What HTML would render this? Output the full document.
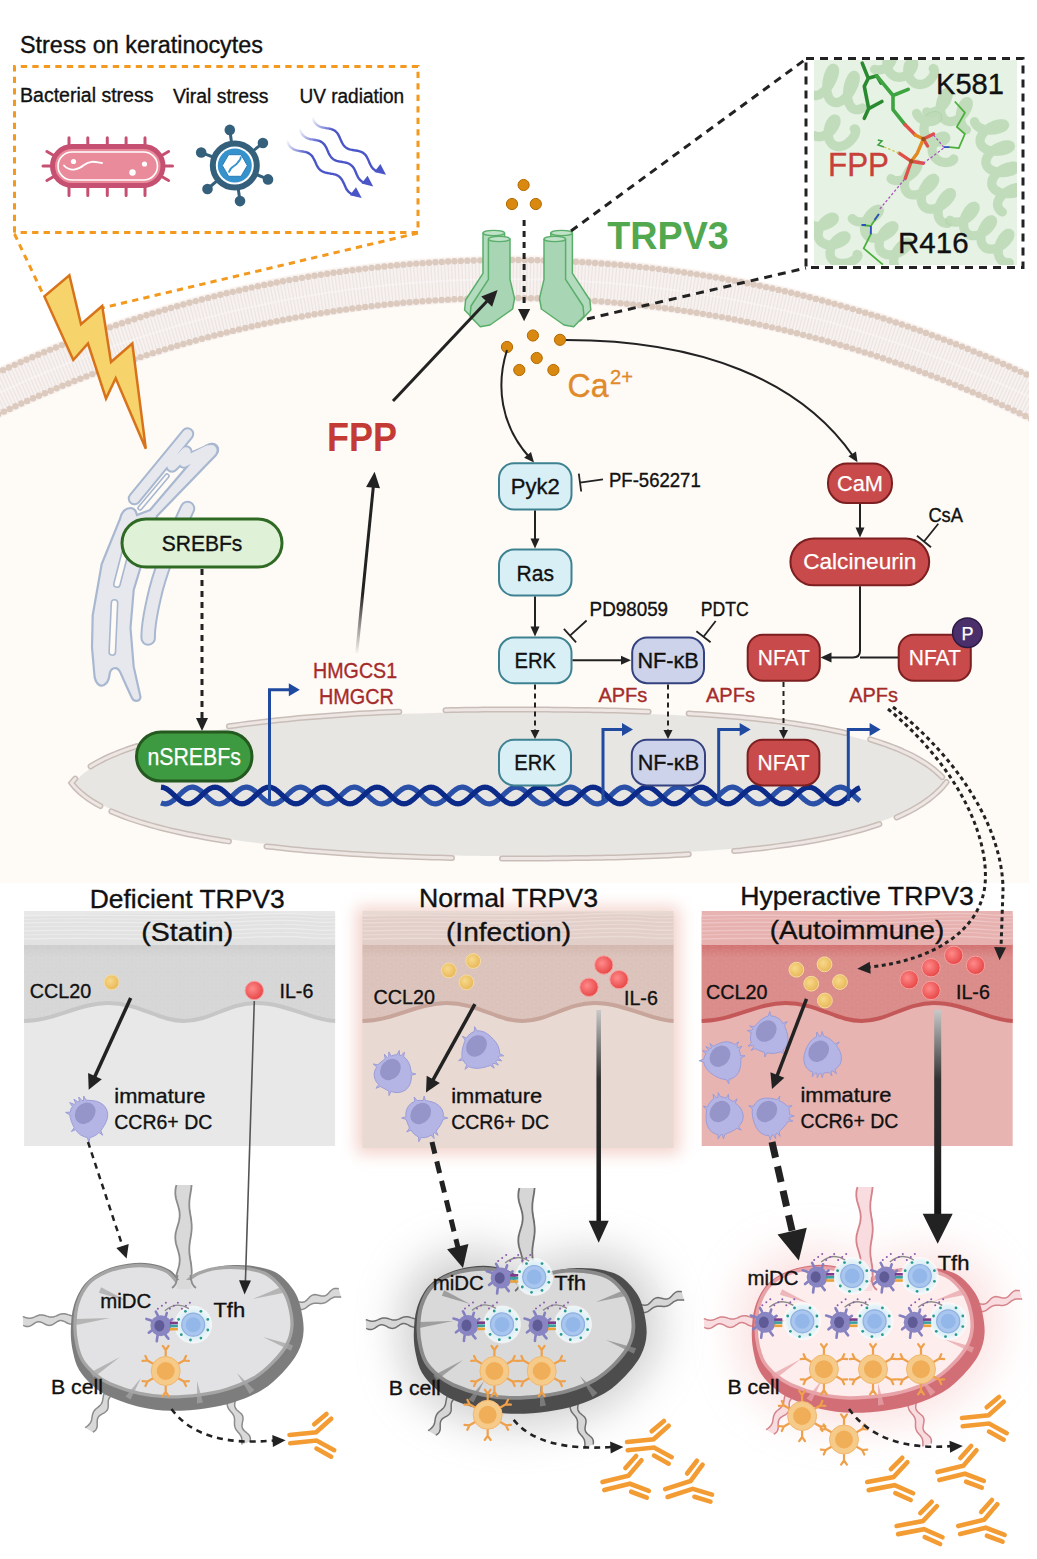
<!DOCTYPE html>
<html><head><meta charset="utf-8">
<style>
html,body{margin:0;padding:0;background:#fff;width:1037px;height:1559px;overflow:hidden}
svg{display:block}
text{font-family:"Liberation Sans",sans-serif}
</style></head><body>
<svg width="1037" height="1559" viewBox="0 0 1037 1559">
<defs>
<clipPath id="cellclip"><rect x="0" y="0" width="1029" height="883"/></clipPath>
<marker id="ah" viewBox="0 0 10 10" refX="9" refY="5" markerWidth="9" markerHeight="9" markerUnits="userSpaceOnUse" orient="auto"><path d="M0,0 L10,5 L0,10 z" fill="#222"/></marker>
<marker id="ahb" viewBox="0 0 10 10" refX="9" refY="5" markerWidth="12" markerHeight="12" markerUnits="userSpaceOnUse" orient="auto"><path d="M0,0 L10,5 L0,10 z" fill="#222"/></marker>
<filter id="blur8" x="-50%" y="-50%" width="200%" height="200%"><feGaussianBlur stdDeviation="8"/></filter>
<filter id="blur20" x="-50%" y="-50%" width="200%" height="200%"><feGaussianBlur stdDeviation="22"/></filter>
<filter id="blur3" x="-50%" y="-50%" width="200%" height="200%"><feGaussianBlur stdDeviation="3"/></filter>
<linearGradient id="il6g" x1="0" y1="0" x2="0" y2="1"><stop offset="0" stop-color="#bbb"/><stop offset="0.45" stop-color="#222"/><stop offset="1" stop-color="#111"/></linearGradient>
<radialGradient id="ydot" cx="0.4" cy="0.4" r="0.6"><stop offset="0" stop-color="#f7d98a"/><stop offset="1" stop-color="#e9b85a"/></radialGradient>
<radialGradient id="rdot" cx="0.4" cy="0.4" r="0.6"><stop offset="0" stop-color="#ff8a8a"/><stop offset="1" stop-color="#e84848"/></radialGradient>
<linearGradient id="fadeup" gradientUnits="userSpaceOnUse" x1="356" y1="655" x2="374" y2="480"><stop offset="0" stop-color="#222" stop-opacity="0"/><stop offset="0.35" stop-color="#222"/><stop offset="1" stop-color="#222"/></linearGradient>
<radialGradient id="thalo"><stop offset="0.55" stop-color="#d6ecf4"/><stop offset="0.85" stop-color="#e8f4f8"/><stop offset="1" stop-color="#ffffff" stop-opacity="0.6"/></radialGradient>
</defs>
<rect width="1037" height="1559" fill="#fff"/>
<g clip-path="url(#cellclip)">
<circle cx="510" cy="1482" r="1227" fill="#fefaf6"/>
<circle cx="510" cy="1482" r="1203" fill="none" stroke="#f7f2f0" stroke-width="46"/>
<circle cx="510" cy="1482" r="1203" fill="none" stroke="#e2d8d4" stroke-width="34" stroke-dasharray="1.2 2.2" opacity="0.5"/>
<circle cx="510" cy="1482" r="1203" fill="none" stroke="#fbf8f7" stroke-width="2" opacity="0.5"/>
<circle cx="510" cy="1482" r="1222" fill="none" stroke="#dccabf" stroke-width="6.4" stroke-dasharray="0 6.4" stroke-linecap="round"/>
<circle cx="510" cy="1482" r="1184" fill="none" stroke="#dccabf" stroke-width="6.4" stroke-dasharray="0 6.4" stroke-linecap="round"/>
<path d="M74.0,783.0 L75.8,780.8 L77.8,778.7 L79.9,776.7 L82.2,774.6 L84.7,772.6 L87.3,770.7 L90.1,768.8 L93.1,766.9 L96.1,765.1 L99.4,763.3 L102.7,761.5 L106.3,759.8 L109.9,758.2 L113.7,756.5 L117.6,754.9 L121.6,753.3 L125.8,751.8 L130.1,750.3 L134.5,748.9 L139.0,747.4 L143.6,746.0 L148.4,744.7 L153.2,743.4 L158.2,742.1 L163.2,740.8 L168.4,739.6 L173.6,738.4 L178.9,737.3 L184.4,736.1 L189.9,735.0 L195.5,734.0 L201.1,733.0 L206.9,732.0 L212.7,731.0 L218.6,730.0 L224.6,729.1 L230.6,728.2 L236.7,727.4 L242.8,726.6 L249.0,725.8 L255.3,725.0 L261.6,724.2 L267.9,723.5 L274.3,722.8 L280.7,722.1 L287.2,721.5 L293.7,720.9 L300.2,720.3 L306.8,719.7 L313.4,719.2 L320.0,718.6 L326.6,718.1 L333.3,717.7 L339.9,717.2 L346.6,716.8 L353.3,716.4 L360.0,716.0 L366.6,715.6 L373.3,715.3 L380.0,714.9 L386.7,714.6 L393.3,714.3 L400.0,714.1 L406.6,713.8 L413.2,713.6 L419.8,713.4 L426.4,713.2 L432.9,713.0 L439.4,712.8 L445.9,712.7 L452.3,712.5 L458.7,712.4 L465.0,712.3 L471.3,712.2 L477.6,712.2 L483.8,712.1 L489.9,712.1 L496.0,712.0 L502.0,712.0 L508.0,712.0 L514.5,712.0 L521.0,712.0 L527.5,712.0 L534.1,712.0 L540.6,712.1 L547.3,712.1 L553.9,712.2 L560.5,712.2 L567.2,712.3 L573.9,712.3 L580.6,712.4 L587.3,712.5 L594.0,712.6 L600.8,712.8 L607.5,712.9 L614.2,713.0 L620.9,713.2 L627.7,713.4 L634.4,713.6 L641.1,713.8 L647.8,714.0 L654.5,714.3 L661.2,714.5 L667.8,714.8 L674.5,715.1 L681.1,715.5 L687.7,715.8 L694.2,716.2 L700.8,716.6 L707.3,717.0 L713.8,717.5 L720.2,717.9 L726.6,718.4 L733.0,718.9 L739.3,719.5 L745.6,720.0 L751.8,720.6 L758.0,721.3 L764.2,721.9 L770.2,722.6 L776.3,723.3 L782.2,724.1 L788.2,724.9 L794.0,725.7 L799.8,726.5 L805.5,727.4 L811.2,728.3 L816.7,729.3 L822.2,730.3 L827.7,731.3 L833.0,732.3 L838.3,733.4 L843.5,734.6 L848.6,735.7 L853.6,737.0 L858.5,738.2 L863.4,739.5 L868.1,740.8 L872.7,742.2 L877.3,743.6 L881.7,745.1 L886.1,746.6 L890.3,748.2 L894.4,749.8 L898.5,751.4 L902.4,753.1 L906.1,754.8 L909.8,756.6 L913.4,758.4 L916.8,760.3 L920.1,762.3 L923.3,764.2 L926.4,766.3 L929.3,768.4 L932.1,770.5 L934.8,772.7 L937.3,774.9 L939.7,777.2 L941.9,779.6 L944.0,782.0 L941.9,784.6 L939.7,787.1 L937.3,789.5 L934.8,791.9 L932.1,794.2 L929.3,796.5 L926.4,798.7 L923.3,800.8 L920.1,802.9 L916.8,805.0 L913.4,807.0 L909.8,808.9 L906.1,810.8 L902.4,812.7 L898.5,814.5 L894.4,816.2 L890.3,817.9 L886.1,819.5 L881.7,821.1 L877.3,822.7 L872.7,824.2 L868.1,825.6 L863.4,827.0 L858.5,828.4 L853.6,829.7 L848.6,831.0 L843.5,832.3 L838.3,833.5 L833.0,834.6 L827.7,835.7 L822.2,836.8 L816.7,837.9 L811.2,838.9 L805.5,839.8 L799.8,840.8 L794.0,841.6 L788.2,842.5 L782.2,843.3 L776.3,844.1 L770.2,844.9 L764.2,845.6 L758.0,846.3 L751.8,847.0 L745.6,847.6 L739.3,848.2 L733.0,848.8 L726.6,849.3 L720.2,849.8 L713.8,850.3 L707.3,850.8 L700.8,851.2 L694.2,851.6 L687.7,852.0 L681.1,852.4 L674.5,852.7 L667.8,853.1 L661.2,853.4 L654.5,853.6 L647.8,853.9 L641.1,854.1 L634.4,854.4 L627.7,854.6 L620.9,854.8 L614.2,854.9 L607.5,855.1 L600.8,855.2 L594.0,855.4 L587.3,855.5 L580.6,855.6 L573.9,855.7 L567.2,855.7 L560.5,855.8 L553.9,855.8 L547.3,855.9 L540.6,855.9 L534.1,856.0 L527.5,856.0 L521.0,856.0 L514.5,856.0 L508.0,856.0 L502.0,856.0 L496.0,856.0 L489.9,855.9 L483.8,855.9 L477.6,855.8 L471.3,855.8 L465.0,855.7 L458.7,855.6 L452.3,855.5 L445.9,855.3 L439.4,855.2 L432.9,855.0 L426.4,854.8 L419.8,854.6 L413.2,854.4 L406.6,854.2 L400.0,853.9 L393.3,853.6 L386.7,853.3 L380.0,853.0 L373.3,852.7 L366.6,852.3 L360.0,852.0 L353.3,851.6 L346.6,851.2 L339.9,850.7 L333.3,850.3 L326.6,849.8 L320.0,849.3 L313.4,848.7 L306.8,848.2 L300.2,847.6 L293.7,847.0 L287.2,846.3 L280.7,845.7 L274.3,845.0 L267.9,844.3 L261.6,843.6 L255.3,842.8 L249.0,842.0 L242.8,841.2 L236.7,840.3 L230.6,839.5 L224.6,838.5 L218.6,837.6 L212.7,836.6 L206.9,835.6 L201.1,834.6 L195.5,833.6 L189.9,832.5 L184.4,831.3 L178.9,830.2 L173.6,829.0 L168.4,827.8 L163.2,826.5 L158.2,825.2 L153.2,823.9 L148.4,822.5 L143.6,821.1 L139.0,819.7 L134.5,818.3 L130.1,816.7 L125.8,815.2 L121.6,813.6 L117.6,812.0 L113.7,810.4 L109.9,808.7 L106.3,806.9 L102.7,805.2 L99.4,803.4 L96.1,801.5 L93.1,799.6 L90.1,797.7 L87.3,795.7 L84.7,793.7 L82.2,791.7 L79.9,789.6 L77.8,787.4 L75.8,785.2Z" fill="#e8e6e3"/>
<path d="M90.6,766.4 L93.7,764.5 L97.0,762.6 L100.4,760.8 L103.9,759.0 L107.5,757.3 L111.4,755.6 L115.3,754.0 L119.3,752.3 L123.5,750.7 L127.8,749.2 L132.3,747.7 L136.8,746.2" fill="none" stroke="#c9bdb7" stroke-width="6" stroke-linecap="round"/>
<path d="M90.6,766.4 L93.7,764.5 L97.0,762.6 L100.4,760.8 L103.9,759.0 L107.5,757.3 L111.4,755.6 L115.3,754.0 L119.3,752.3 L123.5,750.7 L127.8,749.2 L132.3,747.7 L136.8,746.2" fill="none" stroke="#ede6e2" stroke-width="3" stroke-linecap="round"/>
<path d="M228.9,726.3 L235.1,725.5 L241.2,724.6 L247.5,723.8 L253.8,723.0 L260.1,722.2 L266.5,721.4 L272.9,720.7 L279.4,720.0 L285.9,719.4 L292.4,718.7 L299.0,718.1 L305.6,717.5 L312.2,717.0 L318.9,716.4 L325.5,715.9 L332.2,715.4 L338.9,714.9 L345.6,714.5 L352.4,714.0 L359.1,713.6 L365.8,713.3 L372.5,712.9 L379.2,712.6 L385.9,712.2 L392.6,711.9 L399.3,711.7" fill="none" stroke="#c9bdb7" stroke-width="6" stroke-linecap="round"/>
<path d="M228.9,726.3 L235.1,725.5 L241.2,724.6 L247.5,723.8 L253.8,723.0 L260.1,722.2 L266.5,721.4 L272.9,720.7 L279.4,720.0 L285.9,719.4 L292.4,718.7 L299.0,718.1 L305.6,717.5 L312.2,717.0 L318.9,716.4 L325.5,715.9 L332.2,715.4 L338.9,714.9 L345.6,714.5 L352.4,714.0 L359.1,713.6 L365.8,713.3 L372.5,712.9 L379.2,712.6 L385.9,712.2 L392.6,711.9 L399.3,711.7" fill="none" stroke="#ede6e2" stroke-width="3" stroke-linecap="round"/>
<path d="M445.5,710.2 L452.0,710.1 L458.4,709.9 L464.8,709.8 L471.1,709.7 L477.4,709.7 L483.6,709.6 L489.8,709.6 L495.9,709.5 L502.0,709.5 L508.0,709.5 L514.5,709.5 L521.0,709.5 L527.6,709.5 L534.2,709.5 L540.8,709.6 L547.5,709.6 L554.2,709.7 L560.9,709.7 L567.6,709.8 L574.3,709.9 L581.0,710.0 L587.8,710.1 L594.5,710.2 L601.3,710.3 L608.1,710.5 L614.8,710.6 L621.6,710.8 L628.4,711.0 L635.1,711.2 L641.9,711.4 L648.6,711.7" fill="none" stroke="#c9bdb7" stroke-width="6" stroke-linecap="round"/>
<path d="M445.5,710.2 L452.0,710.1 L458.4,709.9 L464.8,709.8 L471.1,709.7 L477.4,709.7 L483.6,709.6 L489.8,709.6 L495.9,709.5 L502.0,709.5 L508.0,709.5 L514.5,709.5 L521.0,709.5 L527.6,709.5 L534.2,709.5 L540.8,709.6 L547.5,709.6 L554.2,709.7 L560.9,709.7 L567.6,709.8 L574.3,709.9 L581.0,710.0 L587.8,710.1 L594.5,710.2 L601.3,710.3 L608.1,710.5 L614.8,710.6 L621.6,710.8 L628.4,711.0 L635.1,711.2 L641.9,711.4 L648.6,711.7" fill="none" stroke="#ede6e2" stroke-width="3" stroke-linecap="round"/>
<path d="M688.7,713.5 L695.3,713.9 L701.9,714.3 L708.4,714.8 L714.9,715.2 L721.4,715.7 L727.9,716.2 L734.3,716.8 L740.6,717.3 L746.9,717.9 L753.2,718.6 L759.4,719.2 L765.6,719.9 L771.7,720.6 L777.8,721.4 L783.8,722.1 L789.7,722.9 L795.6,723.8 L801.4,724.7 L807.2,725.6 L812.9,726.5 L818.5,727.5 L824.0,728.5 L829.5,729.6 L834.9,730.7 L840.2,731.8 L845.4,733.0" fill="none" stroke="#c9bdb7" stroke-width="6" stroke-linecap="round"/>
<path d="M688.7,713.5 L695.3,713.9 L701.9,714.3 L708.4,714.8 L714.9,715.2 L721.4,715.7 L727.9,716.2 L734.3,716.8 L740.6,717.3 L746.9,717.9 L753.2,718.6 L759.4,719.2 L765.6,719.9 L771.7,720.6 L777.8,721.4 L783.8,722.1 L789.7,722.9 L795.6,723.8 L801.4,724.7 L807.2,725.6 L812.9,726.5 L818.5,727.5 L824.0,728.5 L829.5,729.6 L834.9,730.7 L840.2,731.8 L845.4,733.0" fill="none" stroke="#ede6e2" stroke-width="3" stroke-linecap="round"/>
<path d="M870.2,739.4 L874.8,740.8 L879.4,742.3 L883.9,743.8 L888.2,745.4 L892.5,747.0 L896.7,748.6 L900.7,750.3 L904.6,752.1 L908.5,753.9 L912.2,755.7 L915.7,757.6 L919.2,759.6 L922.5,761.6 L925.7,763.6 L928.8,765.7 L931.8,767.9 L934.6,770.1 L937.2,772.4 L939.8,774.7 L942.2,777.1" fill="none" stroke="#c9bdb7" stroke-width="6" stroke-linecap="round"/>
<path d="M870.2,739.4 L874.8,740.8 L879.4,742.3 L883.9,743.8 L888.2,745.4 L892.5,747.0 L896.7,748.6 L900.7,750.3 L904.6,752.1 L908.5,753.9 L912.2,755.7 L915.7,757.6 L919.2,759.6 L922.5,761.6 L925.7,763.6 L928.8,765.7 L931.8,767.9 L934.6,770.1 L937.2,772.4 L939.8,774.7 L942.2,777.1" fill="none" stroke="#ede6e2" stroke-width="3" stroke-linecap="round"/>
<path d="M946.5,782.0 L944.4,784.6 L942.2,787.2 L939.8,789.8 L937.2,792.2 L934.6,794.6 L931.7,797.0 L928.8,799.3 L925.7,801.5 L922.5,803.7 L919.2,805.8 L915.7,807.9 L912.1,809.9 L908.4,811.8 L904.6,813.7 L900.7,815.6 L896.6,817.4" fill="none" stroke="#c9bdb7" stroke-width="6" stroke-linecap="round"/>
<path d="M946.5,782.0 L944.4,784.6 L942.2,787.2 L939.8,789.8 L937.2,792.2 L934.6,794.6 L931.7,797.0 L928.8,799.3 L925.7,801.5 L922.5,803.7 L919.2,805.8 L915.7,807.9 L912.1,809.9 L908.4,811.8 L904.6,813.7 L900.7,815.6 L896.6,817.4" fill="none" stroke="#ede6e2" stroke-width="3" stroke-linecap="round"/>
<path d="M879.4,824.1 L874.8,825.6 L870.1,827.1 L865.3,828.6 L860.5,830.0 L855.5,831.3 L850.5,832.7 L845.3,833.9 L840.1,835.2 L834.8,836.4 L829.4,837.5 L824.0,838.6 L818.4,839.7 L812.8,840.7 L807.1,841.7 L801.4,842.7 L795.6,843.6 L789.7,844.5 L783.7,845.3 L777.7,846.1 L771.7,846.9 L765.6,847.7 L759.4,848.4 L753.2,849.1 L746.9,849.7 L740.6,850.4 L734.2,850.9" fill="none" stroke="#c9bdb7" stroke-width="6" stroke-linecap="round"/>
<path d="M879.4,824.1 L874.8,825.6 L870.1,827.1 L865.3,828.6 L860.5,830.0 L855.5,831.3 L850.5,832.7 L845.3,833.9 L840.1,835.2 L834.8,836.4 L829.4,837.5 L824.0,838.6 L818.4,839.7 L812.8,840.7 L807.1,841.7 L801.4,842.7 L795.6,843.6 L789.7,844.5 L783.7,845.3 L777.7,846.1 L771.7,846.9 L765.6,847.7 L759.4,848.4 L753.2,849.1 L746.9,849.7 L740.6,850.4 L734.2,850.9" fill="none" stroke="#ede6e2" stroke-width="3" stroke-linecap="round"/>
<path d="M688.7,854.3 L682.0,854.7 L675.4,855.1 L668.7,855.4 L662.0,855.7 L655.3,856.0 L648.6,856.3 L641.8,856.5 L635.1,856.8 L628.3,857.0 L621.6,857.2 L614.8,857.4 L608.0,857.5 L601.3,857.7 L594.5,857.8 L587.7,857.9 L581.0,858.0 L574.3,858.1 L567.5,858.2 L560.8,858.3 L554.1,858.3 L547.5,858.4 L540.8,858.4 L534.2,858.5 L527.6,858.5 L521.0,858.5 L514.5,858.5 L508.0,858.5 L502.0,858.5" fill="none" stroke="#c9bdb7" stroke-width="6" stroke-linecap="round"/>
<path d="M688.7,854.3 L682.0,854.7 L675.4,855.1 L668.7,855.4 L662.0,855.7 L655.3,856.0 L648.6,856.3 L641.8,856.5 L635.1,856.8 L628.3,857.0 L621.6,857.2 L614.8,857.4 L608.0,857.5 L601.3,857.7 L594.5,857.8 L587.7,857.9 L581.0,858.0 L574.3,858.1 L567.5,858.2 L560.8,858.3 L554.1,858.3 L547.5,858.4 L540.8,858.4 L534.2,858.5 L527.6,858.5 L521.0,858.5 L514.5,858.5 L508.0,858.5 L502.0,858.5" fill="none" stroke="#ede6e2" stroke-width="3" stroke-linecap="round"/>
<path d="M452.0,857.9 L445.5,857.8 L439.0,857.6 L432.5,857.5 L425.9,857.3 L419.3,857.1 L412.7,856.8 L406.0,856.6 L399.4,856.3 L392.7,856.1 L386.0,855.7 L379.3,855.4 L372.6,855.1 L365.8,854.7 L359.1,854.3 L352.4,853.9 L345.7,853.5 L339.0,853.0 L332.3,852.5 L325.6,852.0 L318.9,851.5 L312.3,851.0 L305.7,850.4 L299.1,849.8 L292.5,849.2 L285.9,848.5 L279.4,847.8 L273.0,847.1 L266.5,846.4" fill="none" stroke="#c9bdb7" stroke-width="6" stroke-linecap="round"/>
<path d="M452.0,857.9 L445.5,857.8 L439.0,857.6 L432.5,857.5 L425.9,857.3 L419.3,857.1 L412.7,856.8 L406.0,856.6 L399.4,856.3 L392.7,856.1 L386.0,855.7 L379.3,855.4 L372.6,855.1 L365.8,854.7 L359.1,854.3 L352.4,853.9 L345.7,853.5 L339.0,853.0 L332.3,852.5 L325.6,852.0 L318.9,851.5 L312.3,851.0 L305.7,850.4 L299.1,849.8 L292.5,849.2 L285.9,848.5 L279.4,847.8 L273.0,847.1 L266.5,846.4" fill="none" stroke="#ede6e2" stroke-width="3" stroke-linecap="round"/>
<path d="M229.0,841.4 L222.9,840.5 L217.0,839.5 L211.0,838.5 L205.2,837.5 L199.4,836.4 L193.7,835.3 L188.1,834.2 L182.5,833.0 L177.1,831.8 L171.7,830.6 L166.4,829.3 L161.2,828.0 L156.2,826.7 L151.2,825.3 L146.3,823.9 L141.5,822.5 L136.9,821.0 L132.3,819.5 L127.9,818.0 L123.6,816.4 L119.4,814.7 L115.3,813.1 L111.4,811.4" fill="none" stroke="#c9bdb7" stroke-width="6" stroke-linecap="round"/>
<path d="M229.0,841.4 L222.9,840.5 L217.0,839.5 L211.0,838.5 L205.2,837.5 L199.4,836.4 L193.7,835.3 L188.1,834.2 L182.5,833.0 L177.1,831.8 L171.7,830.6 L166.4,829.3 L161.2,828.0 L156.2,826.7 L151.2,825.3 L146.3,823.9 L141.5,822.5 L136.9,821.0 L132.3,819.5 L127.9,818.0 L123.6,816.4 L119.4,814.7 L115.3,813.1 L111.4,811.4" fill="none" stroke="#ede6e2" stroke-width="3" stroke-linecap="round"/>
<path d="M100.4,806.0 L97.0,804.1 L93.7,802.2 L90.6,800.2 L87.7,798.2 L84.9,796.2 L82.3,794.1 L79.8,792.0 L77.5,789.8 L75.3,787.6 L73.3,785.3 L71.5,783.0 L73.3,780.8 L75.3,778.6" fill="none" stroke="#c9bdb7" stroke-width="6" stroke-linecap="round"/>
<path d="M100.4,806.0 L97.0,804.1 L93.7,802.2 L90.6,800.2 L87.7,798.2 L84.9,796.2 L82.3,794.1 L79.8,792.0 L77.5,789.8 L75.3,787.6 L73.3,785.3 L71.5,783.0 L73.3,780.8 L75.3,778.6" fill="none" stroke="#ede6e2" stroke-width="3" stroke-linecap="round"/>
<path d="M161.0,802.8 L162.0,803.2 L163.0,803.5 L164.0,803.7 L165.0,803.8 L166.0,803.8 L167.0,803.6 L168.0,803.4 L169.0,803.0 L170.0,802.6 L171.0,802.0 L172.0,801.4 L173.0,800.7 L174.0,799.9 L175.0,799.0 L176.0,798.2 L177.0,797.2 L178.0,796.3 L179.0,795.3 L180.0,794.3 L181.0,793.4 L182.0,792.5 L183.0,791.6 L184.0,790.8 L185.0,790.0 L186.0,789.3 L187.0,788.7 L188.0,788.2 L189.0,787.8 L190.0,787.5 L191.0,787.3 L192.0,787.2 L193.0,787.2 L194.0,787.4 L195.0,787.6 L196.0,788.0 L197.0,788.4 L198.0,789.0 L199.0,789.6 L200.0,790.3 L201.0,791.1 L202.0,792.0 L203.0,792.8 L204.0,793.8 L205.0,794.7 L206.0,795.7 L207.0,796.7 L208.0,797.6 L209.0,798.5 L210.0,799.4 L211.0,800.2 L212.0,801.0 L213.0,801.7 L214.0,802.3 L215.0,802.8 L216.0,803.2 L217.0,803.5 L218.0,803.7 L219.0,803.8 L220.0,803.8 L221.0,803.6 L222.0,803.4 L223.0,803.0 L224.0,802.6 L225.0,802.0 L226.0,801.4 L227.0,800.7 L228.0,799.9 L229.0,799.0 L230.0,798.2 L231.0,797.2 L232.0,796.3 L233.0,795.3 L234.0,794.3 L235.0,793.4 L236.0,792.5 L237.0,791.6 L238.0,790.8 L239.0,790.0 L240.0,789.3 L241.0,788.7 L242.0,788.2 L243.0,787.8 L244.0,787.5 L245.0,787.3 L246.0,787.2 L247.0,787.2 L248.0,787.4 L249.0,787.6 L250.0,788.0 L251.0,788.4 L252.0,789.0 L253.0,789.6 L254.0,790.3 L255.0,791.1 L256.0,792.0 L257.0,792.8 L258.0,793.8 L259.0,794.7 L260.0,795.7 L261.0,796.7 L262.0,797.6 L263.0,798.5 L264.0,799.4 L265.0,800.2 L266.0,801.0 L267.0,801.7 L268.0,802.3 L269.0,802.8 L270.0,803.2 L271.0,803.5 L272.0,803.7 L273.0,803.8 L274.0,803.8 L275.0,803.6 L276.0,803.4 L277.0,803.0 L278.0,802.6 L279.0,802.0 L280.0,801.4 L281.0,800.7 L282.0,799.9 L283.0,799.0 L284.0,798.2 L285.0,797.2 L286.0,796.3 L287.0,795.3 L288.0,794.3 L289.0,793.4 L290.0,792.5 L291.0,791.6 L292.0,790.8 L293.0,790.0 L294.0,789.3 L295.0,788.7 L296.0,788.2 L297.0,787.8 L298.0,787.5 L299.0,787.3 L300.0,787.2 L301.0,787.2 L302.0,787.4 L303.0,787.6 L304.0,788.0 L305.0,788.4 L306.0,789.0 L307.0,789.6 L308.0,790.3 L309.0,791.1 L310.0,792.0 L311.0,792.8 L312.0,793.8 L313.0,794.7 L314.0,795.7 L315.0,796.7 L316.0,797.6 L317.0,798.5 L318.0,799.4 L319.0,800.2 L320.0,801.0 L321.0,801.7 L322.0,802.3 L323.0,802.8 L324.0,803.2 L325.0,803.5 L326.0,803.7 L327.0,803.8 L328.0,803.8 L329.0,803.6 L330.0,803.4 L331.0,803.0 L332.0,802.6 L333.0,802.0 L334.0,801.4 L335.0,800.7 L336.0,799.9 L337.0,799.0 L338.0,798.2 L339.0,797.2 L340.0,796.3 L341.0,795.3 L342.0,794.3 L343.0,793.4 L344.0,792.5 L345.0,791.6 L346.0,790.8 L347.0,790.0 L348.0,789.3 L349.0,788.7 L350.0,788.2 L351.0,787.8 L352.0,787.5 L353.0,787.3 L354.0,787.2 L355.0,787.2 L356.0,787.4 L357.0,787.6 L358.0,788.0 L359.0,788.4 L360.0,789.0 L361.0,789.6 L362.0,790.3 L363.0,791.1 L364.0,792.0 L365.0,792.8 L366.0,793.8 L367.0,794.7 L368.0,795.7 L369.0,796.7 L370.0,797.6 L371.0,798.5 L372.0,799.4 L373.0,800.2 L374.0,801.0 L375.0,801.7 L376.0,802.3 L377.0,802.8 L378.0,803.2 L379.0,803.5 L380.0,803.7 L381.0,803.8 L382.0,803.8 L383.0,803.6 L384.0,803.4 L385.0,803.0 L386.0,802.6 L387.0,802.0 L388.0,801.4 L389.0,800.7 L390.0,799.9 L391.0,799.0 L392.0,798.2 L393.0,797.2 L394.0,796.3 L395.0,795.3 L396.0,794.3 L397.0,793.4 L398.0,792.5 L399.0,791.6 L400.0,790.8 L401.0,790.0 L402.0,789.3 L403.0,788.7 L404.0,788.2 L405.0,787.8 L406.0,787.5 L407.0,787.3 L408.0,787.2 L409.0,787.2 L410.0,787.4 L411.0,787.6 L412.0,788.0 L413.0,788.4 L414.0,789.0 L415.0,789.6 L416.0,790.3 L417.0,791.1 L418.0,792.0 L419.0,792.8 L420.0,793.8 L421.0,794.7 L422.0,795.7 L423.0,796.7 L424.0,797.6 L425.0,798.5 L426.0,799.4 L427.0,800.2 L428.0,801.0 L429.0,801.7 L430.0,802.3 L431.0,802.8 L432.0,803.2 L433.0,803.5 L434.0,803.7 L435.0,803.8 L436.0,803.8 L437.0,803.6 L438.0,803.4 L439.0,803.0 L440.0,802.6 L441.0,802.0 L442.0,801.4 L443.0,800.7 L444.0,799.9 L445.0,799.0 L446.0,798.2 L447.0,797.2 L448.0,796.3 L449.0,795.3 L450.0,794.3 L451.0,793.4 L452.0,792.5 L453.0,791.6 L454.0,790.8 L455.0,790.0 L456.0,789.3 L457.0,788.7 L458.0,788.2 L459.0,787.8 L460.0,787.5 L461.0,787.3 L462.0,787.2 L463.0,787.2 L464.0,787.4 L465.0,787.6 L466.0,788.0 L467.0,788.4 L468.0,789.0 L469.0,789.6 L470.0,790.3 L471.0,791.1 L472.0,792.0 L473.0,792.8 L474.0,793.8 L475.0,794.7 L476.0,795.7 L477.0,796.7 L478.0,797.6 L479.0,798.5 L480.0,799.4 L481.0,800.2 L482.0,801.0 L483.0,801.7 L484.0,802.3 L485.0,802.8 L486.0,803.2 L487.0,803.5 L488.0,803.7 L489.0,803.8 L490.0,803.8 L491.0,803.6 L492.0,803.4 L493.0,803.0 L494.0,802.6 L495.0,802.0 L496.0,801.4 L497.0,800.7 L498.0,799.9 L499.0,799.0 L500.0,798.2 L501.0,797.2 L502.0,796.3 L503.0,795.3 L504.0,794.3 L505.0,793.4 L506.0,792.5 L507.0,791.6 L508.0,790.8 L509.0,790.0 L510.0,789.3 L511.0,788.7 L512.0,788.2 L513.0,787.8 L514.0,787.5 L515.0,787.3 L516.0,787.2 L517.0,787.2 L518.0,787.4 L519.0,787.6 L520.0,788.0 L521.0,788.4 L522.0,789.0 L523.0,789.6 L524.0,790.3 L525.0,791.1 L526.0,792.0 L527.0,792.8 L528.0,793.8 L529.0,794.7 L530.0,795.7 L531.0,796.7 L532.0,797.6 L533.0,798.5 L534.0,799.4 L535.0,800.2 L536.0,801.0 L537.0,801.7 L538.0,802.3 L539.0,802.8 L540.0,803.2 L541.0,803.5 L542.0,803.7 L543.0,803.8 L544.0,803.8 L545.0,803.6 L546.0,803.4 L547.0,803.0 L548.0,802.6 L549.0,802.0 L550.0,801.4 L551.0,800.7 L552.0,799.9 L553.0,799.0 L554.0,798.2 L555.0,797.2 L556.0,796.3 L557.0,795.3 L558.0,794.3 L559.0,793.4 L560.0,792.5 L561.0,791.6 L562.0,790.8 L563.0,790.0 L564.0,789.3 L565.0,788.7 L566.0,788.2 L567.0,787.8 L568.0,787.5 L569.0,787.3 L570.0,787.2 L571.0,787.2 L572.0,787.4 L573.0,787.6 L574.0,788.0 L575.0,788.4 L576.0,789.0 L577.0,789.6 L578.0,790.3 L579.0,791.1 L580.0,792.0 L581.0,792.8 L582.0,793.8 L583.0,794.7 L584.0,795.7 L585.0,796.7 L586.0,797.6 L587.0,798.5 L588.0,799.4 L589.0,800.2 L590.0,801.0 L591.0,801.7 L592.0,802.3 L593.0,802.8 L594.0,803.2 L595.0,803.5 L596.0,803.7 L597.0,803.8 L598.0,803.8 L599.0,803.6 L600.0,803.4 L601.0,803.0 L602.0,802.6 L603.0,802.0 L604.0,801.4 L605.0,800.7 L606.0,799.9 L607.0,799.0 L608.0,798.2 L609.0,797.2 L610.0,796.3 L611.0,795.3 L612.0,794.3 L613.0,793.4 L614.0,792.5 L615.0,791.6 L616.0,790.8 L617.0,790.0 L618.0,789.3 L619.0,788.7 L620.0,788.2 L621.0,787.8 L622.0,787.5 L623.0,787.3 L624.0,787.2 L625.0,787.2 L626.0,787.4 L627.0,787.6 L628.0,788.0 L629.0,788.4 L630.0,789.0 L631.0,789.6 L632.0,790.3 L633.0,791.1 L634.0,792.0 L635.0,792.8 L636.0,793.8 L637.0,794.7 L638.0,795.7 L639.0,796.7 L640.0,797.6 L641.0,798.5 L642.0,799.4 L643.0,800.2 L644.0,801.0 L645.0,801.7 L646.0,802.3 L647.0,802.8 L648.0,803.2 L649.0,803.5 L650.0,803.7 L651.0,803.8 L652.0,803.8 L653.0,803.6 L654.0,803.4 L655.0,803.0 L656.0,802.6 L657.0,802.0 L658.0,801.4 L659.0,800.7 L660.0,799.9 L661.0,799.0 L662.0,798.2 L663.0,797.2 L664.0,796.3 L665.0,795.3 L666.0,794.3 L667.0,793.4 L668.0,792.5 L669.0,791.6 L670.0,790.8 L671.0,790.0 L672.0,789.3 L673.0,788.7 L674.0,788.2 L675.0,787.8 L676.0,787.5 L677.0,787.3 L678.0,787.2 L679.0,787.2 L680.0,787.4 L681.0,787.6 L682.0,788.0 L683.0,788.4 L684.0,789.0 L685.0,789.6 L686.0,790.3 L687.0,791.1 L688.0,792.0 L689.0,792.8 L690.0,793.8 L691.0,794.7 L692.0,795.7 L693.0,796.7 L694.0,797.6 L695.0,798.5 L696.0,799.4 L697.0,800.2 L698.0,801.0 L699.0,801.7 L700.0,802.3 L701.0,802.8 L702.0,803.2 L703.0,803.5 L704.0,803.7 L705.0,803.8 L706.0,803.8 L707.0,803.6 L708.0,803.4 L709.0,803.0 L710.0,802.6 L711.0,802.0 L712.0,801.4 L713.0,800.7 L714.0,799.9 L715.0,799.0 L716.0,798.2 L717.0,797.2 L718.0,796.3 L719.0,795.3 L720.0,794.3 L721.0,793.4 L722.0,792.5 L723.0,791.6 L724.0,790.8 L725.0,790.0 L726.0,789.3 L727.0,788.7 L728.0,788.2 L729.0,787.8 L730.0,787.5 L731.0,787.3 L732.0,787.2 L733.0,787.2 L734.0,787.4 L735.0,787.6 L736.0,788.0 L737.0,788.4 L738.0,789.0 L739.0,789.6 L740.0,790.3 L741.0,791.1 L742.0,792.0 L743.0,792.8 L744.0,793.8 L745.0,794.7 L746.0,795.7 L747.0,796.7 L748.0,797.6 L749.0,798.5 L750.0,799.4 L751.0,800.2 L752.0,801.0 L753.0,801.7 L754.0,802.3 L755.0,802.8 L756.0,803.2 L757.0,803.5 L758.0,803.7 L759.0,803.8 L760.0,803.8 L761.0,803.6 L762.0,803.4 L763.0,803.0 L764.0,802.6 L765.0,802.0 L766.0,801.4 L767.0,800.7 L768.0,799.9 L769.0,799.0 L770.0,798.2 L771.0,797.2 L772.0,796.3 L773.0,795.3 L774.0,794.3 L775.0,793.4 L776.0,792.5 L777.0,791.6 L778.0,790.8 L779.0,790.0 L780.0,789.3 L781.0,788.7 L782.0,788.2 L783.0,787.8 L784.0,787.5 L785.0,787.3 L786.0,787.2 L787.0,787.2 L788.0,787.4 L789.0,787.6 L790.0,788.0 L791.0,788.4 L792.0,789.0 L793.0,789.6 L794.0,790.3 L795.0,791.1 L796.0,792.0 L797.0,792.8 L798.0,793.8 L799.0,794.7 L800.0,795.7 L801.0,796.7 L802.0,797.6 L803.0,798.5 L804.0,799.4 L805.0,800.2 L806.0,801.0 L807.0,801.7 L808.0,802.3 L809.0,802.8 L810.0,803.2 L811.0,803.5 L812.0,803.7 L813.0,803.8 L814.0,803.8 L815.0,803.6 L816.0,803.4 L817.0,803.0 L818.0,802.6 L819.0,802.0 L820.0,801.4 L821.0,800.7 L822.0,799.9 L823.0,799.0 L824.0,798.2 L825.0,797.2 L826.0,796.3 L827.0,795.3 L828.0,794.3 L829.0,793.4 L830.0,792.5 L831.0,791.6 L832.0,790.8 L833.0,790.0 L834.0,789.3 L835.0,788.7 L836.0,788.2 L837.0,787.8 L838.0,787.5 L839.0,787.3 L840.0,787.2 L841.0,787.2 L842.0,787.4 L843.0,787.6 L844.0,788.0 L845.0,788.4 L846.0,789.0 L847.0,789.6 L848.0,790.3 L849.0,791.1 L850.0,792.0 L851.0,792.8 L852.0,793.8 L853.0,794.7 L854.0,795.7 L855.0,796.7 L856.0,797.6 L857.0,798.5 L858.0,799.4 L859.0,800.2 L860.0,801.0" fill="none" stroke="#2a50a8" stroke-width="5.2"/>
<path d="M161.0,787.2 L162.0,787.3 L163.0,787.4 L164.0,787.7 L165.0,788.1 L166.0,788.6 L167.0,789.1 L168.0,789.8 L169.0,790.5 L170.0,791.4 L171.0,792.2 L172.0,793.1 L173.0,794.1 L174.0,795.0 L175.0,796.0 L176.0,796.9 L177.0,797.9 L178.0,798.8 L179.0,799.6 L180.0,800.5 L181.0,801.2 L182.0,801.9 L183.0,802.4 L184.0,802.9 L185.0,803.3 L186.0,803.6 L187.0,803.7 L188.0,803.8 L189.0,803.7 L190.0,803.6 L191.0,803.3 L192.0,802.9 L193.0,802.4 L194.0,801.9 L195.0,801.2 L196.0,800.5 L197.0,799.6 L198.0,798.8 L199.0,797.9 L200.0,796.9 L201.0,796.0 L202.0,795.0 L203.0,794.1 L204.0,793.1 L205.0,792.2 L206.0,791.4 L207.0,790.5 L208.0,789.8 L209.0,789.1 L210.0,788.6 L211.0,788.1 L212.0,787.7 L213.0,787.4 L214.0,787.3 L215.0,787.2 L216.0,787.3 L217.0,787.4 L218.0,787.7 L219.0,788.1 L220.0,788.6 L221.0,789.1 L222.0,789.8 L223.0,790.5 L224.0,791.4 L225.0,792.2 L226.0,793.1 L227.0,794.1 L228.0,795.0 L229.0,796.0 L230.0,796.9 L231.0,797.9 L232.0,798.8 L233.0,799.6 L234.0,800.5 L235.0,801.2 L236.0,801.9 L237.0,802.4 L238.0,802.9 L239.0,803.3 L240.0,803.6 L241.0,803.7 L242.0,803.8 L243.0,803.7 L244.0,803.6 L245.0,803.3 L246.0,802.9 L247.0,802.4 L248.0,801.9 L249.0,801.2 L250.0,800.5 L251.0,799.6 L252.0,798.8 L253.0,797.9 L254.0,796.9 L255.0,796.0 L256.0,795.0 L257.0,794.1 L258.0,793.1 L259.0,792.2 L260.0,791.4 L261.0,790.5 L262.0,789.8 L263.0,789.1 L264.0,788.6 L265.0,788.1 L266.0,787.7 L267.0,787.4 L268.0,787.3 L269.0,787.2 L270.0,787.3 L271.0,787.4 L272.0,787.7 L273.0,788.1 L274.0,788.6 L275.0,789.1 L276.0,789.8 L277.0,790.5 L278.0,791.4 L279.0,792.2 L280.0,793.1 L281.0,794.1 L282.0,795.0 L283.0,796.0 L284.0,796.9 L285.0,797.9 L286.0,798.8 L287.0,799.6 L288.0,800.5 L289.0,801.2 L290.0,801.9 L291.0,802.4 L292.0,802.9 L293.0,803.3 L294.0,803.6 L295.0,803.7 L296.0,803.8 L297.0,803.7 L298.0,803.6 L299.0,803.3 L300.0,802.9 L301.0,802.4 L302.0,801.9 L303.0,801.2 L304.0,800.5 L305.0,799.6 L306.0,798.8 L307.0,797.9 L308.0,796.9 L309.0,796.0 L310.0,795.0 L311.0,794.1 L312.0,793.1 L313.0,792.2 L314.0,791.4 L315.0,790.5 L316.0,789.8 L317.0,789.1 L318.0,788.6 L319.0,788.1 L320.0,787.7 L321.0,787.4 L322.0,787.3 L323.0,787.2 L324.0,787.3 L325.0,787.4 L326.0,787.7 L327.0,788.1 L328.0,788.6 L329.0,789.1 L330.0,789.8 L331.0,790.5 L332.0,791.4 L333.0,792.2 L334.0,793.1 L335.0,794.1 L336.0,795.0 L337.0,796.0 L338.0,796.9 L339.0,797.9 L340.0,798.8 L341.0,799.6 L342.0,800.5 L343.0,801.2 L344.0,801.9 L345.0,802.4 L346.0,802.9 L347.0,803.3 L348.0,803.6 L349.0,803.7 L350.0,803.8 L351.0,803.7 L352.0,803.6 L353.0,803.3 L354.0,802.9 L355.0,802.4 L356.0,801.9 L357.0,801.2 L358.0,800.5 L359.0,799.6 L360.0,798.8 L361.0,797.9 L362.0,796.9 L363.0,796.0 L364.0,795.0 L365.0,794.1 L366.0,793.1 L367.0,792.2 L368.0,791.4 L369.0,790.5 L370.0,789.8 L371.0,789.1 L372.0,788.6 L373.0,788.1 L374.0,787.7 L375.0,787.4 L376.0,787.3 L377.0,787.2 L378.0,787.3 L379.0,787.4 L380.0,787.7 L381.0,788.1 L382.0,788.6 L383.0,789.1 L384.0,789.8 L385.0,790.5 L386.0,791.4 L387.0,792.2 L388.0,793.1 L389.0,794.1 L390.0,795.0 L391.0,796.0 L392.0,796.9 L393.0,797.9 L394.0,798.8 L395.0,799.6 L396.0,800.5 L397.0,801.2 L398.0,801.9 L399.0,802.4 L400.0,802.9 L401.0,803.3 L402.0,803.6 L403.0,803.7 L404.0,803.8 L405.0,803.7 L406.0,803.6 L407.0,803.3 L408.0,802.9 L409.0,802.4 L410.0,801.9 L411.0,801.2 L412.0,800.5 L413.0,799.6 L414.0,798.8 L415.0,797.9 L416.0,796.9 L417.0,796.0 L418.0,795.0 L419.0,794.1 L420.0,793.1 L421.0,792.2 L422.0,791.4 L423.0,790.5 L424.0,789.8 L425.0,789.1 L426.0,788.6 L427.0,788.1 L428.0,787.7 L429.0,787.4 L430.0,787.3 L431.0,787.2 L432.0,787.3 L433.0,787.4 L434.0,787.7 L435.0,788.1 L436.0,788.6 L437.0,789.1 L438.0,789.8 L439.0,790.5 L440.0,791.4 L441.0,792.2 L442.0,793.1 L443.0,794.1 L444.0,795.0 L445.0,796.0 L446.0,796.9 L447.0,797.9 L448.0,798.8 L449.0,799.6 L450.0,800.5 L451.0,801.2 L452.0,801.9 L453.0,802.4 L454.0,802.9 L455.0,803.3 L456.0,803.6 L457.0,803.7 L458.0,803.8 L459.0,803.7 L460.0,803.6 L461.0,803.3 L462.0,802.9 L463.0,802.4 L464.0,801.9 L465.0,801.2 L466.0,800.5 L467.0,799.6 L468.0,798.8 L469.0,797.9 L470.0,796.9 L471.0,796.0 L472.0,795.0 L473.0,794.1 L474.0,793.1 L475.0,792.2 L476.0,791.4 L477.0,790.5 L478.0,789.8 L479.0,789.1 L480.0,788.6 L481.0,788.1 L482.0,787.7 L483.0,787.4 L484.0,787.3 L485.0,787.2 L486.0,787.3 L487.0,787.4 L488.0,787.7 L489.0,788.1 L490.0,788.6 L491.0,789.1 L492.0,789.8 L493.0,790.5 L494.0,791.4 L495.0,792.2 L496.0,793.1 L497.0,794.1 L498.0,795.0 L499.0,796.0 L500.0,796.9 L501.0,797.9 L502.0,798.8 L503.0,799.6 L504.0,800.5 L505.0,801.2 L506.0,801.9 L507.0,802.4 L508.0,802.9 L509.0,803.3 L510.0,803.6 L511.0,803.7 L512.0,803.8 L513.0,803.7 L514.0,803.6 L515.0,803.3 L516.0,802.9 L517.0,802.4 L518.0,801.9 L519.0,801.2 L520.0,800.5 L521.0,799.6 L522.0,798.8 L523.0,797.9 L524.0,796.9 L525.0,796.0 L526.0,795.0 L527.0,794.1 L528.0,793.1 L529.0,792.2 L530.0,791.4 L531.0,790.5 L532.0,789.8 L533.0,789.1 L534.0,788.6 L535.0,788.1 L536.0,787.7 L537.0,787.4 L538.0,787.3 L539.0,787.2 L540.0,787.3 L541.0,787.4 L542.0,787.7 L543.0,788.1 L544.0,788.6 L545.0,789.1 L546.0,789.8 L547.0,790.5 L548.0,791.4 L549.0,792.2 L550.0,793.1 L551.0,794.1 L552.0,795.0 L553.0,796.0 L554.0,796.9 L555.0,797.9 L556.0,798.8 L557.0,799.6 L558.0,800.5 L559.0,801.2 L560.0,801.9 L561.0,802.4 L562.0,802.9 L563.0,803.3 L564.0,803.6 L565.0,803.7 L566.0,803.8 L567.0,803.7 L568.0,803.6 L569.0,803.3 L570.0,802.9 L571.0,802.4 L572.0,801.9 L573.0,801.2 L574.0,800.5 L575.0,799.7 L576.0,798.8 L577.0,797.9 L578.0,796.9 L579.0,796.0 L580.0,795.0 L581.0,794.1 L582.0,793.1 L583.0,792.2 L584.0,791.4 L585.0,790.5 L586.0,789.8 L587.0,789.1 L588.0,788.6 L589.0,788.1 L590.0,787.7 L591.0,787.4 L592.0,787.3 L593.0,787.2 L594.0,787.3 L595.0,787.4 L596.0,787.7 L597.0,788.1 L598.0,788.6 L599.0,789.1 L600.0,789.8 L601.0,790.5 L602.0,791.3 L603.0,792.2 L604.0,793.1 L605.0,794.1 L606.0,795.0 L607.0,796.0 L608.0,796.9 L609.0,797.9 L610.0,798.8 L611.0,799.6 L612.0,800.5 L613.0,801.2 L614.0,801.9 L615.0,802.4 L616.0,802.9 L617.0,803.3 L618.0,803.6 L619.0,803.7 L620.0,803.8 L621.0,803.7 L622.0,803.6 L623.0,803.3 L624.0,802.9 L625.0,802.4 L626.0,801.9 L627.0,801.2 L628.0,800.5 L629.0,799.6 L630.0,798.8 L631.0,797.9 L632.0,796.9 L633.0,796.0 L634.0,795.0 L635.0,794.1 L636.0,793.1 L637.0,792.2 L638.0,791.4 L639.0,790.5 L640.0,789.8 L641.0,789.1 L642.0,788.6 L643.0,788.1 L644.0,787.7 L645.0,787.4 L646.0,787.3 L647.0,787.2 L648.0,787.3 L649.0,787.4 L650.0,787.7 L651.0,788.1 L652.0,788.6 L653.0,789.1 L654.0,789.8 L655.0,790.5 L656.0,791.4 L657.0,792.2 L658.0,793.1 L659.0,794.1 L660.0,795.0 L661.0,796.0 L662.0,796.9 L663.0,797.9 L664.0,798.8 L665.0,799.6 L666.0,800.5 L667.0,801.2 L668.0,801.9 L669.0,802.4 L670.0,802.9 L671.0,803.3 L672.0,803.6 L673.0,803.7 L674.0,803.8 L675.0,803.7 L676.0,803.6 L677.0,803.3 L678.0,802.9 L679.0,802.4 L680.0,801.9 L681.0,801.2 L682.0,800.5 L683.0,799.7 L684.0,798.8 L685.0,797.9 L686.0,796.9 L687.0,796.0 L688.0,795.0 L689.0,794.1 L690.0,793.1 L691.0,792.2 L692.0,791.4 L693.0,790.5 L694.0,789.8 L695.0,789.1 L696.0,788.6 L697.0,788.1 L698.0,787.7 L699.0,787.4 L700.0,787.3 L701.0,787.2 L702.0,787.3 L703.0,787.4 L704.0,787.7 L705.0,788.1 L706.0,788.6 L707.0,789.1 L708.0,789.8 L709.0,790.5 L710.0,791.3 L711.0,792.2 L712.0,793.1 L713.0,794.1 L714.0,795.0 L715.0,796.0 L716.0,796.9 L717.0,797.9 L718.0,798.8 L719.0,799.6 L720.0,800.5 L721.0,801.2 L722.0,801.9 L723.0,802.4 L724.0,802.9 L725.0,803.3 L726.0,803.6 L727.0,803.7 L728.0,803.8 L729.0,803.7 L730.0,803.6 L731.0,803.3 L732.0,802.9 L733.0,802.4 L734.0,801.9 L735.0,801.2 L736.0,800.5 L737.0,799.6 L738.0,798.8 L739.0,797.9 L740.0,796.9 L741.0,796.0 L742.0,795.0 L743.0,794.1 L744.0,793.1 L745.0,792.2 L746.0,791.4 L747.0,790.5 L748.0,789.8 L749.0,789.1 L750.0,788.6 L751.0,788.1 L752.0,787.7 L753.0,787.4 L754.0,787.3 L755.0,787.2 L756.0,787.3 L757.0,787.4 L758.0,787.7 L759.0,788.1 L760.0,788.6 L761.0,789.1 L762.0,789.8 L763.0,790.5 L764.0,791.4 L765.0,792.2 L766.0,793.1 L767.0,794.1 L768.0,795.0 L769.0,796.0 L770.0,796.9 L771.0,797.9 L772.0,798.8 L773.0,799.7 L774.0,800.5 L775.0,801.2 L776.0,801.9 L777.0,802.4 L778.0,802.9 L779.0,803.3 L780.0,803.6 L781.0,803.7 L782.0,803.8 L783.0,803.7 L784.0,803.6 L785.0,803.3 L786.0,802.9 L787.0,802.4 L788.0,801.9 L789.0,801.2 L790.0,800.5 L791.0,799.6 L792.0,798.8 L793.0,797.9 L794.0,796.9 L795.0,796.0 L796.0,795.0 L797.0,794.1 L798.0,793.1 L799.0,792.2 L800.0,791.4 L801.0,790.5 L802.0,789.8 L803.0,789.1 L804.0,788.6 L805.0,788.1 L806.0,787.7 L807.0,787.4 L808.0,787.3 L809.0,787.2 L810.0,787.3 L811.0,787.4 L812.0,787.7 L813.0,788.1 L814.0,788.6 L815.0,789.1 L816.0,789.8 L817.0,790.5 L818.0,791.4 L819.0,792.2 L820.0,793.1 L821.0,794.1 L822.0,795.0 L823.0,796.0 L824.0,796.9 L825.0,797.9 L826.0,798.8 L827.0,799.6 L828.0,800.5 L829.0,801.2 L830.0,801.9 L831.0,802.4 L832.0,802.9 L833.0,803.3 L834.0,803.6 L835.0,803.7 L836.0,803.8 L837.0,803.7 L838.0,803.6 L839.0,803.3 L840.0,802.9 L841.0,802.4 L842.0,801.9 L843.0,801.2 L844.0,800.5 L845.0,799.6 L846.0,798.8 L847.0,797.9 L848.0,796.9 L849.0,796.0 L850.0,795.0 L851.0,794.1 L852.0,793.1 L853.0,792.2 L854.0,791.4 L855.0,790.5 L856.0,789.8 L857.0,789.1 L858.0,788.6 L859.0,788.1 L860.0,787.7" fill="none" stroke="#0c2a88" stroke-width="5.2"/>
<path d="M269.5,801 V689.7 H290.8" fill="none" stroke="#1f4aa0" stroke-width="3"/>
<path d="M288.8,683.2 L299.8,689.7 L288.8,696.2 Z" fill="#1f4aa0"/>
<path d="M603,801 V729.5 H624" fill="none" stroke="#1f4aa0" stroke-width="3"/>
<path d="M622,723.0 L633,729.5 L622,736.0 Z" fill="#1f4aa0"/>
<path d="M718.7,801 V729.5 H741.7" fill="none" stroke="#1f4aa0" stroke-width="3"/>
<path d="M739.7,723.0 L750.7,729.5 L739.7,736.0 Z" fill="#1f4aa0"/>
<path d="M848.3,801 V729.5 H871.6" fill="none" stroke="#1f4aa0" stroke-width="3"/>
<path d="M869.6,723.0 L880.6,729.5 L869.6,736.0 Z" fill="#1f4aa0"/>
</g>
<path d="M187.5,508.5 C175,535 160,570 154,598 C149,620 148,632 148.2,638" fill="none" stroke="#a8b8d0" stroke-width="15.5" stroke-linecap="round"/>
<path d="M187.5,508.5 C175,535 160,570 154,598 C149,620 148,632 148.2,638" fill="none" stroke="#e6e8ee" stroke-width="11.5" stroke-linecap="round"/>
<path d="M187.5,434 L134.5,498.5 M186,452 L172,466 M184,462 L212.5,449.5" fill="none" stroke="#a8b8d0" stroke-width="13.5" stroke-linecap="round"/>
<path d="M130.5,508 C125,508 121,513 120,519 L101.7,564 L92.7,615.4 L92,647.4 L94.6,677 C96,684 100,687 104,685 C108,683 109,679 109.5,675 C110,668 117,665 120.3,672.4 L127.3,688 L132,698 C134,702 140,702 140.5,697 L133.7,666.7 L130.5,628 L133.7,590 L141,566 L157,516 L216,455 C220,449 216,443 210,444 C206,445 204,447 202,449 L150,510 L137,515 C136,511 134,508 130.5,508 Z" fill="#e6e8ee" stroke="#a8b8d0" stroke-width="2.2"/>
<path d="M187.5,434 L134.5,498.5 M186,452 L172,466 M184,462 L208,450" fill="none" stroke="#e6e8ee" stroke-width="9.5" stroke-linecap="round"/>
<path d="M126.3,548 L117,584" fill="none" stroke="#a8b8d0" stroke-width="8" stroke-linecap="round"/>
<path d="M126.3,548 L117,584" fill="none" stroke="#fefaf6" stroke-width="4.8" stroke-linecap="round"/>
<path d="M114.5,603 L112.3,652" fill="none" stroke="#a8b8d0" stroke-width="8" stroke-linecap="round"/>
<path d="M114.5,603 L112.3,652" fill="none" stroke="#fefaf6" stroke-width="4.8" stroke-linecap="round"/>
<path d="M167,476 L140,508" fill="none" stroke="#a8b8d0" stroke-width="5.5" stroke-linecap="round"/>
<path d="M167,476 L140,508" fill="none" stroke="#fefaf6" stroke-width="2.3" stroke-linecap="round"/>
<rect x="122" y="519" width="160" height="48" rx="24" fill="#dff2d7" stroke="#2f6a24" stroke-width="3"/>
<text x="202" y="550.5" font-size="21.7" fill="#111" text-anchor="middle" font-weight="normal" textLength="80.6" lengthAdjust="spacingAndGlyphs" stroke="#111" stroke-width="0.35" >SREBFs</text>
<path d="M202.0,569.0 L202.0,720.6" fill="none" stroke="#222" stroke-width="3" stroke-dasharray="6 5"/>
<path d="M202.0,731.0 L196.0,718.0 L208.0,718.0 Z" fill="#222"/>
<rect x="136.5" y="732" width="115.5" height="49" rx="24.5" fill="#3e9a40" stroke="#24591f" stroke-width="3"/>
<text x="194.2" y="764.5" font-size="23.9" fill="#fff" text-anchor="middle" font-weight="normal" textLength="93.6" lengthAdjust="spacingAndGlyphs" stroke="#fff" stroke-width="0.25" >nSREBFs</text>
<text x="355.1" y="677.7" font-size="21.7" fill="#a52b2b" text-anchor="middle" font-weight="normal" textLength="84" lengthAdjust="spacingAndGlyphs" stroke="#a52b2b" stroke-width="0.35" >HMGCS1</text>
<text x="356.4" y="703.6" font-size="21.7" fill="#a52b2b" text-anchor="middle" font-weight="normal" textLength="75" lengthAdjust="spacingAndGlyphs" stroke="#a52b2b" stroke-width="0.35" >HMGCR</text>
<path d="M356.7,653.4 L373.6,484" fill="none" stroke="url(#fadeup)" stroke-width="3"/>
<path d="M374.6,471.7 L380.0,488.3 L366.1,486.9 Z" fill="#222"/>
<text x="362" y="450.5" font-size="39.8" fill="#c43a34" text-anchor="middle" font-weight="bold" textLength="70" lengthAdjust="spacingAndGlyphs" >FPP</text>
<rect x="499" y="463.3" width="72.5" height="46.19999999999999" rx="15" fill="#d8eff6" stroke="#3e8292" stroke-width="2"/>
<text x="535.25" y="494" font-size="22.3" fill="#111" text-anchor="middle" font-weight="normal" textLength="49" lengthAdjust="spacingAndGlyphs" stroke="#111" stroke-width="0.35" >Pyk2</text>
<rect x="499" y="549.6" width="72.5" height="45.89999999999998" rx="15" fill="#d8eff6" stroke="#3e8292" stroke-width="2"/>
<text x="535.25" y="580.5" font-size="22.3" fill="#111" text-anchor="middle" font-weight="normal" textLength="37.4" lengthAdjust="spacingAndGlyphs" stroke="#111" stroke-width="0.35" >Ras</text>
<rect x="499" y="637.6" width="72.5" height="45.60000000000002" rx="15" fill="#d8eff6" stroke="#3e8292" stroke-width="2"/>
<text x="535.25" y="668.3" font-size="22.3" fill="#111" text-anchor="middle" font-weight="normal" textLength="41.4" lengthAdjust="spacingAndGlyphs" stroke="#111" stroke-width="0.35" >ERK</text>
<rect x="632.2" y="637.6" width="71.79999999999995" height="45.60000000000002" rx="15" fill="#cdd3ea" stroke="#34427f" stroke-width="2"/>
<text x="668.1" y="668.3" font-size="22.3" fill="#111" text-anchor="middle" font-weight="normal" textLength="61.4" lengthAdjust="spacingAndGlyphs" stroke="#111" stroke-width="0.35" >NF-κB</text>
<rect x="499" y="739.7" width="72" height="45.69999999999993" rx="15" fill="#d8eff6" stroke="#3e8292" stroke-width="2"/>
<text x="535.0" y="770.4" font-size="22.3" fill="#111" text-anchor="middle" font-weight="normal" textLength="41.4" lengthAdjust="spacingAndGlyphs" stroke="#111" stroke-width="0.35" >ERK</text>
<rect x="631.8" y="739.7" width="73.20000000000005" height="45.69999999999993" rx="15" fill="#cdd3ea" stroke="#34427f" stroke-width="2"/>
<text x="668.4" y="770.4" font-size="22.3" fill="#111" text-anchor="middle" font-weight="normal" textLength="61.4" lengthAdjust="spacingAndGlyphs" stroke="#111" stroke-width="0.35" >NF-κB</text>
<rect x="747.6" y="739.7" width="71.79999999999995" height="45.69999999999993" rx="15" fill="#c84a4a" stroke="#7c1f20" stroke-width="2"/>
<text x="783.5" y="770.4" font-size="22.3" fill="#fff" text-anchor="middle" font-weight="normal" textLength="52" lengthAdjust="spacingAndGlyphs" stroke="#fff" stroke-width="0.25" >NFAT</text>
<path d="M535.0,510.5 L535.0,540.5" fill="none" stroke="#222" stroke-width="2"/>
<path d="M535.0,548.5 L530.5,538.5 L539.5,538.5 Z" fill="#222"/>
<path d="M535.0,596.5 L535.0,628.5" fill="none" stroke="#222" stroke-width="2"/>
<path d="M535.0,636.5 L530.5,626.5 L539.5,626.5 Z" fill="#222"/>
<path d="M572.5,660.3 L623.0,660.3" fill="none" stroke="#222" stroke-width="2"/>
<path d="M631.0,660.3 L621.0,664.8 L621.0,655.8 Z" fill="#222"/>
<path d="M535.0,684.5 L535.0,731.8" fill="none" stroke="#222" stroke-width="2" stroke-dasharray="5 4"/>
<path d="M535.0,739.0 L530.5,730.0 L539.5,730.0 Z" fill="#222"/>
<path d="M668.0,684.5 L668.0,731.8" fill="none" stroke="#222" stroke-width="2" stroke-dasharray="5 4"/>
<path d="M668.0,739.0 L663.5,730.0 L672.5,730.0 Z" fill="#222"/>
<path d="M783.5,682.0 L783.5,731.8" fill="none" stroke="#222" stroke-width="2" stroke-dasharray="5 4"/>
<path d="M783.5,739.0 L779.0,730.0 L788.0,730.0 Z" fill="#222"/>
<path d="M603.0,479.4 L580.0,482.6 M578.8,473.7 L581.2,491.5" fill="none" stroke="#222" stroke-width="1.8"/>
<text x="609" y="487" font-size="19.6" fill="#111" text-anchor="start" font-weight="normal" textLength="91.7" lengthAdjust="spacingAndGlyphs" stroke="#111" stroke-width="0.35" >PF-562271</text>
<path d="M586.6,620.5 L570.0,635.6 M563.9,628.9 L576.1,642.3" fill="none" stroke="#222" stroke-width="1.8"/>
<text x="589.6" y="616.3" font-size="19.6" fill="#111" text-anchor="start" font-weight="normal" textLength="78.5" lengthAdjust="spacingAndGlyphs" stroke="#111" stroke-width="0.35" >PD98059</text>
<path d="M715.7,621.0 L703.5,636.8 M696.4,631.3 L710.6,642.3" fill="none" stroke="#222" stroke-width="1.8"/>
<text x="700.8" y="616.3" font-size="19.6" fill="#111" text-anchor="start" font-weight="normal" textLength="48" lengthAdjust="spacingAndGlyphs" stroke="#111" stroke-width="0.35" >PDTC</text>
<text x="598.4" y="701.5" font-size="20.1" fill="#a52b2b" text-anchor="start" font-weight="normal" textLength="49" lengthAdjust="spacingAndGlyphs" stroke="#a52b2b" stroke-width="0.35" >APFs</text>
<text x="706" y="701.5" font-size="20.1" fill="#a52b2b" text-anchor="start" font-weight="normal" textLength="49" lengthAdjust="spacingAndGlyphs" stroke="#a52b2b" stroke-width="0.35" >APFs</text>
<text x="849.2" y="701.5" font-size="20.1" fill="#a52b2b" text-anchor="start" font-weight="normal" textLength="48.7" lengthAdjust="spacingAndGlyphs" stroke="#a52b2b" stroke-width="0.35" >APFs</text>
<rect x="828" y="463.4" width="64" height="39.60000000000002" rx="19" fill="#c84a4a" stroke="#7c1f20" stroke-width="2"/>
<text x="860.0" y="490.8" font-size="22.8" fill="#fff" text-anchor="middle" font-weight="normal" textLength="46" lengthAdjust="spacingAndGlyphs" stroke="#fff" stroke-width="0.25" >CaM</text>
<rect x="790.4" y="538.4" width="138.80000000000007" height="46.89999999999998" rx="23.5" fill="#c84a4a" stroke="#7c1f20" stroke-width="2"/>
<text x="859.8" y="569.4" font-size="22.8" fill="#fff" text-anchor="middle" font-weight="normal" textLength="113.3" lengthAdjust="spacingAndGlyphs" stroke="#fff" stroke-width="0.25" >Calcineurin</text>
<rect x="747.7" y="634.7" width="72.09999999999991" height="46.09999999999991" rx="15" fill="#c84a4a" stroke="#7c1f20" stroke-width="2"/>
<text x="783.75" y="665.2" font-size="22.8" fill="#fff" text-anchor="middle" font-weight="normal" textLength="52" lengthAdjust="spacingAndGlyphs" stroke="#fff" stroke-width="0.25" >NFAT</text>
<rect x="898.7" y="634.7" width="72.09999999999991" height="46.09999999999991" rx="15" fill="#c84a4a" stroke="#7c1f20" stroke-width="2"/>
<text x="934.75" y="665.2" font-size="22.8" fill="#fff" text-anchor="middle" font-weight="normal" textLength="52" lengthAdjust="spacingAndGlyphs" stroke="#fff" stroke-width="0.25" >NFAT</text>
<circle cx="967.4" cy="632.7" r="14.8" fill="#4b2f6a" stroke="#2c1a44" stroke-width="1.5"/>
<text x="967.4" y="639.5" font-size="18.0" fill="#fff" text-anchor="middle" font-weight="normal" stroke="#fff" stroke-width="0.25" >P</text>
<path d="M860.0,504.0 L860.0,529.5" fill="none" stroke="#222" stroke-width="2"/>
<path d="M860.0,537.5 L855.5,527.5 L864.5,527.5 Z" fill="#222"/>
<path d="M860,586.3 V651 Q860,657.4 853,657.4 H828 M898,657.4 H860" fill="none" stroke="#222" stroke-width="2"/>
<path d="M820.5,657.4 L831.5,652.4 L831.5,662.4 Z" fill="#222"/>
<path d="M938.3,523.8 L924.0,541.5 M917.0,535.8 L931.0,547.2" fill="none" stroke="#222" stroke-width="1.8"/>
<text x="928.4" y="521.5" font-size="19.6" fill="#111" text-anchor="start" font-weight="normal" textLength="34.6" lengthAdjust="spacingAndGlyphs" stroke="#111" stroke-width="0.35" >CsA</text>
<text x="20" y="53" font-size="23.0" fill="#111" text-anchor="start" font-weight="normal" textLength="243" lengthAdjust="spacingAndGlyphs" stroke="#111" stroke-width="0.35" >Stress on keratinocytes</text>
<path d="M14.5,232.6 V66.4 H418 V232.6 H14.5" fill="none" stroke="#f39a1e" stroke-width="3" stroke-dasharray="6.3 5.2"/>
<path d="M14.5,234 L42,292" fill="none" stroke="#f39a1e" stroke-width="3" stroke-dasharray="6.3 5.2"/>
<path d="M418,233 L102,308" fill="none" stroke="#f39a1e" stroke-width="3" stroke-dasharray="6.3 5.2"/>
<text x="20" y="101.5" font-size="19.6" fill="#111" text-anchor="start" font-weight="normal" textLength="133.5" lengthAdjust="spacingAndGlyphs" stroke="#111" stroke-width="0.35" >Bacterial stress</text>
<text x="173" y="102.8" font-size="19.6" fill="#111" text-anchor="start" font-weight="normal" textLength="95.3" lengthAdjust="spacingAndGlyphs" stroke="#111" stroke-width="0.35" >Viral stress</text>
<text x="299.4" y="102.8" font-size="19.6" fill="#111" text-anchor="start" font-weight="normal" textLength="104.8" lengthAdjust="spacingAndGlyphs" stroke="#111" stroke-width="0.35" >UV radiation</text>
<path d="M69,146 V137.8 M69,186 V195.5 M87.8,146 V137.8 M87.8,186 V195.5 M107.3,146 V137.8 M107.3,186 V195.5 M126.1,146 V137.8 M126.1,186 V195.5 M145,146 V137.8 M145,186 V195.5 M54.7,176.0 L46.9,180.5 M52.0,166.0 L43.0,166.0 M54.7,156.0 L46.9,151.5 M160.8,156.0 L168.6,151.5 M163.5,166.0 L172.5,166.0 M160.8,176.0 L168.6,180.5" stroke="#c65072" stroke-width="3" stroke-linecap="round" fill="none"/>
<rect x="52.5" y="146.5" width="110.5" height="39" rx="19.5" fill="#e98b9b" stroke="#c65072" stroke-width="5"/>
<rect x="58" y="152" width="99.5" height="28" rx="14" fill="none" stroke="#fff" stroke-width="1.6"/>
<path d="M64,165.5 C70,172 78,170 84,165 C90,160 96,162 102,163" fill="none" stroke="#fff" stroke-width="1.8" stroke-linecap="round"/>
<circle cx="73.5" cy="161.5" r="2.6" fill="#fff"/><circle cx="144.5" cy="164" r="2.6" fill="#fff"/><circle cx="132.5" cy="172.5" r="3.2" fill="#fff"/>
<path d="M231.7,143.7 L230.2,132.8" stroke="#35607c" stroke-width="3"/><circle cx="229.8" cy="129.9" r="5.3" fill="#35607c"/><path d="M252.0,151.8 L260.6,144.9" stroke="#35607c" stroke-width="3"/><circle cx="262.9" cy="143.0" r="5.3" fill="#35607c"/><path d="M255.1,174.0 L265.2,178.2" stroke="#35607c" stroke-width="3"/><circle cx="268.0" cy="179.4" r="5.3" fill="#35607c"/><path d="M238.0,187.3 L239.6,198.2" stroke="#35607c" stroke-width="3"/><circle cx="240.0" cy="201.1" r="5.3" fill="#35607c"/><path d="M218.1,179.8 L209.8,187.0" stroke="#35607c" stroke-width="3"/><circle cx="207.5" cy="189.0" r="5.3" fill="#35607c"/><path d="M214.3,157.5 L204.0,153.6" stroke="#35607c" stroke-width="3"/><circle cx="201.2" cy="152.5" r="5.3" fill="#35607c"/>
<circle cx="234.8" cy="165.5" r="22" fill="#fff" stroke="#35607c" stroke-width="6"/>
<circle cx="234.8" cy="165.5" r="17" fill="#3592cc"/>
<polygon points="247.3,165.5 241.1,176.3 228.6,176.3 222.3,165.5 228.6,154.7 241.1,154.7" fill="#fff" stroke="#2a7bb8" stroke-width="1"/>
<path d="M228.8,172.5 C230.8,165.5 234.8,167.5 237.8,162.5 C239.8,159.5 240.8,160.5 240.8,156.5" fill="none" stroke="#3592cc" stroke-width="1.8"/>
<linearGradient id="uvg312" gradientUnits="userSpaceOnUse" x1="312" y1="117" x2="331.7022238269982" y2="132.3890342864932"><stop offset="0" stop-color="#4a55c8" stop-opacity="0"/><stop offset="1" stop-color="#4a55c8"/></linearGradient>
<polyline points="312.0,117.0 312.6,118.5 313.3,119.9 314.0,121.3 314.8,122.6 315.7,123.7 316.7,124.7 317.9,125.6 319.1,126.3 320.5,126.9 321.9,127.3 323.4,127.6 325.0,127.9 326.6,128.2 328.2,128.4 329.8,128.7 331.3,129.1 332.7,129.6 334.0,130.3 335.2,131.0 336.2,132.0 337.2,133.0 338.0,134.2 338.8,135.6 339.5,137.0 340.1,138.5 340.8,139.9 341.4,141.4 342.1,142.8 342.9,144.2 343.7,145.4 344.6,146.5 345.7,147.4 346.9,148.2 348.2,148.8 349.6,149.3 351.1,149.7 352.6,150.0 354.2,150.3 355.8,150.5 357.4,150.8 358.9,151.1 360.4,151.6 361.8,152.1 363.0,152.8 364.1,153.7 365.2,154.7 366.1,155.8 366.9,157.1 367.6,158.5 368.3,159.9 368.9,161.4 369.5,162.9 370.2,164.3 370.9,165.7 371.7,167.0 372.6,168.1 373.6,169.2 374.7,170.0 376.0,170.7 377.3,171.3" fill="none" stroke="url(#uvg312)" stroke-width="2.4"/>
<path d="M386.0,174.8 L374.3,172.0 L380.4,164.1 Z" fill="#4a55c8"/>
<linearGradient id="uvg299" gradientUnits="userSpaceOnUse" x1="299.2" y1="128.5" x2="318.88930930078646" y2="143.90555416912886"><stop offset="0" stop-color="#4a55c8" stop-opacity="0"/><stop offset="1" stop-color="#4a55c8"/></linearGradient>
<polyline points="299.2,128.5 299.8,130.0 300.5,131.4 301.2,132.8 302.0,134.1 302.9,135.2 303.9,136.2 305.1,137.1 306.3,137.8 307.7,138.4 309.1,138.8 310.6,139.2 312.2,139.4 313.8,139.7 315.4,140.0 317.0,140.3 318.5,140.7 319.9,141.2 321.2,141.8 322.4,142.6 323.4,143.5 324.4,144.6 325.2,145.8 326.0,147.1 326.7,148.5 327.3,150.0 328.0,151.5 328.6,153.0 329.3,154.4 330.1,155.7 330.9,156.9 331.8,158.0 332.9,158.9 334.1,159.7 335.4,160.4 336.8,160.9 338.3,161.3 339.9,161.6 341.4,161.8 343.0,162.1 344.6,162.4 346.1,162.7 347.6,163.1 349.0,163.7 350.2,164.4 351.3,165.3 352.4,166.3 353.3,167.4 354.1,168.7 354.8,170.0 355.5,171.5 356.1,173.0 356.7,174.5 357.4,175.9 358.1,177.3 358.9,178.6 359.8,179.7 360.8,180.7 361.9,181.6 363.2,182.3 364.5,182.9" fill="none" stroke="url(#uvg299)" stroke-width="2.4"/>
<path d="M373.2,186.4 L361.5,183.6 L367.6,175.7 Z" fill="#4a55c8"/>
<linearGradient id="uvg286" gradientUnits="userSpaceOnUse" x1="286.5" y1="140" x2="306.296011286013" y2="155.26820019399943"><stop offset="0" stop-color="#4a55c8" stop-opacity="0"/><stop offset="1" stop-color="#4a55c8"/></linearGradient>
<polyline points="286.5,140.0 287.2,141.5 287.8,142.9 288.6,144.3 289.4,145.6 290.3,146.8 291.4,147.8 292.5,148.6 293.8,149.3 295.2,149.9 296.6,150.3 298.2,150.7 299.8,151.0 301.4,151.2 303.0,151.5 304.5,151.8 306.1,152.2 307.5,152.7 308.8,153.3 310.0,154.1 311.1,155.0 312.1,156.1 312.9,157.3 313.7,158.7 314.4,160.1 315.1,161.6 315.8,163.1 316.4,164.5 317.1,166.0 317.9,167.3 318.8,168.5 319.8,169.6 320.9,170.5 322.1,171.3 323.4,171.9 324.8,172.4 326.3,172.8 327.9,173.1 329.5,173.4 331.1,173.7 332.7,173.9 334.2,174.3 335.7,174.7 337.1,175.3 338.4,176.0 339.5,176.9 340.5,177.9 341.4,179.0 342.3,180.3 343.0,181.7 343.7,183.1 344.4,184.6 345.0,186.1 345.7,187.6 346.4,189.0 347.3,190.2 348.2,191.4 349.2,192.4 350.4,193.3 351.6,194.0 353.0,194.5" fill="none" stroke="url(#uvg286)" stroke-width="2.4"/>
<path d="M361.7,198.0 L349.9,195.2 L356.0,187.3 Z" fill="#4a55c8"/>
<polygon points="69.4,275.2 81,324.2 102.2,306 111,362 132.3,343.5 145.8,448.7 115.7,378.2 106,398.6 88,343.5 73.3,360 44.4,296.4" fill="#f6d36b" stroke="#d8731b" stroke-width="2.5" stroke-linejoin="miter"/>
<path d="M483.0,233.0 L483.0,273.4 L465.6,300.0 L464.6,310.0 L474.9,320.7 L484.6,319.0 L507.2,303.0 L509.1,292.3 L504.6,273.4 L504.6,233.0 Z" fill="#b3dbbd" stroke="#5aae6a" stroke-width="1.5" stroke-linejoin="round"/>
<ellipse cx="493.8" cy="233" rx="10.8" ry="2.6" fill="#bfe2c8" stroke="#5aae6a" stroke-width="1.2"/>
<path d="M488.4,239.0 L488.4,279.4 L471.0,306.0 L470.0,316.0 L480.3,326.7 L490.0,325.0 L512.6,309.0 L514.5,298.3 L510.0,279.4 L510.0,239.0 Z" fill="#a8d5b3" stroke="#5aae6a" stroke-width="1.5" stroke-linejoin="round"/>
<ellipse cx="499.2" cy="239" rx="10.8" ry="2.6" fill="#bfe2c8" stroke="#5aae6a" stroke-width="1.2"/>
<path d="M572.4,233.0 L572.4,273.4 L589.8,300.0 L590.8,310.0 L580.5,320.7 L570.8,319.0 L548.2,303.0 L546.3,292.3 L550.8,273.4 L550.8,233.0 Z" fill="#b3dbbd" stroke="#5aae6a" stroke-width="1.5" stroke-linejoin="round"/>
<ellipse cx="561.6" cy="233" rx="10.8" ry="2.6" fill="#bfe2c8" stroke="#5aae6a" stroke-width="1.2"/>
<path d="M565.6,239.0 L565.6,279.4 L583.0,306.0 L584.0,316.0 L573.7,326.7 L564.0,325.0 L541.4,309.0 L539.5,298.3 L544.0,279.4 L544.0,239.0 Z" fill="#a8d5b3" stroke="#5aae6a" stroke-width="1.5" stroke-linejoin="round"/>
<ellipse cx="554.8" cy="239" rx="10.8" ry="2.6" fill="#bfe2c8" stroke="#5aae6a" stroke-width="1.2"/>
<text x="668" y="248.7" font-size="38.8" fill="#52a84f" text-anchor="middle" font-weight="bold" textLength="121.5" lengthAdjust="spacingAndGlyphs" >TRPV3</text>
<path d="M571,231 L806,59 M587,319 L806,268" fill="none" stroke="#222" stroke-width="3" stroke-dasharray="8 6"/>
<path d="M524.1,220 V308" fill="none" stroke="#222" stroke-width="3" stroke-dasharray="6 5"/>
<path d="M518,309 L530.2,309 L524.1,321.3 Z" fill="#222"/>
<path d="M393.0,401.0 L488.8,299.3" fill="none" stroke="#222" stroke-width="3"/>
<path d="M497.6,290.0 L492.1,306.8 L481.2,296.5 Z" fill="#222"/>
<circle cx="523.6" cy="185" r="5.6" fill="#d9890f" stroke="#b26a00" stroke-width="1"/>
<circle cx="512" cy="204" r="5.6" fill="#d9890f" stroke="#b26a00" stroke-width="1"/>
<circle cx="535.8" cy="204" r="5.6" fill="#d9890f" stroke="#b26a00" stroke-width="1"/>
<circle cx="532.9" cy="335.5" r="5.6" fill="#d9890f" stroke="#b26a00" stroke-width="1"/>
<circle cx="560" cy="339.8" r="5.6" fill="#d9890f" stroke="#b26a00" stroke-width="1"/>
<circle cx="507" cy="347" r="5.6" fill="#d9890f" stroke="#b26a00" stroke-width="1"/>
<circle cx="536.7" cy="358" r="5.6" fill="#d9890f" stroke="#b26a00" stroke-width="1"/>
<circle cx="519.3" cy="370" r="5.6" fill="#d9890f" stroke="#b26a00" stroke-width="1"/>
<circle cx="553.4" cy="370" r="5.6" fill="#d9890f" stroke="#b26a00" stroke-width="1"/>
<text x="567.6" y="397" font-size="32.9" fill="#e08a2a" text-anchor="start" font-weight="normal" textLength="41" lengthAdjust="spacingAndGlyphs" stroke="#e08a2a" stroke-width="0.35" >Ca</text>
<text x="610" y="384" font-size="20.1" fill="#e08a2a" text-anchor="start" font-weight="normal" textLength="23" lengthAdjust="spacingAndGlyphs" stroke="#e08a2a" stroke-width="0.35" >2+</text>
<path d="M507,350 C496,385 500,425 530,458" fill="none" stroke="#222" stroke-width="2"/>
<path d="M534.0,462.6 L524.1,457.8 L531.0,452.0 Z" fill="#222"/>
<path d="M566,340 C700,340 800,380 853,456" fill="none" stroke="#222" stroke-width="2"/>
<path d="M857.5,462.3 L848.4,456.2 L856.0,451.4 Z" fill="#222"/>
<clipPath id="insclip"><rect x="814" y="60" width="203" height="205"/></clipPath>
<g clip-path="url(#insclip)">
<rect x="814" y="60" width="203" height="205" fill="#e6f2e3"/>
<path d="M812.8,95.1 L813.8,95.4 L814.8,95.5 L815.9,95.5 L816.9,95.3 L818.0,95.0 L819.2,94.6 L820.3,94.0 L821.4,93.4 L822.5,92.6 L823.6,91.7 L824.7,90.7 L825.7,89.6 L826.7,88.4 L827.7,87.2 L828.6,85.9 L829.5,84.6 L830.3,83.3 L831.0,81.9 L831.7,80.6 L832.3,79.2 L832.8,77.9 L833.3,76.7 L833.7,75.4 L834.0,74.3 L834.2,73.2 L834.4,72.2 L834.4,71.3 L834.5,70.5 L834.4,69.8 L834.3,69.3 L834.1,68.9 L833.8,68.6 L833.5,68.4 L833.2,68.4 L832.8,68.5 L832.4,68.7 L831.9,69.1 L831.5,69.7 L831.0,70.3 L830.5,71.1 L830.0,72.0 L829.6,73.0 L829.1,74.2 L828.7,75.4 L828.3,76.7 L827.9,78.1 L827.6,79.5 L827.3,81.0 L827.1,82.5 L826.9,84.1 L826.8,85.7 L826.7,87.2 L826.8,88.8 L826.9,90.3 L827.1,91.8 L827.3,93.2 L827.7,94.6 L828.1,95.9 L828.6,97.1 L829.1,98.2 L829.8,99.2 L830.5,100.1 L831.2,100.8 L832.0,101.4 L832.9,101.9 L833.9,102.3 L834.8,102.5 L835.9,102.6 L836.9,102.6 L838.0,102.4 L839.1,102.0 L840.2,101.6 L841.3,101.0 L842.5,100.3 L843.6,99.5 L844.7,98.6 L845.7,97.5 L846.8,96.4 L847.8,95.3 L848.7,94.0 L849.6,92.8 L850.5,91.4 L851.3,90.1 L852.0,88.7 L852.7,87.4 L853.2,86.1 L853.8,84.8 L854.2,83.5 L854.6,82.3 L854.9,81.1 L855.1,80.1 L855.2,79.1 L855.3,78.2 L855.3,77.5 L855.2,76.8 L855.1,76.3 L854.9,75.9 L854.6,75.6 L854.3,75.5 L853.9,75.5 L853.5,75.6 L853.1,75.9 L852.7,76.3 L852.2,76.9 L851.7,77.6 L851.2,78.4 L850.8,79.3 L850.3,80.4 L849.8,81.5 L849.4,82.8 L849.0,84.1 L848.6,85.5 L848.3,86.9 L848.0,88.4 L847.8,90.0 L847.7,91.5 L847.6,93.1 L847.6,94.7 L847.6,96.2 L847.7,97.7 L847.9,99.2 L848.2,100.6 L848.6,102.0 L849.0,103.2 L849.5,104.4 L850.1,105.5 L850.7,106.5 L851.4,107.3 L852.2,108.1 L853.1,108.7 L854.0,109.1 L854.9,109.5 L855.9,109.7 L856.9,109.7 L858.0,109.6 L859.1,109.4 L860.2,109.1 L861.3,108.6 L862.4,108.0" fill="none" stroke="#a6cda0" stroke-width="9.3" opacity="0.5599999999999999" stroke-linecap="round"/>
<path d="M812.8,95.1 L813.8,95.4 L814.8,95.5 L815.9,95.5 L816.9,95.3 L818.0,95.0 L819.2,94.6 L820.3,94.0 L821.4,93.4 L822.5,92.6 L823.6,91.7 L824.7,90.7 L825.7,89.6 L826.7,88.4 L827.7,87.2 L828.6,85.9 L829.5,84.6 L830.3,83.3 L831.0,81.9 L831.7,80.6 L832.3,79.2 L832.8,77.9 L833.3,76.7 L833.7,75.4 L834.0,74.3 L834.2,73.2 L834.4,72.2 L834.4,71.3 L834.5,70.5 L834.4,69.8 L834.3,69.3 L834.1,68.9 L833.8,68.6 L833.5,68.4 L833.2,68.4 L832.8,68.5 L832.4,68.7 L831.9,69.1 L831.5,69.7 L831.0,70.3 L830.5,71.1 L830.0,72.0 L829.6,73.0 L829.1,74.2 L828.7,75.4 L828.3,76.7 L827.9,78.1 L827.6,79.5 L827.3,81.0 L827.1,82.5 L826.9,84.1 L826.8,85.7 L826.7,87.2 L826.8,88.8 L826.9,90.3 L827.1,91.8 L827.3,93.2 L827.7,94.6 L828.1,95.9 L828.6,97.1 L829.1,98.2 L829.8,99.2 L830.5,100.1 L831.2,100.8 L832.0,101.4 L832.9,101.9 L833.9,102.3 L834.8,102.5 L835.9,102.6 L836.9,102.6 L838.0,102.4 L839.1,102.0 L840.2,101.6 L841.3,101.0 L842.5,100.3 L843.6,99.5 L844.7,98.6 L845.7,97.5 L846.8,96.4 L847.8,95.3 L848.7,94.0 L849.6,92.8 L850.5,91.4 L851.3,90.1 L852.0,88.7 L852.7,87.4 L853.2,86.1 L853.8,84.8 L854.2,83.5 L854.6,82.3 L854.9,81.1 L855.1,80.1 L855.2,79.1 L855.3,78.2 L855.3,77.5 L855.2,76.8 L855.1,76.3 L854.9,75.9 L854.6,75.6 L854.3,75.5 L853.9,75.5 L853.5,75.6 L853.1,75.9 L852.7,76.3 L852.2,76.9 L851.7,77.6 L851.2,78.4 L850.8,79.3 L850.3,80.4 L849.8,81.5 L849.4,82.8 L849.0,84.1 L848.6,85.5 L848.3,86.9 L848.0,88.4 L847.8,90.0 L847.7,91.5 L847.6,93.1 L847.6,94.7 L847.6,96.2 L847.7,97.7 L847.9,99.2 L848.2,100.6 L848.6,102.0 L849.0,103.2 L849.5,104.4 L850.1,105.5 L850.7,106.5 L851.4,107.3 L852.2,108.1 L853.1,108.7 L854.0,109.1 L854.9,109.5 L855.9,109.7 L856.9,109.7 L858.0,109.6 L859.1,109.4 L860.2,109.1 L861.3,108.6 L862.4,108.0" fill="none" stroke="#bfdcb9" stroke-width="7.5" opacity="0.8" stroke-linecap="round"/>
<path d="M814.6,135.7 L815.6,136.1 L816.5,136.4 L817.5,136.6 L818.6,136.7 L819.6,136.7 L820.7,136.6 L821.8,136.4 L822.9,136.1 L824.0,135.7 L825.0,135.2 L826.1,134.7 L827.1,134.0 L828.1,133.3 L829.1,132.6 L830.0,131.8 L830.9,130.9 L831.7,130.1 L832.4,129.2 L833.1,128.2 L833.7,127.3 L834.3,126.4 L834.7,125.5 L835.1,124.6 L835.4,123.8 L835.7,123.0 L835.9,122.3 L836.0,121.6 L836.0,121.0 L835.9,120.4 L835.8,120.0 L835.7,119.6 L835.4,119.3 L835.1,119.2 L834.8,119.1 L834.4,119.1 L834.0,119.2 L833.6,119.4 L833.1,119.8 L832.6,120.2 L832.2,120.7 L831.7,121.3 L831.2,122.1 L830.7,122.9 L830.3,123.7 L829.8,124.7 L829.4,125.7 L829.1,126.7 L828.8,127.9 L828.5,129.0 L828.3,130.2 L828.2,131.4 L828.1,132.6 L828.1,133.9 L828.2,135.1 L828.3,136.3 L828.6,137.4 L828.9,138.6 L829.2,139.6 L829.7,140.7 L830.2,141.6 L830.8,142.5 L831.4,143.3 L832.2,144.1 L832.9,144.7 L833.8,145.3 L834.7,145.7 L835.6,146.1 L836.6,146.4 L837.6,146.5 L838.7,146.6 L839.7,146.5 L840.8,146.4 L841.9,146.1 L843.0,145.8 L844.1,145.4 L845.1,144.9 L846.2,144.3 L847.2,143.6 L848.2,142.9 L849.1,142.1 L850.0,141.3 L850.9,140.4 L851.7,139.5 L852.4,138.6 L853.0,137.7 L853.6,136.8 L854.1,135.9 L854.6,135.0 L854.9,134.1 L855.2,133.3 L855.4,132.5 L855.6,131.8 L855.7,131.2 L855.7,130.6 L855.6,130.1 L855.4,129.7 L855.2,129.3 L855.0,129.1 L854.7,129.0 L854.3,128.9" fill="none" stroke="#a6cda0" stroke-width="9.3" opacity="0.5599999999999999" stroke-linecap="round"/>
<path d="M814.6,135.7 L815.6,136.1 L816.5,136.4 L817.5,136.6 L818.6,136.7 L819.6,136.7 L820.7,136.6 L821.8,136.4 L822.9,136.1 L824.0,135.7 L825.0,135.2 L826.1,134.7 L827.1,134.0 L828.1,133.3 L829.1,132.6 L830.0,131.8 L830.9,130.9 L831.7,130.1 L832.4,129.2 L833.1,128.2 L833.7,127.3 L834.3,126.4 L834.7,125.5 L835.1,124.6 L835.4,123.8 L835.7,123.0 L835.9,122.3 L836.0,121.6 L836.0,121.0 L835.9,120.4 L835.8,120.0 L835.7,119.6 L835.4,119.3 L835.1,119.2 L834.8,119.1 L834.4,119.1 L834.0,119.2 L833.6,119.4 L833.1,119.8 L832.6,120.2 L832.2,120.7 L831.7,121.3 L831.2,122.1 L830.7,122.9 L830.3,123.7 L829.8,124.7 L829.4,125.7 L829.1,126.7 L828.8,127.9 L828.5,129.0 L828.3,130.2 L828.2,131.4 L828.1,132.6 L828.1,133.9 L828.2,135.1 L828.3,136.3 L828.6,137.4 L828.9,138.6 L829.2,139.6 L829.7,140.7 L830.2,141.6 L830.8,142.5 L831.4,143.3 L832.2,144.1 L832.9,144.7 L833.8,145.3 L834.7,145.7 L835.6,146.1 L836.6,146.4 L837.6,146.5 L838.7,146.6 L839.7,146.5 L840.8,146.4 L841.9,146.1 L843.0,145.8 L844.1,145.4 L845.1,144.9 L846.2,144.3 L847.2,143.6 L848.2,142.9 L849.1,142.1 L850.0,141.3 L850.9,140.4 L851.7,139.5 L852.4,138.6 L853.0,137.7 L853.6,136.8 L854.1,135.9 L854.6,135.0 L854.9,134.1 L855.2,133.3 L855.4,132.5 L855.6,131.8 L855.7,131.2 L855.7,130.6 L855.6,130.1 L855.4,129.7 L855.2,129.3 L855.0,129.1 L854.7,129.0 L854.3,128.9" fill="none" stroke="#bfdcb9" stroke-width="7.5" opacity="0.8" stroke-linecap="round"/>
<path d="M874.7,69.4 L875.7,69.7 L876.7,69.9 L877.7,70.0 L878.7,70.1 L879.7,70.0 L880.7,69.8 L881.7,69.6 L882.7,69.3 L883.7,68.9 L884.6,68.4 L885.6,67.9 L886.4,67.3 L887.3,66.7 L888.1,66.0 L888.8,65.2 L889.5,64.5 L890.1,63.7 L890.7,62.9 L891.2,62.1 L891.6,61.2 L892.0,60.4 L892.3,59.6 L892.5,58.9 L892.7,58.2 L892.8,57.5 L892.9,56.8 L892.8,56.2 L892.8,55.7 L892.6,55.2 L892.4,54.8 L892.2,54.5 L892.0,54.3 L891.7,54.1 L891.3,54.1 L891.0,54.1 L890.6,54.2 L890.2,54.4 L889.8,54.7 L889.5,55.1 L889.1,55.5 L888.7,56.1 L888.4,56.7 L888.0,57.4 L887.8,58.1 L887.5,58.9 L887.3,59.8 L887.1,60.7 L887.0,61.6 L887.0,62.6 L887.0,63.6 L887.1,64.7 L887.2,65.7 L887.4,66.7 L887.6,67.8 L888.0,68.8 L888.4,69.7 L888.8,70.7 L889.4,71.6 L889.9,72.5 L890.6,73.3 L891.3,74.0 L892.1,74.7 L892.9,75.3 L893.7,75.8 L894.6,76.3 L895.5,76.7 L896.5,76.9 L897.5,77.1 L898.5,77.2 L899.5,77.3 L900.5,77.2 L901.5,77.0 L902.5,76.8 L903.5,76.5 L904.5,76.1 L905.5,75.6 L906.4,75.1 L907.3,74.5 L908.1,73.8 L908.9,73.1 L909.6,72.4 L910.3,71.6 L910.9,70.9 L911.5,70.0 L912.0,69.2 L912.4,68.4 L912.8,67.6 L913.1,66.8 L913.3,66.1 L913.5,65.3 L913.6,64.6 L913.6,64.0 L913.6,63.4 L913.5,62.9 L913.4,62.4 L913.2,62.0 L913.0,61.7 L912.7,61.5 L912.4,61.3 L912.1,61.3 L911.8,61.3 L911.4,61.4 L911.0,61.6 L910.6,61.9 L910.2,62.3 L909.9,62.7 L909.5,63.3 L909.1,63.9 L908.8,64.6 L908.5,65.3 L908.3,66.1 L908.1,67.0 L907.9,67.9 L907.8,68.9 L907.8,69.9 L907.8,70.9 L907.8,71.9 L908.0,72.9 L908.2,74.0 L908.4,75.0 L908.8,76.0 L909.2,77.0 L909.6,77.9 L910.2,78.8 L910.8,79.7 L911.4,80.5 L912.1,81.2 L912.9,81.9 L913.7,82.5 L914.5,83.1 L915.4,83.5 L916.4,83.9 L917.3,84.1 L918.3,84.3 L919.3,84.4 L920.3,84.5 L921.3,84.4 L922.4,84.2 L923.4,84.0 L924.4,83.7 L925.3,83.3 L926.3,82.8 L927.2,82.3 L928.1,81.7 L928.9,81.0 L929.7,80.3 L930.4,79.6 L931.1,78.8 L931.7,78.0 L932.3,77.2 L932.8,76.4 L933.2,75.6 L933.6,74.8 L933.9,74.0 L934.1,73.2 L934.3,72.5 L934.4,71.8 L934.4,71.2 L934.4,70.6 L934.3,70.1 L934.2,69.6 L934.0,69.2 L933.8,68.9 L933.5,68.7 L933.2,68.5" fill="none" stroke="#a6cda0" stroke-width="9.3" opacity="0.5599999999999999" stroke-linecap="round"/>
<path d="M874.7,69.4 L875.7,69.7 L876.7,69.9 L877.7,70.0 L878.7,70.1 L879.7,70.0 L880.7,69.8 L881.7,69.6 L882.7,69.3 L883.7,68.9 L884.6,68.4 L885.6,67.9 L886.4,67.3 L887.3,66.7 L888.1,66.0 L888.8,65.2 L889.5,64.5 L890.1,63.7 L890.7,62.9 L891.2,62.1 L891.6,61.2 L892.0,60.4 L892.3,59.6 L892.5,58.9 L892.7,58.2 L892.8,57.5 L892.9,56.8 L892.8,56.2 L892.8,55.7 L892.6,55.2 L892.4,54.8 L892.2,54.5 L892.0,54.3 L891.7,54.1 L891.3,54.1 L891.0,54.1 L890.6,54.2 L890.2,54.4 L889.8,54.7 L889.5,55.1 L889.1,55.5 L888.7,56.1 L888.4,56.7 L888.0,57.4 L887.8,58.1 L887.5,58.9 L887.3,59.8 L887.1,60.7 L887.0,61.6 L887.0,62.6 L887.0,63.6 L887.1,64.7 L887.2,65.7 L887.4,66.7 L887.6,67.8 L888.0,68.8 L888.4,69.7 L888.8,70.7 L889.4,71.6 L889.9,72.5 L890.6,73.3 L891.3,74.0 L892.1,74.7 L892.9,75.3 L893.7,75.8 L894.6,76.3 L895.5,76.7 L896.5,76.9 L897.5,77.1 L898.5,77.2 L899.5,77.3 L900.5,77.2 L901.5,77.0 L902.5,76.8 L903.5,76.5 L904.5,76.1 L905.5,75.6 L906.4,75.1 L907.3,74.5 L908.1,73.8 L908.9,73.1 L909.6,72.4 L910.3,71.6 L910.9,70.9 L911.5,70.0 L912.0,69.2 L912.4,68.4 L912.8,67.6 L913.1,66.8 L913.3,66.1 L913.5,65.3 L913.6,64.6 L913.6,64.0 L913.6,63.4 L913.5,62.9 L913.4,62.4 L913.2,62.0 L913.0,61.7 L912.7,61.5 L912.4,61.3 L912.1,61.3 L911.8,61.3 L911.4,61.4 L911.0,61.6 L910.6,61.9 L910.2,62.3 L909.9,62.7 L909.5,63.3 L909.1,63.9 L908.8,64.6 L908.5,65.3 L908.3,66.1 L908.1,67.0 L907.9,67.9 L907.8,68.9 L907.8,69.9 L907.8,70.9 L907.8,71.9 L908.0,72.9 L908.2,74.0 L908.4,75.0 L908.8,76.0 L909.2,77.0 L909.6,77.9 L910.2,78.8 L910.8,79.7 L911.4,80.5 L912.1,81.2 L912.9,81.9 L913.7,82.5 L914.5,83.1 L915.4,83.5 L916.4,83.9 L917.3,84.1 L918.3,84.3 L919.3,84.4 L920.3,84.5 L921.3,84.4 L922.4,84.2 L923.4,84.0 L924.4,83.7 L925.3,83.3 L926.3,82.8 L927.2,82.3 L928.1,81.7 L928.9,81.0 L929.7,80.3 L930.4,79.6 L931.1,78.8 L931.7,78.0 L932.3,77.2 L932.8,76.4 L933.2,75.6 L933.6,74.8 L933.9,74.0 L934.1,73.2 L934.3,72.5 L934.4,71.8 L934.4,71.2 L934.4,70.6 L934.3,70.1 L934.2,69.6 L934.0,69.2 L933.8,68.9 L933.5,68.7 L933.2,68.5" fill="none" stroke="#bfdcb9" stroke-width="7.5" opacity="0.8" stroke-linecap="round"/>
<path d="M926.7,111.9 L927.6,112.2 L928.6,112.5 L929.6,112.6 L930.7,112.6 L931.7,112.5 L932.8,112.3 L933.9,112.0 L935.0,111.6 L936.1,111.1 L937.2,110.6 L938.3,109.9 L939.3,109.1 L940.3,108.3 L941.3,107.4 L942.2,106.5 L943.0,105.6 L943.9,104.6 L944.6,103.5 L945.3,102.5 L945.9,101.5 L946.5,100.5 L946.9,99.5 L947.3,98.5 L947.6,97.6 L947.9,96.7 L948.1,95.9 L948.2,95.2 L948.2,94.5 L948.1,94.0 L948.0,93.5 L947.8,93.1 L947.6,92.8 L947.3,92.6 L947.0,92.6 L946.6,92.6 L946.2,92.8 L945.8,93.0 L945.3,93.4 L944.8,93.9 L944.3,94.5 L943.8,95.2 L943.3,96.0 L942.9,96.8 L942.4,97.8 L942.0,98.8 L941.6,99.9 L941.3,101.1 L941.0,102.3 L940.7,103.5 L940.5,104.8 L940.4,106.1 L940.3,107.4 L940.3,108.7 L940.4,110.0 L940.6,111.3 L940.8,112.5 L941.1,113.7 L941.5,114.8 L941.9,115.9 L942.4,116.9 L943.0,117.8 L943.7,118.6 L944.4,119.4 L945.2,120.0 L946.1,120.6 L947.0,121.0 L948.0,121.3 L948.9,121.5 L950.0,121.6 L951.0,121.6 L952.1,121.5 L953.2,121.3 L954.3,121.0 L955.4,120.5 L956.5,120.0 L957.6,119.4 L958.6,118.7 L959.7,117.9 L960.6,117.1 L961.6,116.2 L962.5,115.3 L963.4,114.3 L964.1,113.3 L964.9,112.3 L965.5,111.2 L966.1,110.2 L966.7,109.2 L967.1,108.2 L967.5,107.3 L967.8,106.4 L968.0,105.5 L968.2,104.7 L968.2,104.0 L968.2,103.4 L968.2,102.8 L968.0,102.4 L967.8,102.0 L967.6,101.8 L967.3,101.6 L966.9,101.6 L966.6,101.7 L966.1,101.9 L965.7,102.2 L965.2,102.6 L964.7,103.1 L964.2,103.7 L963.7,104.4 L963.3,105.2 L962.8,106.1 L962.4,107.1 L961.9,108.2 L961.6,109.3 L961.2,110.5 L961.0,111.7 L960.7,112.9 L960.5,114.2 L960.4,115.5 L960.4,116.8 L960.4,118.1 L960.5,119.4 L960.7,120.7 L960.9,121.9 L961.3,123.1 L961.7,124.2 L962.1,125.2 L962.7,126.2 L963.3,127.1 L964.0,127.9 L964.7,128.6 L965.6,129.2 L966.4,129.7" fill="none" stroke="#a6cda0" stroke-width="9.3" opacity="0.5599999999999999" stroke-linecap="round"/>
<path d="M926.7,111.9 L927.6,112.2 L928.6,112.5 L929.6,112.6 L930.7,112.6 L931.7,112.5 L932.8,112.3 L933.9,112.0 L935.0,111.6 L936.1,111.1 L937.2,110.6 L938.3,109.9 L939.3,109.1 L940.3,108.3 L941.3,107.4 L942.2,106.5 L943.0,105.6 L943.9,104.6 L944.6,103.5 L945.3,102.5 L945.9,101.5 L946.5,100.5 L946.9,99.5 L947.3,98.5 L947.6,97.6 L947.9,96.7 L948.1,95.9 L948.2,95.2 L948.2,94.5 L948.1,94.0 L948.0,93.5 L947.8,93.1 L947.6,92.8 L947.3,92.6 L947.0,92.6 L946.6,92.6 L946.2,92.8 L945.8,93.0 L945.3,93.4 L944.8,93.9 L944.3,94.5 L943.8,95.2 L943.3,96.0 L942.9,96.8 L942.4,97.8 L942.0,98.8 L941.6,99.9 L941.3,101.1 L941.0,102.3 L940.7,103.5 L940.5,104.8 L940.4,106.1 L940.3,107.4 L940.3,108.7 L940.4,110.0 L940.6,111.3 L940.8,112.5 L941.1,113.7 L941.5,114.8 L941.9,115.9 L942.4,116.9 L943.0,117.8 L943.7,118.6 L944.4,119.4 L945.2,120.0 L946.1,120.6 L947.0,121.0 L948.0,121.3 L948.9,121.5 L950.0,121.6 L951.0,121.6 L952.1,121.5 L953.2,121.3 L954.3,121.0 L955.4,120.5 L956.5,120.0 L957.6,119.4 L958.6,118.7 L959.7,117.9 L960.6,117.1 L961.6,116.2 L962.5,115.3 L963.4,114.3 L964.1,113.3 L964.9,112.3 L965.5,111.2 L966.1,110.2 L966.7,109.2 L967.1,108.2 L967.5,107.3 L967.8,106.4 L968.0,105.5 L968.2,104.7 L968.2,104.0 L968.2,103.4 L968.2,102.8 L968.0,102.4 L967.8,102.0 L967.6,101.8 L967.3,101.6 L966.9,101.6 L966.6,101.7 L966.1,101.9 L965.7,102.2 L965.2,102.6 L964.7,103.1 L964.2,103.7 L963.7,104.4 L963.3,105.2 L962.8,106.1 L962.4,107.1 L961.9,108.2 L961.6,109.3 L961.2,110.5 L961.0,111.7 L960.7,112.9 L960.5,114.2 L960.4,115.5 L960.4,116.8 L960.4,118.1 L960.5,119.4 L960.7,120.7 L960.9,121.9 L961.3,123.1 L961.7,124.2 L962.1,125.2 L962.7,126.2 L963.3,127.1 L964.0,127.9 L964.7,128.6 L965.6,129.2 L966.4,129.7" fill="none" stroke="#bfdcb9" stroke-width="7.5" opacity="0.8" stroke-linecap="round"/>
<path d="M974.5,121.7 L974.8,122.7 L975.3,123.6 L975.8,124.4 L976.5,125.3 L977.3,126.0 L978.2,126.7 L979.2,127.4 L980.3,127.9 L981.4,128.4 L982.6,128.9 L983.9,129.3 L985.2,129.5 L986.5,129.8 L987.9,129.9 L989.3,130.0 L990.7,130.1 L992.1,130.0 L993.4,129.9 L994.7,129.8 L996.0,129.6 L997.2,129.3 L998.4,129.0 L999.4,128.7 L1000.4,128.3 L1001.3,128.0 L1002.1,127.6 L1002.8,127.2 L1003.4,126.7 L1003.8,126.3 L1004.2,125.9 L1004.4,125.6 L1004.5,125.2 L1004.4,124.9 L1004.3,124.6 L1004.0,124.3 L1003.6,124.1 L1003.1,123.9 L1002.4,123.8 L1001.7,123.7 L1000.9,123.8 L1000.0,123.8 L999.0,124.0 L998.0,124.2 L996.9,124.5 L995.8,124.8 L994.6,125.2 L993.4,125.7 L992.2,126.3 L991.0,126.9 L989.8,127.6 L988.6,128.3 L987.5,129.1 L986.4,130.0 L985.3,130.9 L984.4,131.8 L983.5,132.8 L982.7,133.8 L982.0,134.8 L981.4,135.9 L980.9,136.9 L980.5,138.0 L980.2,139.1 L980.1,140.1 L980.1,141.1 L980.2,142.1 L980.4,143.1 L980.8,144.0 L981.2,144.9 L981.8,145.8 L982.5,146.6 L983.3,147.4 L984.2,148.0 L985.2,148.7 L986.3,149.2 L987.5,149.7 L988.7,150.2 L990.0,150.5 L991.3,150.8 L992.6,151.0 L994.0,151.2 L995.4,151.2 L996.8,151.3 L998.2,151.2 L999.5,151.1 L1000.8,151.0 L1002.1,150.7 L1003.3,150.5 L1004.4,150.2 L1005.5,149.9 L1006.5,149.5 L1007.3,149.1 L1008.1,148.7 L1008.8,148.3 L1009.3,147.9 L1009.7,147.5 L1010.1,147.1 L1010.2,146.7 L1010.3,146.3 L1010.2,146.0 L1010.1,145.7 L1009.8,145.5 L1009.3,145.2 L1008.8,145.1 L1008.2,145.0 L1007.4,145.0 L1006.6,145.0 L1005.7,145.1 L1004.7,145.2 L1003.7,145.4 L1002.5,145.7 L1001.4,146.1 L1000.2,146.5 L999.0,147.0 L997.8,147.6 L996.6,148.2 L995.4,148.9 L994.2,149.7 L993.1,150.5 L992.0,151.4 L991.0,152.3 L990.1,153.2 L989.2,154.2 L988.4,155.2 L987.7,156.2 L987.1,157.3 L986.7,158.3 L986.3,159.4 L986.1,160.5 L985.9,161.5 L985.9,162.5 L986.1,163.5 L986.3,164.5 L986.7,165.4 L987.2,166.3 L987.8,167.2 L988.5,168.0 L989.3,168.7 L990.2,169.4 L991.3,170.0 L992.4,170.5 L993.5,171.0 L994.8,171.4 L996.1,171.8 L997.4,172.1 L998.7,172.3 L1000.1,172.4 L1001.5,172.5 L1002.9,172.5 L1004.3,172.4 L1005.6,172.3 L1006.9,172.1 L1008.2,171.9 L1009.4,171.6 L1010.5,171.3 L1011.5,171.0 L1012.5,170.6 L1013.3,170.2 L1014.1,169.8 L1014.7,169.4 L1015.3,169.0 L1015.7,168.6 L1015.9,168.2 L1016.1,167.8 L1016.2,167.5 L1016.1,167.2 L1015.9,166.9 L1015.5,166.6 L1015.1,166.4 L1014.5,166.3 L1013.9,166.2 L1013.1,166.2 L1012.3,166.2 L1011.4,166.3 L1010.4,166.5 L1009.3,166.7 L1008.2,167.0 L1007.0,167.4 L1005.8,167.8 L1004.6,168.3 L1003.4,168.9 L1002.2,169.6 L1001.0,170.3 L999.9,171.0 L998.8,171.9 L997.7,172.7 L996.7,173.7 L995.7,174.6 L994.9,175.6 L994.1,176.6 L993.5,177.6 L992.9,178.7 L992.4,179.7 L992.1,180.8 L991.9,181.8 L991.8,182.9 L991.8,183.9 L991.9,184.9 L992.2,185.9 L992.6,186.8 L993.1,187.7 L993.8,188.5 L994.5,189.3 L995.3,190.0 L996.3,190.7 L997.3,191.3 L998.4,191.8 L999.6,192.3 L1000.8,192.7 L1002.1,193.0 L1003.5,193.3 L1004.8,193.5 L1006.2,193.6 L1007.6,193.7 L1009.0,193.7 L1010.4,193.6 L1011.7,193.5 L1013.0,193.3 L1014.2,193.1 L1015.4,192.8 L1016.5,192.5 L1017.6,192.1 L1018.5,191.8 L1019.3,191.4 L1020.1,191.0 L1020.7,190.6 L1021.2,190.1 L1021.6,189.7 L1021.8,189.3 L1022.0,189.0 L1022.0,188.6 L1021.9,188.3 L1021.7,188.0 L1021.3,187.8 L1020.9,187.6 L1020.3,187.5 L1019.6,187.4 L1018.8,187.4 L1018.0,187.4 L1017.0,187.5 L1016.0,187.7 L1015.0,188.0 L1013.8,188.3 L1012.7,188.7 L1011.5,189.1 L1010.3,189.7 L1009.1,190.2 L1007.9,190.9 L1006.7,191.6 L1005.5,192.4 L1004.4,193.2 L1003.3,194.1 L1002.4,195.0 L1001.4,196.0 L1000.6,197.0 L999.8,198.0 L999.2,199.0 L998.6,200.1 L998.2,201.1 L997.9,202.2 L997.7,203.2 L997.6,204.3 L997.7,205.3 L997.8,206.3 L998.1,207.3 L998.5,208.2 L999.1,209.0 L999.7,209.9 L1000.5,210.7 L1001.4,211.4 L1002.3,212.0" fill="none" stroke="#a6cda0" stroke-width="9.3" opacity="0.5599999999999999" stroke-linecap="round"/>
<path d="M974.5,121.7 L974.8,122.7 L975.3,123.6 L975.8,124.4 L976.5,125.3 L977.3,126.0 L978.2,126.7 L979.2,127.4 L980.3,127.9 L981.4,128.4 L982.6,128.9 L983.9,129.3 L985.2,129.5 L986.5,129.8 L987.9,129.9 L989.3,130.0 L990.7,130.1 L992.1,130.0 L993.4,129.9 L994.7,129.8 L996.0,129.6 L997.2,129.3 L998.4,129.0 L999.4,128.7 L1000.4,128.3 L1001.3,128.0 L1002.1,127.6 L1002.8,127.2 L1003.4,126.7 L1003.8,126.3 L1004.2,125.9 L1004.4,125.6 L1004.5,125.2 L1004.4,124.9 L1004.3,124.6 L1004.0,124.3 L1003.6,124.1 L1003.1,123.9 L1002.4,123.8 L1001.7,123.7 L1000.9,123.8 L1000.0,123.8 L999.0,124.0 L998.0,124.2 L996.9,124.5 L995.8,124.8 L994.6,125.2 L993.4,125.7 L992.2,126.3 L991.0,126.9 L989.8,127.6 L988.6,128.3 L987.5,129.1 L986.4,130.0 L985.3,130.9 L984.4,131.8 L983.5,132.8 L982.7,133.8 L982.0,134.8 L981.4,135.9 L980.9,136.9 L980.5,138.0 L980.2,139.1 L980.1,140.1 L980.1,141.1 L980.2,142.1 L980.4,143.1 L980.8,144.0 L981.2,144.9 L981.8,145.8 L982.5,146.6 L983.3,147.4 L984.2,148.0 L985.2,148.7 L986.3,149.2 L987.5,149.7 L988.7,150.2 L990.0,150.5 L991.3,150.8 L992.6,151.0 L994.0,151.2 L995.4,151.2 L996.8,151.3 L998.2,151.2 L999.5,151.1 L1000.8,151.0 L1002.1,150.7 L1003.3,150.5 L1004.4,150.2 L1005.5,149.9 L1006.5,149.5 L1007.3,149.1 L1008.1,148.7 L1008.8,148.3 L1009.3,147.9 L1009.7,147.5 L1010.1,147.1 L1010.2,146.7 L1010.3,146.3 L1010.2,146.0 L1010.1,145.7 L1009.8,145.5 L1009.3,145.2 L1008.8,145.1 L1008.2,145.0 L1007.4,145.0 L1006.6,145.0 L1005.7,145.1 L1004.7,145.2 L1003.7,145.4 L1002.5,145.7 L1001.4,146.1 L1000.2,146.5 L999.0,147.0 L997.8,147.6 L996.6,148.2 L995.4,148.9 L994.2,149.7 L993.1,150.5 L992.0,151.4 L991.0,152.3 L990.1,153.2 L989.2,154.2 L988.4,155.2 L987.7,156.2 L987.1,157.3 L986.7,158.3 L986.3,159.4 L986.1,160.5 L985.9,161.5 L985.9,162.5 L986.1,163.5 L986.3,164.5 L986.7,165.4 L987.2,166.3 L987.8,167.2 L988.5,168.0 L989.3,168.7 L990.2,169.4 L991.3,170.0 L992.4,170.5 L993.5,171.0 L994.8,171.4 L996.1,171.8 L997.4,172.1 L998.7,172.3 L1000.1,172.4 L1001.5,172.5 L1002.9,172.5 L1004.3,172.4 L1005.6,172.3 L1006.9,172.1 L1008.2,171.9 L1009.4,171.6 L1010.5,171.3 L1011.5,171.0 L1012.5,170.6 L1013.3,170.2 L1014.1,169.8 L1014.7,169.4 L1015.3,169.0 L1015.7,168.6 L1015.9,168.2 L1016.1,167.8 L1016.2,167.5 L1016.1,167.2 L1015.9,166.9 L1015.5,166.6 L1015.1,166.4 L1014.5,166.3 L1013.9,166.2 L1013.1,166.2 L1012.3,166.2 L1011.4,166.3 L1010.4,166.5 L1009.3,166.7 L1008.2,167.0 L1007.0,167.4 L1005.8,167.8 L1004.6,168.3 L1003.4,168.9 L1002.2,169.6 L1001.0,170.3 L999.9,171.0 L998.8,171.9 L997.7,172.7 L996.7,173.7 L995.7,174.6 L994.9,175.6 L994.1,176.6 L993.5,177.6 L992.9,178.7 L992.4,179.7 L992.1,180.8 L991.9,181.8 L991.8,182.9 L991.8,183.9 L991.9,184.9 L992.2,185.9 L992.6,186.8 L993.1,187.7 L993.8,188.5 L994.5,189.3 L995.3,190.0 L996.3,190.7 L997.3,191.3 L998.4,191.8 L999.6,192.3 L1000.8,192.7 L1002.1,193.0 L1003.5,193.3 L1004.8,193.5 L1006.2,193.6 L1007.6,193.7 L1009.0,193.7 L1010.4,193.6 L1011.7,193.5 L1013.0,193.3 L1014.2,193.1 L1015.4,192.8 L1016.5,192.5 L1017.6,192.1 L1018.5,191.8 L1019.3,191.4 L1020.1,191.0 L1020.7,190.6 L1021.2,190.1 L1021.6,189.7 L1021.8,189.3 L1022.0,189.0 L1022.0,188.6 L1021.9,188.3 L1021.7,188.0 L1021.3,187.8 L1020.9,187.6 L1020.3,187.5 L1019.6,187.4 L1018.8,187.4 L1018.0,187.4 L1017.0,187.5 L1016.0,187.7 L1015.0,188.0 L1013.8,188.3 L1012.7,188.7 L1011.5,189.1 L1010.3,189.7 L1009.1,190.2 L1007.9,190.9 L1006.7,191.6 L1005.5,192.4 L1004.4,193.2 L1003.3,194.1 L1002.4,195.0 L1001.4,196.0 L1000.6,197.0 L999.8,198.0 L999.2,199.0 L998.6,200.1 L998.2,201.1 L997.9,202.2 L997.7,203.2 L997.6,204.3 L997.7,205.3 L997.8,206.3 L998.1,207.3 L998.5,208.2 L999.1,209.0 L999.7,209.9 L1000.5,210.7 L1001.4,211.4 L1002.3,212.0" fill="none" stroke="#bfdcb9" stroke-width="7.5" opacity="0.8" stroke-linecap="round"/>
<path d="M891.0,178.7 L891.8,179.3 L892.6,179.8 L893.6,180.2 L894.6,180.5 L895.7,180.6 L896.8,180.7 L898.0,180.7 L899.2,180.6 L900.4,180.3 L901.7,180.0 L902.9,179.6 L904.2,179.1 L905.4,178.6 L906.7,177.9 L907.8,177.2 L909.0,176.4 L910.1,175.6 L911.2,174.8 L912.2,173.9 L913.1,173.1 L914.0,172.2 L914.8,171.3 L915.5,170.4 L916.1,169.6 L916.6,168.7 L917.0,168.0 L917.4,167.2 L917.6,166.6 L917.8,166.0 L917.8,165.5 L917.8,165.0 L917.6,164.7 L917.4,164.4 L917.1,164.2 L916.7,164.2 L916.3,164.2 L915.8,164.4 L915.2,164.6 L914.6,165.0 L913.9,165.5 L913.2,166.0 L912.5,166.7 L911.8,167.4 L911.0,168.3 L910.3,169.2 L909.6,170.2 L908.8,171.3 L908.2,172.4 L907.5,173.6 L906.9,174.9 L906.4,176.1 L905.9,177.4 L905.4,178.8 L905.1,180.1 L904.8,181.4 L904.6,182.7 L904.5,184.0 L904.5,185.2 L904.6,186.4 L904.8,187.6 L905.1,188.7 L905.4,189.7 L905.9,190.6 L906.5,191.5 L907.1,192.3 L907.8,193.0 L908.7,193.6 L909.5,194.0 L910.5,194.4 L911.5,194.7 L912.6,194.9 L913.7,194.9 L914.9,194.9 L916.1,194.8 L917.4,194.5 L918.6,194.2 L919.9,193.8 L921.1,193.3 L922.4,192.7 L923.6,192.0 L924.8,191.3 L925.9,190.6 L927.0,189.8 L928.1,188.9 L929.1,188.0 L930.0,187.2 L930.9,186.3 L931.7,185.4 L932.3,184.5 L933.0,183.7 L933.5,182.9 L933.9,182.1 L934.2,181.4 L934.4,180.7 L934.6,180.1 L934.6,179.6 L934.6,179.2 L934.4,178.8 L934.2,178.6 L933.9,178.4 L933.5,178.4 L933.0,178.5 L932.5,178.6 L931.9,178.9 L931.3,179.2 L930.7,179.7 L930.0,180.3 L929.2,181.0 L928.5,181.7 L927.7,182.6 L927.0,183.5 L926.3,184.5 L925.6,185.6 L924.9,186.8 L924.2,188.0 L923.6,189.2 L923.1,190.5 L922.6,191.8 L922.2,193.1 L921.9,194.4 L921.6,195.8 L921.4,197.1 L921.3,198.3 L921.3,199.6 L921.4,200.8 L921.6,201.9 L921.9,203.0 L922.3,204.0 L922.8,205.0 L923.3,205.8 L924.0,206.6 L924.7,207.3 L925.5,207.8 L926.4,208.3 L927.4,208.7 L928.4,208.9 L929.5,209.1 L930.7,209.2 L931.9,209.1 L933.1,209.0 L934.3,208.7 L935.5,208.4 L936.8,207.9 L938.1,207.4 L939.3,206.8 L940.5,206.2 L941.7,205.5 L942.9,204.7 L944.0,203.9 L945.0,203.0 L946.0,202.2 L946.9,201.3 L947.8,200.4 L948.5,199.5 L949.2,198.6 L949.8,197.8 L950.3,197.0 L950.7,196.2 L951.0,195.5 L951.3,194.9 L951.4,194.3 L951.4,193.8 L951.3,193.3 L951.2,193.0 L951.0,192.8 L950.6,192.6 L950.2,192.6 L949.8,192.7 L949.3,192.8 L948.7,193.1 L948.0,193.5 L947.4,194.0 L946.7,194.6 L945.9,195.3 L945.2,196.0 L944.5,196.9 L943.7,197.9 L943.0,198.9 L942.3,200.0 L941.6,201.1 L941.0,202.3 L940.4,203.6 L939.8,204.9 L939.4,206.2 L938.9,207.5 L938.6,208.8 L938.4,210.1 L938.2,211.4 L938.1,212.7 L938.1,213.9 L938.2,215.1 L938.4,216.3 L938.7,217.3 L939.1,218.3 L939.6,219.3 L940.2,220.1 L940.9,220.9 L941.6,221.5 L942.4,222.1 L943.3,222.6 L944.3,222.9 L945.4,223.2 L946.5,223.3 L947.6,223.4" fill="none" stroke="#a6cda0" stroke-width="9.3" opacity="0.5599999999999999" stroke-linecap="round"/>
<path d="M891.0,178.7 L891.8,179.3 L892.6,179.8 L893.6,180.2 L894.6,180.5 L895.7,180.6 L896.8,180.7 L898.0,180.7 L899.2,180.6 L900.4,180.3 L901.7,180.0 L902.9,179.6 L904.2,179.1 L905.4,178.6 L906.7,177.9 L907.8,177.2 L909.0,176.4 L910.1,175.6 L911.2,174.8 L912.2,173.9 L913.1,173.1 L914.0,172.2 L914.8,171.3 L915.5,170.4 L916.1,169.6 L916.6,168.7 L917.0,168.0 L917.4,167.2 L917.6,166.6 L917.8,166.0 L917.8,165.5 L917.8,165.0 L917.6,164.7 L917.4,164.4 L917.1,164.2 L916.7,164.2 L916.3,164.2 L915.8,164.4 L915.2,164.6 L914.6,165.0 L913.9,165.5 L913.2,166.0 L912.5,166.7 L911.8,167.4 L911.0,168.3 L910.3,169.2 L909.6,170.2 L908.8,171.3 L908.2,172.4 L907.5,173.6 L906.9,174.9 L906.4,176.1 L905.9,177.4 L905.4,178.8 L905.1,180.1 L904.8,181.4 L904.6,182.7 L904.5,184.0 L904.5,185.2 L904.6,186.4 L904.8,187.6 L905.1,188.7 L905.4,189.7 L905.9,190.6 L906.5,191.5 L907.1,192.3 L907.8,193.0 L908.7,193.6 L909.5,194.0 L910.5,194.4 L911.5,194.7 L912.6,194.9 L913.7,194.9 L914.9,194.9 L916.1,194.8 L917.4,194.5 L918.6,194.2 L919.9,193.8 L921.1,193.3 L922.4,192.7 L923.6,192.0 L924.8,191.3 L925.9,190.6 L927.0,189.8 L928.1,188.9 L929.1,188.0 L930.0,187.2 L930.9,186.3 L931.7,185.4 L932.3,184.5 L933.0,183.7 L933.5,182.9 L933.9,182.1 L934.2,181.4 L934.4,180.7 L934.6,180.1 L934.6,179.6 L934.6,179.2 L934.4,178.8 L934.2,178.6 L933.9,178.4 L933.5,178.4 L933.0,178.5 L932.5,178.6 L931.9,178.9 L931.3,179.2 L930.7,179.7 L930.0,180.3 L929.2,181.0 L928.5,181.7 L927.7,182.6 L927.0,183.5 L926.3,184.5 L925.6,185.6 L924.9,186.8 L924.2,188.0 L923.6,189.2 L923.1,190.5 L922.6,191.8 L922.2,193.1 L921.9,194.4 L921.6,195.8 L921.4,197.1 L921.3,198.3 L921.3,199.6 L921.4,200.8 L921.6,201.9 L921.9,203.0 L922.3,204.0 L922.8,205.0 L923.3,205.8 L924.0,206.6 L924.7,207.3 L925.5,207.8 L926.4,208.3 L927.4,208.7 L928.4,208.9 L929.5,209.1 L930.7,209.2 L931.9,209.1 L933.1,209.0 L934.3,208.7 L935.5,208.4 L936.8,207.9 L938.1,207.4 L939.3,206.8 L940.5,206.2 L941.7,205.5 L942.9,204.7 L944.0,203.9 L945.0,203.0 L946.0,202.2 L946.9,201.3 L947.8,200.4 L948.5,199.5 L949.2,198.6 L949.8,197.8 L950.3,197.0 L950.7,196.2 L951.0,195.5 L951.3,194.9 L951.4,194.3 L951.4,193.8 L951.3,193.3 L951.2,193.0 L951.0,192.8 L950.6,192.6 L950.2,192.6 L949.8,192.7 L949.3,192.8 L948.7,193.1 L948.0,193.5 L947.4,194.0 L946.7,194.6 L945.9,195.3 L945.2,196.0 L944.5,196.9 L943.7,197.9 L943.0,198.9 L942.3,200.0 L941.6,201.1 L941.0,202.3 L940.4,203.6 L939.8,204.9 L939.4,206.2 L938.9,207.5 L938.6,208.8 L938.4,210.1 L938.2,211.4 L938.1,212.7 L938.1,213.9 L938.2,215.1 L938.4,216.3 L938.7,217.3 L939.1,218.3 L939.6,219.3 L940.2,220.1 L940.9,220.9 L941.6,221.5 L942.4,222.1 L943.3,222.6 L944.3,222.9 L945.4,223.2 L946.5,223.3 L947.6,223.4" fill="none" stroke="#bfdcb9" stroke-width="7.5" opacity="0.8" stroke-linecap="round"/>
<path d="M807.9,221.5 L808.5,222.3 L809.1,223.0 L809.9,223.7 L810.7,224.3 L811.6,224.9 L812.6,225.3 L813.6,225.7 L814.7,226.0 L815.9,226.2 L817.0,226.4 L818.2,226.4 L819.4,226.4 L820.6,226.3 L821.8,226.2 L823.0,226.0 L824.2,225.7 L825.3,225.4 L826.4,225.0 L827.5,224.5 L828.5,224.1 L829.4,223.6 L830.3,223.0 L831.1,222.5 L831.8,222.0 L832.4,221.4 L833.0,220.9 L833.4,220.3 L833.8,219.8 L834.0,219.3 L834.2,218.9 L834.2,218.5 L834.2,218.1 L834.0,217.8 L833.8,217.6 L833.5,217.4 L833.1,217.3 L832.6,217.2 L832.0,217.2 L831.4,217.3 L830.8,217.5 L830.0,217.8 L829.3,218.1 L828.5,218.6 L827.6,219.1 L826.8,219.6 L825.9,220.3 L825.1,221.0 L824.3,221.8 L823.4,222.6 L822.7,223.5 L821.9,224.5 L821.2,225.5 L820.6,226.5 L820.0,227.6 L819.5,228.7 L819.1,229.8 L818.7,230.9 L818.5,232.0 L818.3,233.1 L818.2,234.2 L818.2,235.3 L818.3,236.3 L818.6,237.3 L818.9,238.3 L819.3,239.2 L819.8,240.1 L820.4,240.9 L821.1,241.6 L821.8,242.3 L822.7,242.9 L823.6,243.4 L824.6,243.9 L825.6,244.3 L826.7,244.6 L827.8,244.8 L829.0,244.9 L830.2,245.0 L831.4,245.0 L832.6,244.9 L833.8,244.7 L835.0,244.5 L836.1,244.2 L837.3,243.9 L838.4,243.5 L839.4,243.0 L840.4,242.6 L841.4,242.1 L842.2,241.5 L843.0,241.0 L843.7,240.4 L844.3,239.9 L844.9,239.3 L845.3,238.8 L845.6,238.3 L845.9,237.8 L846.0,237.4 L846.0,237.0 L846.0,236.6 L845.8,236.3 L845.6,236.1 L845.3,235.9 L844.9,235.8 L844.4,235.8 L843.8,235.8 L843.2,235.9 L842.5,236.1 L841.8,236.4 L841.0,236.7 L840.2,237.2 L839.4,237.7 L838.5,238.3 L837.7,238.9 L836.8,239.6 L836.0,240.4 L835.2,241.3 L834.4,242.2 L833.7,243.1 L833.0,244.1 L832.4,245.2 L831.8,246.2 L831.3,247.3 L830.9,248.4 L830.5,249.6 L830.3,250.7 L830.1,251.8 L830.0,252.9 L830.1,253.9 L830.2,255.0 L830.4,256.0 L830.7,257.0 L831.2,257.9 L831.7,258.7 L832.3,259.5 L833.0,260.3 L833.7,260.9 L834.6,261.5 L835.5,262.0 L836.5,262.5 L837.5,262.9 L838.6,263.1 L839.8,263.3 L840.9,263.5 L842.1,263.5 L843.3,263.5 L844.5,263.4 L845.7,263.2 L846.9,263.0 L848.1,262.7 L849.2,262.4 L850.3,262.0 L851.4,261.5 L852.4,261.1 L853.3,260.5 L854.1,260.0 L854.9,259.5 L855.6,258.9 L856.2,258.4 L856.7,257.8 L857.2,257.3 L857.5,256.8 L857.7,256.3 L857.8,255.9 L857.9,255.5 L857.8,255.1 L857.7,254.8 L857.4,254.6 L857.1,254.4" fill="none" stroke="#a6cda0" stroke-width="9.3" opacity="0.5599999999999999" stroke-linecap="round"/>
<path d="M807.9,221.5 L808.5,222.3 L809.1,223.0 L809.9,223.7 L810.7,224.3 L811.6,224.9 L812.6,225.3 L813.6,225.7 L814.7,226.0 L815.9,226.2 L817.0,226.4 L818.2,226.4 L819.4,226.4 L820.6,226.3 L821.8,226.2 L823.0,226.0 L824.2,225.7 L825.3,225.4 L826.4,225.0 L827.5,224.5 L828.5,224.1 L829.4,223.6 L830.3,223.0 L831.1,222.5 L831.8,222.0 L832.4,221.4 L833.0,220.9 L833.4,220.3 L833.8,219.8 L834.0,219.3 L834.2,218.9 L834.2,218.5 L834.2,218.1 L834.0,217.8 L833.8,217.6 L833.5,217.4 L833.1,217.3 L832.6,217.2 L832.0,217.2 L831.4,217.3 L830.8,217.5 L830.0,217.8 L829.3,218.1 L828.5,218.6 L827.6,219.1 L826.8,219.6 L825.9,220.3 L825.1,221.0 L824.3,221.8 L823.4,222.6 L822.7,223.5 L821.9,224.5 L821.2,225.5 L820.6,226.5 L820.0,227.6 L819.5,228.7 L819.1,229.8 L818.7,230.9 L818.5,232.0 L818.3,233.1 L818.2,234.2 L818.2,235.3 L818.3,236.3 L818.6,237.3 L818.9,238.3 L819.3,239.2 L819.8,240.1 L820.4,240.9 L821.1,241.6 L821.8,242.3 L822.7,242.9 L823.6,243.4 L824.6,243.9 L825.6,244.3 L826.7,244.6 L827.8,244.8 L829.0,244.9 L830.2,245.0 L831.4,245.0 L832.6,244.9 L833.8,244.7 L835.0,244.5 L836.1,244.2 L837.3,243.9 L838.4,243.5 L839.4,243.0 L840.4,242.6 L841.4,242.1 L842.2,241.5 L843.0,241.0 L843.7,240.4 L844.3,239.9 L844.9,239.3 L845.3,238.8 L845.6,238.3 L845.9,237.8 L846.0,237.4 L846.0,237.0 L846.0,236.6 L845.8,236.3 L845.6,236.1 L845.3,235.9 L844.9,235.8 L844.4,235.8 L843.8,235.8 L843.2,235.9 L842.5,236.1 L841.8,236.4 L841.0,236.7 L840.2,237.2 L839.4,237.7 L838.5,238.3 L837.7,238.9 L836.8,239.6 L836.0,240.4 L835.2,241.3 L834.4,242.2 L833.7,243.1 L833.0,244.1 L832.4,245.2 L831.8,246.2 L831.3,247.3 L830.9,248.4 L830.5,249.6 L830.3,250.7 L830.1,251.8 L830.0,252.9 L830.1,253.9 L830.2,255.0 L830.4,256.0 L830.7,257.0 L831.2,257.9 L831.7,258.7 L832.3,259.5 L833.0,260.3 L833.7,260.9 L834.6,261.5 L835.5,262.0 L836.5,262.5 L837.5,262.9 L838.6,263.1 L839.8,263.3 L840.9,263.5 L842.1,263.5 L843.3,263.5 L844.5,263.4 L845.7,263.2 L846.9,263.0 L848.1,262.7 L849.2,262.4 L850.3,262.0 L851.4,261.5 L852.4,261.1 L853.3,260.5 L854.1,260.0 L854.9,259.5 L855.6,258.9 L856.2,258.4 L856.7,257.8 L857.2,257.3 L857.5,256.8 L857.7,256.3 L857.8,255.9 L857.9,255.5 L857.8,255.1 L857.7,254.8 L857.4,254.6 L857.1,254.4" fill="none" stroke="#bfdcb9" stroke-width="7.5" opacity="0.8" stroke-linecap="round"/>
<path d="M852.3,218.6 L853.0,219.3 L853.8,220.0 L854.6,220.5 L855.6,220.9 L856.6,221.3 L857.7,221.6 L858.8,221.8 L859.9,221.8 L861.1,221.8 L862.4,221.8 L863.6,221.6 L864.8,221.3 L866.1,221.0 L867.3,220.6 L868.5,220.2 L869.7,219.6 L870.9,219.1 L872.0,218.4 L873.0,217.8 L874.0,217.1 L874.9,216.4 L875.8,215.7 L876.5,215.0 L877.2,214.3 L877.8,213.6 L878.3,212.9 L878.7,212.3 L879.0,211.7 L879.2,211.2 L879.3,210.7 L879.3,210.3 L879.2,209.9 L879.0,209.6 L878.7,209.4 L878.4,209.3 L878.0,209.2 L877.5,209.3 L876.9,209.4 L876.3,209.7 L875.6,210.0 L874.9,210.4 L874.1,210.9 L873.3,211.5 L872.5,212.2 L871.7,212.9 L870.9,213.8 L870.1,214.7 L869.3,215.6 L868.6,216.7 L867.9,217.7 L867.2,218.8 L866.6,220.0 L866.1,221.2 L865.6,222.4 L865.2,223.6 L864.9,224.8 L864.7,226.0 L864.6,227.2 L864.5,228.4 L864.6,229.5 L864.7,230.6 L865.0,231.6 L865.3,232.6 L865.7,233.5 L866.3,234.4 L866.9,235.2 L867.6,235.9 L868.4,236.5 L869.3,237.0 L870.2,237.5 L871.3,237.8 L872.3,238.1 L873.4,238.2 L874.6,238.3 L875.8,238.3 L877.0,238.2 L878.3,238.0 L879.5,237.8 L880.8,237.5 L882.0,237.1 L883.2,236.6 L884.4,236.1 L885.6,235.5 L886.6,234.9 L887.7,234.2 L888.7,233.5 L889.6,232.8 L890.4,232.1 L891.2,231.4 L891.8,230.7 L892.4,230.0 L892.9,229.4 L893.3,228.7 L893.6,228.1 L893.8,227.6 L893.9,227.1 L893.9,226.7 L893.8,226.3 L893.6,226.1 L893.3,225.9 L892.9,225.8 L892.5,225.7 L892.0,225.8 L891.4,225.9 L890.8,226.2 L890.1,226.5 L889.4,226.9 L888.6,227.4 L887.8,228.0 L887.0,228.7 L886.2,229.5 L885.4,230.3 L884.6,231.2 L883.9,232.2 L883.1,233.2 L882.4,234.3 L881.8,235.4 L881.2,236.6 L880.6,237.8 L880.2,239.0 L879.8,240.2 L879.5,241.4 L879.3,242.6 L879.1,243.8 L879.1,244.9 L879.1,246.1 L879.3,247.1 L879.6,248.2 L879.9,249.2 L880.4,250.1 L880.9,250.9 L881.5,251.7 L882.3,252.4 L883.1,253.0 L883.9,253.5 L884.9,254.0 L885.9,254.3 L887.0,254.6 L888.1,254.7 L889.3,254.8 L890.5,254.8 L891.7,254.7 L893.0,254.5 L894.2,254.2 L895.5,253.9 L896.7,253.5 L897.9,253.0 L899.1,252.5 L900.2,251.9 L901.3,251.3 L902.4,250.6 L903.3,249.9 L904.2,249.2 L905.1,248.5 L905.8,247.8 L906.5,247.1 L907.0,246.4 L907.5,245.8 L907.9,245.2 L908.2,244.6 L908.4,244.0 L908.4,243.6 L908.4,243.1 L908.3,242.8 L908.1,242.5 L907.8,242.3 L907.5,242.2 L907.0,242.2 L906.5,242.3 L905.9,242.4 L905.3,242.7 L904.6,243.0 L903.9,243.4 L903.1,244.0 L902.3,244.6 L901.5,245.3 L900.7,246.0 L899.9,246.9 L899.1,247.8 L898.4,248.8 L897.6,249.8 L896.9,250.9 L896.3,252.0 L895.7,253.2 L895.2,254.3 L894.7,255.5 L894.3,256.8 L894.0,258.0 L893.8,259.2 L893.7,260.4 L893.7,261.5 L893.7,262.6 L893.9,263.7 L894.2,264.7 L894.5,265.7 L895.0,266.6 L895.5,267.5 L896.2,268.2 L896.9,268.9 L897.7,269.5 L898.6,270.1 L899.6,270.5 L900.6,270.8 L901.7,271.1 L902.8,271.2 L904.0,271.3 L905.2,271.3 L906.4,271.2" fill="none" stroke="#a6cda0" stroke-width="9.3" opacity="0.5599999999999999" stroke-linecap="round"/>
<path d="M852.3,218.6 L853.0,219.3 L853.8,220.0 L854.6,220.5 L855.6,220.9 L856.6,221.3 L857.7,221.6 L858.8,221.8 L859.9,221.8 L861.1,221.8 L862.4,221.8 L863.6,221.6 L864.8,221.3 L866.1,221.0 L867.3,220.6 L868.5,220.2 L869.7,219.6 L870.9,219.1 L872.0,218.4 L873.0,217.8 L874.0,217.1 L874.9,216.4 L875.8,215.7 L876.5,215.0 L877.2,214.3 L877.8,213.6 L878.3,212.9 L878.7,212.3 L879.0,211.7 L879.2,211.2 L879.3,210.7 L879.3,210.3 L879.2,209.9 L879.0,209.6 L878.7,209.4 L878.4,209.3 L878.0,209.2 L877.5,209.3 L876.9,209.4 L876.3,209.7 L875.6,210.0 L874.9,210.4 L874.1,210.9 L873.3,211.5 L872.5,212.2 L871.7,212.9 L870.9,213.8 L870.1,214.7 L869.3,215.6 L868.6,216.7 L867.9,217.7 L867.2,218.8 L866.6,220.0 L866.1,221.2 L865.6,222.4 L865.2,223.6 L864.9,224.8 L864.7,226.0 L864.6,227.2 L864.5,228.4 L864.6,229.5 L864.7,230.6 L865.0,231.6 L865.3,232.6 L865.7,233.5 L866.3,234.4 L866.9,235.2 L867.6,235.9 L868.4,236.5 L869.3,237.0 L870.2,237.5 L871.3,237.8 L872.3,238.1 L873.4,238.2 L874.6,238.3 L875.8,238.3 L877.0,238.2 L878.3,238.0 L879.5,237.8 L880.8,237.5 L882.0,237.1 L883.2,236.6 L884.4,236.1 L885.6,235.5 L886.6,234.9 L887.7,234.2 L888.7,233.5 L889.6,232.8 L890.4,232.1 L891.2,231.4 L891.8,230.7 L892.4,230.0 L892.9,229.4 L893.3,228.7 L893.6,228.1 L893.8,227.6 L893.9,227.1 L893.9,226.7 L893.8,226.3 L893.6,226.1 L893.3,225.9 L892.9,225.8 L892.5,225.7 L892.0,225.8 L891.4,225.9 L890.8,226.2 L890.1,226.5 L889.4,226.9 L888.6,227.4 L887.8,228.0 L887.0,228.7 L886.2,229.5 L885.4,230.3 L884.6,231.2 L883.9,232.2 L883.1,233.2 L882.4,234.3 L881.8,235.4 L881.2,236.6 L880.6,237.8 L880.2,239.0 L879.8,240.2 L879.5,241.4 L879.3,242.6 L879.1,243.8 L879.1,244.9 L879.1,246.1 L879.3,247.1 L879.6,248.2 L879.9,249.2 L880.4,250.1 L880.9,250.9 L881.5,251.7 L882.3,252.4 L883.1,253.0 L883.9,253.5 L884.9,254.0 L885.9,254.3 L887.0,254.6 L888.1,254.7 L889.3,254.8 L890.5,254.8 L891.7,254.7 L893.0,254.5 L894.2,254.2 L895.5,253.9 L896.7,253.5 L897.9,253.0 L899.1,252.5 L900.2,251.9 L901.3,251.3 L902.4,250.6 L903.3,249.9 L904.2,249.2 L905.1,248.5 L905.8,247.8 L906.5,247.1 L907.0,246.4 L907.5,245.8 L907.9,245.2 L908.2,244.6 L908.4,244.0 L908.4,243.6 L908.4,243.1 L908.3,242.8 L908.1,242.5 L907.8,242.3 L907.5,242.2 L907.0,242.2 L906.5,242.3 L905.9,242.4 L905.3,242.7 L904.6,243.0 L903.9,243.4 L903.1,244.0 L902.3,244.6 L901.5,245.3 L900.7,246.0 L899.9,246.9 L899.1,247.8 L898.4,248.8 L897.6,249.8 L896.9,250.9 L896.3,252.0 L895.7,253.2 L895.2,254.3 L894.7,255.5 L894.3,256.8 L894.0,258.0 L893.8,259.2 L893.7,260.4 L893.7,261.5 L893.7,262.6 L893.9,263.7 L894.2,264.7 L894.5,265.7 L895.0,266.6 L895.5,267.5 L896.2,268.2 L896.9,268.9 L897.7,269.5 L898.6,270.1 L899.6,270.5 L900.6,270.8 L901.7,271.1 L902.8,271.2 L904.0,271.3 L905.2,271.3 L906.4,271.2" fill="none" stroke="#bfdcb9" stroke-width="7.5" opacity="0.8" stroke-linecap="round"/>
<path d="M950.0,220.3 L950.8,220.8 L951.7,221.3 L952.7,221.7 L953.7,221.9 L954.8,222.1 L955.9,222.2 L957.0,222.2 L958.2,222.0 L959.3,221.8 L960.5,221.5 L961.7,221.1 L962.9,220.6 L964.0,220.1 L965.2,219.5 L966.3,218.8 L967.4,218.0 L968.4,217.3 L969.4,216.5 L970.3,215.6 L971.1,214.8 L971.9,213.9 L972.6,213.1 L973.2,212.2 L973.7,211.4 L974.2,210.6 L974.5,209.9 L974.8,209.2 L975.0,208.6 L975.1,208.0 L975.1,207.5 L975.0,207.1 L974.9,206.7 L974.7,206.5 L974.4,206.3 L974.0,206.3 L973.6,206.3 L973.1,206.5 L972.5,206.7 L972.0,207.0 L971.4,207.5 L970.7,208.0 L970.1,208.7 L969.4,209.4 L968.7,210.2 L968.1,211.1 L967.5,212.0 L966.8,213.1 L966.3,214.2 L965.7,215.3 L965.2,216.5 L964.8,217.7 L964.4,219.0 L964.1,220.2 L963.9,221.5 L963.7,222.7 L963.6,224.0 L963.6,225.2 L963.7,226.4 L963.8,227.6 L964.1,228.7 L964.5,229.7 L964.9,230.7 L965.4,231.6 L966.0,232.4 L966.7,233.2 L967.4,233.8 L968.3,234.4 L969.2,234.8 L970.1,235.2 L971.1,235.5 L972.2,235.6 L973.3,235.7 L974.4,235.7 L975.6,235.5 L976.8,235.3 L978.0,235.0 L979.2,234.6 L980.3,234.1 L981.5,233.5 L982.6,232.9 L983.7,232.2 L984.8,231.5 L985.8,230.7 L986.8,229.9 L987.7,229.1 L988.5,228.2 L989.3,227.4 L990.0,226.5 L990.6,225.7 L991.1,224.9 L991.6,224.1 L991.9,223.3 L992.2,222.7 L992.4,222.0 L992.5,221.5 L992.5,221.0 L992.4,220.5 L992.2,220.2 L992.0,220.0 L991.7,219.8 L991.3,219.8 L990.9,219.8 L990.4,220.0 L989.9,220.2 L989.3,220.6 L988.7,221.0 L988.0,221.6 L987.4,222.2 L986.7,222.9 L986.1,223.8 L985.4,224.7 L984.8,225.6 L984.2,226.7 L983.6,227.8 L983.1,228.9 L982.6,230.1 L982.1,231.3 L981.8,232.6 L981.4,233.8 L981.2,235.1 L981.0,236.3 L981.0,237.6 L981.0,238.8 L981.1,240.0 L981.2,241.1 L981.5,242.2 L981.8,243.3 L982.3,244.3 L982.8,245.2 L983.4,246.0 L984.1,246.7 L984.9,247.4 L985.7,247.9 L986.6,248.4 L987.6,248.7 L988.6,249.0 L989.7,249.1 L990.8,249.2 L991.9,249.2 L993.1,249.0 L994.2,248.8 L995.4,248.5 L996.6,248.0 L997.8,247.6 L999.0,247.0 L1000.1,246.4 L1001.2,245.7 L1002.3,244.9 L1003.3,244.2 L1004.2,243.4 L1005.1,242.5 L1006.0,241.7 L1006.7,240.8 L1007.4,240.0 L1008.0,239.1 L1008.5,238.3 L1009.0,237.5 L1009.3,236.8 L1009.6,236.1 L1009.7,235.5 L1009.8,234.9 L1009.8,234.4 L1009.7,234.0 L1009.6,233.7 L1009.3,233.5 L1009.0,233.3 L1008.7,233.3 L1008.2,233.3 L1007.7,233.5 L1007.2,233.8 L1006.6,234.1 L1006.0,234.6 L1005.4,235.1 L1004.7,235.8 L1004.0,236.5 L1003.4,237.3 L1002.7,238.2 L1002.1,239.2 L1001.5,240.3 L1000.9,241.3 L1000.4,242.5 L999.9,243.7 L999.5,244.9 L999.1,246.2 L998.8,247.4 L998.6,248.7 L998.4,249.9 L998.3,251.2 L998.3,252.4 L998.4,253.6 L998.6,254.7 L998.9,255.8 L999.2,256.9 L999.7,257.8 L1000.2,258.7 L1000.8,259.5 L1001.5,260.3 L1002.3,260.9 L1003.1,261.5 L1004.0,261.9 L1005.0,262.3 L1006.0,262.5 L1007.1,262.7 L1008.2,262.7 L1009.3,262.7" fill="none" stroke="#a6cda0" stroke-width="9.3" opacity="0.5599999999999999" stroke-linecap="round"/>
<path d="M950.0,220.3 L950.8,220.8 L951.7,221.3 L952.7,221.7 L953.7,221.9 L954.8,222.1 L955.9,222.2 L957.0,222.2 L958.2,222.0 L959.3,221.8 L960.5,221.5 L961.7,221.1 L962.9,220.6 L964.0,220.1 L965.2,219.5 L966.3,218.8 L967.4,218.0 L968.4,217.3 L969.4,216.5 L970.3,215.6 L971.1,214.8 L971.9,213.9 L972.6,213.1 L973.2,212.2 L973.7,211.4 L974.2,210.6 L974.5,209.9 L974.8,209.2 L975.0,208.6 L975.1,208.0 L975.1,207.5 L975.0,207.1 L974.9,206.7 L974.7,206.5 L974.4,206.3 L974.0,206.3 L973.6,206.3 L973.1,206.5 L972.5,206.7 L972.0,207.0 L971.4,207.5 L970.7,208.0 L970.1,208.7 L969.4,209.4 L968.7,210.2 L968.1,211.1 L967.5,212.0 L966.8,213.1 L966.3,214.2 L965.7,215.3 L965.2,216.5 L964.8,217.7 L964.4,219.0 L964.1,220.2 L963.9,221.5 L963.7,222.7 L963.6,224.0 L963.6,225.2 L963.7,226.4 L963.8,227.6 L964.1,228.7 L964.5,229.7 L964.9,230.7 L965.4,231.6 L966.0,232.4 L966.7,233.2 L967.4,233.8 L968.3,234.4 L969.2,234.8 L970.1,235.2 L971.1,235.5 L972.2,235.6 L973.3,235.7 L974.4,235.7 L975.6,235.5 L976.8,235.3 L978.0,235.0 L979.2,234.6 L980.3,234.1 L981.5,233.5 L982.6,232.9 L983.7,232.2 L984.8,231.5 L985.8,230.7 L986.8,229.9 L987.7,229.1 L988.5,228.2 L989.3,227.4 L990.0,226.5 L990.6,225.7 L991.1,224.9 L991.6,224.1 L991.9,223.3 L992.2,222.7 L992.4,222.0 L992.5,221.5 L992.5,221.0 L992.4,220.5 L992.2,220.2 L992.0,220.0 L991.7,219.8 L991.3,219.8 L990.9,219.8 L990.4,220.0 L989.9,220.2 L989.3,220.6 L988.7,221.0 L988.0,221.6 L987.4,222.2 L986.7,222.9 L986.1,223.8 L985.4,224.7 L984.8,225.6 L984.2,226.7 L983.6,227.8 L983.1,228.9 L982.6,230.1 L982.1,231.3 L981.8,232.6 L981.4,233.8 L981.2,235.1 L981.0,236.3 L981.0,237.6 L981.0,238.8 L981.1,240.0 L981.2,241.1 L981.5,242.2 L981.8,243.3 L982.3,244.3 L982.8,245.2 L983.4,246.0 L984.1,246.7 L984.9,247.4 L985.7,247.9 L986.6,248.4 L987.6,248.7 L988.6,249.0 L989.7,249.1 L990.8,249.2 L991.9,249.2 L993.1,249.0 L994.2,248.8 L995.4,248.5 L996.6,248.0 L997.8,247.6 L999.0,247.0 L1000.1,246.4 L1001.2,245.7 L1002.3,244.9 L1003.3,244.2 L1004.2,243.4 L1005.1,242.5 L1006.0,241.7 L1006.7,240.8 L1007.4,240.0 L1008.0,239.1 L1008.5,238.3 L1009.0,237.5 L1009.3,236.8 L1009.6,236.1 L1009.7,235.5 L1009.8,234.9 L1009.8,234.4 L1009.7,234.0 L1009.6,233.7 L1009.3,233.5 L1009.0,233.3 L1008.7,233.3 L1008.2,233.3 L1007.7,233.5 L1007.2,233.8 L1006.6,234.1 L1006.0,234.6 L1005.4,235.1 L1004.7,235.8 L1004.0,236.5 L1003.4,237.3 L1002.7,238.2 L1002.1,239.2 L1001.5,240.3 L1000.9,241.3 L1000.4,242.5 L999.9,243.7 L999.5,244.9 L999.1,246.2 L998.8,247.4 L998.6,248.7 L998.4,249.9 L998.3,251.2 L998.3,252.4 L998.4,253.6 L998.6,254.7 L998.9,255.8 L999.2,256.9 L999.7,257.8 L1000.2,258.7 L1000.8,259.5 L1001.5,260.3 L1002.3,260.9 L1003.1,261.5 L1004.0,261.9 L1005.0,262.3 L1006.0,262.5 L1007.1,262.7 L1008.2,262.7 L1009.3,262.7" fill="none" stroke="#bfdcb9" stroke-width="7.5" opacity="0.8" stroke-linecap="round"/>
<path d="M916.6,113.3 L917.1,114.3 L917.5,115.1 L918.1,116.0 L918.7,116.8 L919.4,117.5 L920.1,118.2 L920.9,118.8 L921.8,119.4 L922.6,119.9 L923.5,120.3 L924.5,120.7 L925.4,121.0 L926.4,121.3 L927.3,121.4 L928.3,121.6 L929.2,121.6 L930.2,121.6 L931.0,121.5 L931.9,121.4 L932.7,121.2 L933.5,121.0 L934.2,120.7 L934.9,120.4 L935.5,120.1 L936.0,119.8 L936.4,119.4 L936.8,119.0 L937.1,118.6 L937.3,118.2 L937.5,117.9 L937.5,117.5 L937.5,117.2 L937.4,116.8 L937.3,116.5 L937.0,116.3 L936.7,116.1 L936.3,115.9 L935.9,115.8 L935.4,115.7 L934.8,115.7 L934.2,115.8 L933.6,115.9 L933.0,116.1 L932.3,116.4 L931.6,116.7 L930.9,117.1 L930.1,117.5 L929.4,118.0 L928.8,118.6 L928.1,119.3 L927.4,120.0 L926.8,120.7 L926.3,121.5 L925.8,122.3 L925.3,123.2 L924.9,124.2 L924.6,125.1 L924.3,126.1 L924.1,127.1 L924.0,128.1 L923.9,129.1 L924.0,130.1 L924.1,131.1 L924.3,132.1 L924.5,133.0 L924.9,134.0 L925.3,134.9 L925.8,135.8 L926.4,136.6 L927.0,137.4 L927.7,138.1 L928.5,138.8 L929.3,139.4 L930.1,139.9 L931.0,140.4 L931.9,140.9 L932.9,141.2 L933.8,141.5 L934.8,141.7 L935.7,141.9 L936.7,142.0 L937.6,142.0 L938.5,142.0 L939.4,141.9 L940.3,141.8 L941.1,141.6 L941.8,141.4 L942.5,141.1 L943.2,140.8 L943.8,140.5 L944.3,140.1 L944.7,139.7 L945.1,139.4 L945.3,139.0 L945.5,138.6 L945.7,138.2 L945.7,137.8 L945.7,137.5 L945.6,137.2 L945.4,136.9 L945.1,136.7 L944.8,136.5 L944.4,136.3 L943.9,136.2 L943.4,136.2 L942.9,136.2 L942.3,136.2 L941.6,136.4 L941.0,136.6 L940.3,136.9 L939.6,137.2 L938.9,137.6 L938.2,138.1 L937.5,138.6 L936.8,139.2 L936.1,139.8 L935.5,140.5 L934.9,141.3 L934.3,142.1 L933.8,143.0 L933.4,143.9 L933.0,144.8 L932.7,145.8 L932.4,146.7 L932.2,147.7 L932.1,148.7 L932.1,149.7 L932.2,150.7 L932.3,151.7 L932.5,152.7 L932.8,153.7 L933.2,154.6 L933.6,155.5 L934.1,156.4 L934.7,157.2 L935.4,158.0 L936.1,158.7 L936.8,159.3 L937.6,159.9 L938.5,160.5 L939.4,161.0 L940.3,161.4 L941.2,161.7 L942.2,162.0 L943.2,162.2 L944.1,162.4 L945.1,162.4 L946.0,162.5 L946.9,162.4 L947.8,162.3 L948.6,162.2 L949.4,162.0 L950.2,161.7 L950.9,161.5 L951.5,161.2 L952.0,160.8 L952.5,160.5 L953.0,160.1 L953.3,159.7 L953.6,159.3 L953.7,158.9" fill="none" stroke="#a6cda0" stroke-width="9.3" opacity="0.5599999999999999" stroke-linecap="round"/>
<path d="M916.6,113.3 L917.1,114.3 L917.5,115.1 L918.1,116.0 L918.7,116.8 L919.4,117.5 L920.1,118.2 L920.9,118.8 L921.8,119.4 L922.6,119.9 L923.5,120.3 L924.5,120.7 L925.4,121.0 L926.4,121.3 L927.3,121.4 L928.3,121.6 L929.2,121.6 L930.2,121.6 L931.0,121.5 L931.9,121.4 L932.7,121.2 L933.5,121.0 L934.2,120.7 L934.9,120.4 L935.5,120.1 L936.0,119.8 L936.4,119.4 L936.8,119.0 L937.1,118.6 L937.3,118.2 L937.5,117.9 L937.5,117.5 L937.5,117.2 L937.4,116.8 L937.3,116.5 L937.0,116.3 L936.7,116.1 L936.3,115.9 L935.9,115.8 L935.4,115.7 L934.8,115.7 L934.2,115.8 L933.6,115.9 L933.0,116.1 L932.3,116.4 L931.6,116.7 L930.9,117.1 L930.1,117.5 L929.4,118.0 L928.8,118.6 L928.1,119.3 L927.4,120.0 L926.8,120.7 L926.3,121.5 L925.8,122.3 L925.3,123.2 L924.9,124.2 L924.6,125.1 L924.3,126.1 L924.1,127.1 L924.0,128.1 L923.9,129.1 L924.0,130.1 L924.1,131.1 L924.3,132.1 L924.5,133.0 L924.9,134.0 L925.3,134.9 L925.8,135.8 L926.4,136.6 L927.0,137.4 L927.7,138.1 L928.5,138.8 L929.3,139.4 L930.1,139.9 L931.0,140.4 L931.9,140.9 L932.9,141.2 L933.8,141.5 L934.8,141.7 L935.7,141.9 L936.7,142.0 L937.6,142.0 L938.5,142.0 L939.4,141.9 L940.3,141.8 L941.1,141.6 L941.8,141.4 L942.5,141.1 L943.2,140.8 L943.8,140.5 L944.3,140.1 L944.7,139.7 L945.1,139.4 L945.3,139.0 L945.5,138.6 L945.7,138.2 L945.7,137.8 L945.7,137.5 L945.6,137.2 L945.4,136.9 L945.1,136.7 L944.8,136.5 L944.4,136.3 L943.9,136.2 L943.4,136.2 L942.9,136.2 L942.3,136.2 L941.6,136.4 L941.0,136.6 L940.3,136.9 L939.6,137.2 L938.9,137.6 L938.2,138.1 L937.5,138.6 L936.8,139.2 L936.1,139.8 L935.5,140.5 L934.9,141.3 L934.3,142.1 L933.8,143.0 L933.4,143.9 L933.0,144.8 L932.7,145.8 L932.4,146.7 L932.2,147.7 L932.1,148.7 L932.1,149.7 L932.2,150.7 L932.3,151.7 L932.5,152.7 L932.8,153.7 L933.2,154.6 L933.6,155.5 L934.1,156.4 L934.7,157.2 L935.4,158.0 L936.1,158.7 L936.8,159.3 L937.6,159.9 L938.5,160.5 L939.4,161.0 L940.3,161.4 L941.2,161.7 L942.2,162.0 L943.2,162.2 L944.1,162.4 L945.1,162.4 L946.0,162.5 L946.9,162.4 L947.8,162.3 L948.6,162.2 L949.4,162.0 L950.2,161.7 L950.9,161.5 L951.5,161.2 L952.0,160.8 L952.5,160.5 L953.0,160.1 L953.3,159.7 L953.6,159.3 L953.7,158.9" fill="none" stroke="#bfdcb9" stroke-width="7.5" opacity="0.8" stroke-linecap="round"/>
</g>
<path d="M862.2,63.1 L868.3,78.3 L864.3,86.4 L868.7,108.6 L864.3,118.3 M868.3,78.3 L876.8,75.8 L881,83 M868.7,108.6 L881.9,101.5" fill="none" stroke="#2a8a30" stroke-width="3.6" stroke-linecap="round" stroke-linejoin="round"/>
<path d="M876.8,75.8 L893,95.5 L908.2,89.4 M893,95.5 L893,109.6 L905.2,124.8" fill="none" stroke="#3da43f" stroke-width="3.6" stroke-linecap="round" stroke-linejoin="round"/>
<path d="M905.2,124.8 L915.3,135 M923.4,139 L933.5,134 M923.4,139 L927.5,146 M911.3,161.3 L899.1,153.2 M911.3,161.3 L923.4,163.3 M911.3,161.3 L905.2,178.5" fill="none" stroke="#e0504a" stroke-width="3.4" stroke-linecap="round"/>
<path d="M915.3,135 L923.4,139 L917.3,153.2 L911.3,161.3" fill="none" stroke="#e08a20" stroke-width="3.4" stroke-linecap="round" stroke-linejoin="round"/>
<circle cx="923.4" cy="139" r="2.2" fill="#a0501a"/><circle cx="911.3" cy="161.3" r="2.2" fill="#a0501a"/>
<path d="M954.8,101.5 L964.9,112.7 L956.8,126.9 L964.9,134 L958.8,148.1 L949.7,147.1" fill="none" stroke="#4cb03c" stroke-width="1.8" stroke-linejoin="round"/>
<path d="M949.7,147.1 L943.7,147.1" fill="none" stroke="#3050c0" stroke-width="1.8"/>
<path d="M882.9,264.6 L863.7,248.4 L870.8,234.2 L870.8,226 L878.9,214 M870.8,226 L861.6,225" fill="none" stroke="#4cb03c" stroke-width="1.8" stroke-linejoin="round"/>
<path d="M870.8,234.2 L870.8,226 M874.5,220 L878.9,214 M866,225 L861.6,225" fill="none" stroke="#3050c0" stroke-width="1.8"/>
<path d="M877.8,140 L882,141 L878,145 L884,147" fill="none" stroke="#3aa040" stroke-width="1.5"/>
<path d="M879.9,208.9 L905.2,178.5 M923.4,163.3 L943.7,148.1 M933.5,135 L943.7,147.1" fill="none" stroke="#b050c0" stroke-width="1.3" stroke-dasharray="2.5 2"/>
<path d="M884,147 L899.1,153.2" fill="none" stroke="#c8c850" stroke-width="1.3" stroke-dasharray="2.5 2"/>
<rect x="806" y="58.6" width="217" height="209" fill="none" stroke="#222" stroke-width="3" stroke-dasharray="8 6"/>
<text x="936" y="93.6" font-size="29.7" fill="#111" text-anchor="start" font-weight="normal" textLength="68" lengthAdjust="spacingAndGlyphs" stroke="#111" stroke-width="0.35" >K581</text>
<text x="828" y="175.8" font-size="32.9" fill="#c8403a" text-anchor="start" font-weight="normal" textLength="61" lengthAdjust="spacingAndGlyphs" stroke="#c8403a" stroke-width="0.35" >FPP</text>
<text x="898" y="253" font-size="29.7" fill="#111" text-anchor="start" font-weight="normal" textLength="70.6" lengthAdjust="spacingAndGlyphs" stroke="#111" stroke-width="0.35" >R416</text>
<defs><pattern id="pt1" width="12" height="12" patternUnits="userSpaceOnUse"><rect x="1.5" y="1.5" width="9" height="9" rx="3" fill="none" stroke="#e8e8e8" stroke-width="1.2"/><circle cx="6" cy="6" r="1.6" fill="#e8e8e8"/></pattern><pattern id="pt2" width="12" height="12" patternUnits="userSpaceOnUse"><rect x="1.5" y="1.5" width="9" height="9" rx="3" fill="none" stroke="#eadad4" stroke-width="1.2"/><circle cx="6" cy="6" r="1.6" fill="#eadad4"/></pattern><pattern id="pt3" width="12" height="12" patternUnits="userSpaceOnUse"><rect x="1.5" y="1.5" width="9" height="9" rx="3" fill="none" stroke="#eba5a3" stroke-width="1.2"/><circle cx="6" cy="6" r="1.6" fill="#eba5a3"/></pattern></defs>
<rect x="24.1" y="911" width="311" height="235" fill="#e8e8e8"/>
<linearGradient id="egpt1" gradientUnits="userSpaceOnUse" x1="0" y1="944" x2="0" y2="1021"><stop offset="0" stop-color="#cdcdcd"/><stop offset="0.18" stop-color="#d6d6d6"/><stop offset="1" stop-color="#d6d6d6"/></linearGradient>
<path d="M24.1,944 H335.1 V1021 C314.1,1021 286.1,1003 256.1,1003 C229.1,1003 209.1,1021 184.1,1021 C159.1,1021 139.1,1003 108.1,1003 C79.1,1003 54.1,1021 24.1,1021 Z" fill="url(#egpt1)"/>
<path d="M24.1,944 H335.1 V1021 C314.1,1021 286.1,1003 256.1,1003 C229.1,1003 209.1,1021 184.1,1021 C159.1,1021 139.1,1003 108.1,1003 C79.1,1003 54.1,1021 24.1,1021 Z" fill="url(#pt1)" opacity="0.14"/>
<path d="M24.1,1021 C54.1,1021 79.1,1003 108.1,1003 C139.1,1003 159.1,1021 184.1,1021 C209.1,1021 229.1,1003 256.1,1003 C286.1,1003 314.1,1021 335.1,1021" fill="none" stroke="#c6c6c6" stroke-width="4"/>
<path d="M24.1,916 C84.1,912 144.1,915 204.1,913 C264.1,911 304.1,914 335.1,914 V945 H24.1 Z" fill="#e2e2e2"/>
<path d="M24.1,916 C94.1,913.5 174.1,918 244.1,914.5 S304.1,917 335.1,915" fill="none" stroke="#f6f6f6" stroke-width="1.5" opacity="0.5"/>
<path d="M24.1,919.5 C94.1,917.0 174.1,921.5 244.1,918.0 S304.1,920.5 335.1,918.5" fill="none" stroke="#f6f6f6" stroke-width="0.9" opacity="0.5"/>
<path d="M24.1,923 C94.1,920.5 174.1,925 244.1,921.5 S304.1,924 335.1,922" fill="none" stroke="#f6f6f6" stroke-width="1.5" opacity="0.5"/>
<path d="M24.1,927 C94.1,924.5 174.1,929 244.1,925.5 S304.1,928 335.1,926" fill="none" stroke="#f6f6f6" stroke-width="0.9" opacity="0.5"/>
<path d="M24.1,931 C94.1,928.5 174.1,933 244.1,929.5 S304.1,932 335.1,930" fill="none" stroke="#f6f6f6" stroke-width="1.5" opacity="0.5"/>
<path d="M24.1,935 C94.1,932.5 174.1,937 244.1,933.5 S304.1,936 335.1,934" fill="none" stroke="#f6f6f6" stroke-width="0.9" opacity="0.5"/>
<path d="M24.1,939 C94.1,936.5 174.1,941 244.1,937.5 S304.1,940 335.1,938" fill="none" stroke="#f6f6f6" stroke-width="1.5" opacity="0.5"/>
<rect x="356.5" y="907" width="323" height="247" fill="#f3d2cb" filter="url(#blur8)"/>
<rect x="362.5" y="911" width="311" height="237" fill="#e9d9d3"/>
<linearGradient id="egpt2" gradientUnits="userSpaceOnUse" x1="0" y1="944" x2="0" y2="1021"><stop offset="0" stop-color="#d2b6ad"/><stop offset="0.18" stop-color="#dbc3bb"/><stop offset="1" stop-color="#dbc3bb"/></linearGradient>
<path d="M362.5,944 H673.5 V1021 C652.5,1021 624.5,1003 594.5,1003 C567.5,1003 547.5,1021 522.5,1021 C497.5,1021 477.5,1003 446.5,1003 C417.5,1003 392.5,1021 362.5,1021 Z" fill="url(#egpt2)"/>
<path d="M362.5,944 H673.5 V1021 C652.5,1021 624.5,1003 594.5,1003 C567.5,1003 547.5,1021 522.5,1021 C497.5,1021 477.5,1003 446.5,1003 C417.5,1003 392.5,1021 362.5,1021 Z" fill="url(#pt2)" opacity="0.14"/>
<path d="M362.5,1021 C392.5,1021 417.5,1003 446.5,1003 C477.5,1003 497.5,1021 522.5,1021 C547.5,1021 567.5,1003 594.5,1003 C624.5,1003 652.5,1021 673.5,1021" fill="none" stroke="#c7a59b" stroke-width="4"/>
<path d="M362.5,916 C422.5,912 482.5,915 542.5,913 C602.5,911 642.5,914 673.5,914 V945 H362.5 Z" fill="#e3cfc9"/>
<path d="M362.5,916 C432.5,913.5 512.5,918 582.5,914.5 S642.5,917 673.5,915" fill="none" stroke="#f3e8e4" stroke-width="1.5" opacity="0.5"/>
<path d="M362.5,919.5 C432.5,917.0 512.5,921.5 582.5,918.0 S642.5,920.5 673.5,918.5" fill="none" stroke="#f3e8e4" stroke-width="0.9" opacity="0.5"/>
<path d="M362.5,923 C432.5,920.5 512.5,925 582.5,921.5 S642.5,924 673.5,922" fill="none" stroke="#f3e8e4" stroke-width="1.5" opacity="0.5"/>
<path d="M362.5,927 C432.5,924.5 512.5,929 582.5,925.5 S642.5,928 673.5,926" fill="none" stroke="#f3e8e4" stroke-width="0.9" opacity="0.5"/>
<path d="M362.5,931 C432.5,928.5 512.5,933 582.5,929.5 S642.5,932 673.5,930" fill="none" stroke="#f3e8e4" stroke-width="1.5" opacity="0.5"/>
<path d="M362.5,935 C432.5,932.5 512.5,937 582.5,933.5 S642.5,936 673.5,934" fill="none" stroke="#f3e8e4" stroke-width="0.9" opacity="0.5"/>
<path d="M362.5,939 C432.5,936.5 512.5,941 582.5,937.5 S642.5,940 673.5,938" fill="none" stroke="#f3e8e4" stroke-width="1.5" opacity="0.5"/>
<rect x="701.7" y="911" width="311" height="235" fill="#e7b4b2"/>
<linearGradient id="egpt3" gradientUnits="userSpaceOnUse" x1="0" y1="944" x2="0" y2="1021"><stop offset="0" stop-color="#d07070"/><stop offset="0.18" stop-color="#da8c8a"/><stop offset="1" stop-color="#da8c8a"/></linearGradient>
<path d="M701.7,944 H1012.7 V1021 C991.7,1021 963.7,1003 933.7,1003 C906.7,1003 886.7,1021 861.7,1021 C836.7,1021 816.7,1003 785.7,1003 C756.7,1003 731.7,1021 701.7,1021 Z" fill="url(#egpt3)"/>
<path d="M701.7,944 H1012.7 V1021 C991.7,1021 963.7,1003 933.7,1003 C906.7,1003 886.7,1021 861.7,1021 C836.7,1021 816.7,1003 785.7,1003 C756.7,1003 731.7,1021 701.7,1021 Z" fill="url(#pt3)" opacity="0.14"/>
<path d="M701.7,1021 C731.7,1021 756.7,1003 785.7,1003 C816.7,1003 836.7,1021 861.7,1021 C886.7,1021 906.7,1003 933.7,1003 C963.7,1003 991.7,1021 1012.7,1021" fill="none" stroke="#c45858" stroke-width="4"/>
<path d="M701.7,916 C761.7,912 821.7,915 881.7,913 C941.7,911 981.7,914 1012.7,914 V945 H701.7 Z" fill="#e6b1af"/>
<path d="M701.7,916 C771.7,913.5 851.7,918 921.7,914.5 S981.7,917 1012.7,915" fill="none" stroke="#f6dad9" stroke-width="1.5" opacity="0.5"/>
<path d="M701.7,919.5 C771.7,917.0 851.7,921.5 921.7,918.0 S981.7,920.5 1012.7,918.5" fill="none" stroke="#f6dad9" stroke-width="0.9" opacity="0.5"/>
<path d="M701.7,923 C771.7,920.5 851.7,925 921.7,921.5 S981.7,924 1012.7,922" fill="none" stroke="#f6dad9" stroke-width="1.5" opacity="0.5"/>
<path d="M701.7,927 C771.7,924.5 851.7,929 921.7,925.5 S981.7,928 1012.7,926" fill="none" stroke="#f6dad9" stroke-width="0.9" opacity="0.5"/>
<path d="M701.7,931 C771.7,928.5 851.7,933 921.7,929.5 S981.7,932 1012.7,930" fill="none" stroke="#f6dad9" stroke-width="1.5" opacity="0.5"/>
<path d="M701.7,935 C771.7,932.5 851.7,937 921.7,933.5 S981.7,936 1012.7,934" fill="none" stroke="#f6dad9" stroke-width="0.9" opacity="0.5"/>
<path d="M701.7,939 C771.7,936.5 851.7,941 921.7,937.5 S981.7,940 1012.7,938" fill="none" stroke="#f6dad9" stroke-width="1.5" opacity="0.5"/>
<text x="187.2" y="907.9" font-size="26.5" fill="#111" text-anchor="middle" font-weight="normal" textLength="195" lengthAdjust="spacingAndGlyphs" stroke="#111" stroke-width="0.35" >Deficient TRPV3</text>
<text x="187.2" y="940.7" font-size="26.5" fill="#111" text-anchor="middle" font-weight="normal" textLength="92" lengthAdjust="spacingAndGlyphs" stroke="#111" stroke-width="0.35" >(Statin)</text>
<text x="508.5" y="907" font-size="26.5" fill="#111" text-anchor="middle" font-weight="normal" textLength="179" lengthAdjust="spacingAndGlyphs" stroke="#111" stroke-width="0.35" >Normal TRPV3</text>
<text x="508.5" y="940.7" font-size="26.5" fill="#111" text-anchor="middle" font-weight="normal" textLength="125" lengthAdjust="spacingAndGlyphs" stroke="#111" stroke-width="0.35" >(Infection)</text>
<text x="857" y="905" font-size="26.5" fill="#111" text-anchor="middle" font-weight="normal" textLength="233.6" lengthAdjust="spacingAndGlyphs" stroke="#111" stroke-width="0.35" >Hyperactive TRPV3</text>
<text x="857" y="938.6" font-size="26.5" fill="#111" text-anchor="middle" font-weight="normal" textLength="174.6" lengthAdjust="spacingAndGlyphs" stroke="#111" stroke-width="0.35" >(Autoimmune)</text>
<circle cx="111.6" cy="982.3" r="7.4" fill="url(#ydot)" stroke="#f6dca0" stroke-width="1"/>
<circle cx="254.3" cy="990.5" r="9.2" fill="url(#rdot)" stroke="#f8a0a0" stroke-width="1"/>
<text x="29.8" y="997.8" font-size="20.7" fill="#111" text-anchor="start" font-weight="normal" textLength="61.4" lengthAdjust="spacingAndGlyphs" stroke="#111" stroke-width="0.35" >CCL20</text>
<text x="279.5" y="998" font-size="20.7" fill="#111" text-anchor="start" font-weight="normal" textLength="33.8" lengthAdjust="spacingAndGlyphs" stroke="#111" stroke-width="0.35" >IL-6</text>
<path d="M107.5,1117.7 L106.2,1121.7 L104.4,1125.3 L102.3,1128.6 L100.8,1130.9 L102.7,1135.2 L98.9,1132.5 L96.8,1134.5 L93.0,1136.6 L90.1,1137.4 L88.7,1142.0 L87.3,1137.4 L84.3,1136.8 L80.4,1134.8 L77.3,1132.0 L75.7,1129.6 L71.4,1131.5 L74.2,1127.7 L73.0,1125.3 L71.4,1121.6 L70.3,1117.7 L69.7,1114.7 L65.6,1112.4 L70.3,1112.1 L70.9,1109.1 L72.4,1106.5 L69.7,1102.6 L74.2,1104.3 L75.7,1103.5 L73.9,1099.1 L77.8,1101.8 L79.5,1101.6 L78.7,1097.0 L81.9,1100.5 L83.5,1100.7 L83.7,1096.0 L86.0,1100.1 L88.7,1100.3 L92.6,1100.6 L96.6,1101.3 L100.5,1102.9 L104.0,1105.5 L106.5,1109.1 L107.7,1113.4Z" fill="#b4b5e5" stroke="#9c9dd8" stroke-width="1" stroke-linejoin="round"/>
<ellipse cx="85.2" cy="1113.2" rx="9.5" ry="11.5" transform="rotate(40 85.2 1113.2)" fill="#9595ca"/>
<path d="M130.7,998.0 L93.7,1078.9" fill="none" stroke="#222" stroke-width="3.5"/>
<path d="M88.7,1089.8 L88.1,1073.0 L101.8,1079.3 Z" fill="#222"/>
<text x="114.3" y="1103" font-size="20.7" fill="#111" text-anchor="start" font-weight="normal" textLength="91" lengthAdjust="spacingAndGlyphs" stroke="#111" stroke-width="0.35" >immature</text>
<text x="114.3" y="1128.5" font-size="20.7" fill="#111" text-anchor="start" font-weight="normal" textLength="98" lengthAdjust="spacingAndGlyphs" stroke="#111" stroke-width="0.35" >CCR6+ DC</text>
<circle cx="448.9" cy="970.4" r="7.4" fill="url(#ydot)" stroke="#f6dca0" stroke-width="1"/>
<circle cx="473.2" cy="961" r="7.4" fill="url(#ydot)" stroke="#f6dca0" stroke-width="1"/>
<circle cx="466.4" cy="982.3" r="7.4" fill="url(#ydot)" stroke="#f6dca0" stroke-width="1"/>
<circle cx="603.8" cy="965" r="9.2" fill="url(#rdot)" stroke="#f8a0a0" stroke-width="1"/>
<circle cx="619" cy="979.6" r="9.2" fill="url(#rdot)" stroke="#f8a0a0" stroke-width="1"/>
<circle cx="589" cy="987.3" r="9.2" fill="url(#rdot)" stroke="#f8a0a0" stroke-width="1"/>
<text x="373.6" y="1003.9" font-size="20.7" fill="#111" text-anchor="start" font-weight="normal" textLength="61.4" lengthAdjust="spacingAndGlyphs" stroke="#111" stroke-width="0.35" >CCL20</text>
<text x="624" y="1005" font-size="20.7" fill="#111" text-anchor="start" font-weight="normal" textLength="33.8" lengthAdjust="spacingAndGlyphs" stroke="#111" stroke-width="0.35" >IL-6</text>
<path d="M411.3,1072.8 L415.8,1074.0 L411.3,1075.2 L411.4,1078.0 L410.7,1082.1 L409.1,1086.1 L406.2,1089.5 L402.4,1091.7 L398.1,1092.6 L393.9,1092.3 L391.2,1091.4 L389.0,1095.6 L388.8,1090.9 L386.3,1089.7 L382.9,1087.8 L380.3,1086.5 L376.0,1088.3 L378.7,1084.4 L376.6,1082.3 L374.7,1078.4 L374.1,1074.0 L375.1,1069.7 L376.7,1067.1 L373.2,1064.0 L377.8,1064.8 L380.0,1062.9 L383.0,1060.4 L385.2,1058.8 L384.3,1054.1 L387.4,1057.7 L388.6,1056.6 L388.9,1051.9 L391.1,1056.1 L393.9,1055.1 L396.9,1054.6 L399.3,1050.5 L399.6,1055.3 L401.2,1055.6 L404.4,1052.1 L403.7,1056.8 L406.1,1058.8 L408.6,1062.3 L410.1,1066.2 L410.9,1070.1Z" fill="#b4b5e5" stroke="#9c9dd8" stroke-width="1" stroke-linejoin="round"/>
<ellipse cx="390.4" cy="1069.5" rx="9.5" ry="11.5" transform="rotate(40 390.4 1069.5)" fill="#9595ca"/>
<path d="M499.4,1050.4 L499.5,1053.4 L503.7,1055.8 L498.9,1056.1 L498.3,1057.7 L501.8,1060.9 L497.1,1060.1 L495.7,1061.2 L498.4,1065.1 L494.0,1063.3 L492.4,1063.9 L494.2,1068.2 L490.4,1065.5 L487.6,1066.3 L483.9,1067.4 L480.0,1068.1 L475.9,1068.3 L471.7,1067.7 L468.8,1066.6 L464.9,1069.3 L466.7,1064.9 L464.6,1062.7 L463.2,1060.0 L458.6,1060.7 L462.1,1057.5 L461.9,1054.5 L462.2,1050.4 L463.0,1046.5 L464.2,1042.8 L465.1,1040.1 L462.3,1036.3 L466.7,1038.1 L468.2,1035.6 L471.5,1032.8 L474.3,1031.5 L474.6,1026.7 L477.0,1030.8 L480.0,1030.9 L484.2,1032.1 L487.8,1034.2 L490.9,1036.7 L493.6,1039.5 L496.1,1042.6 L498.2,1046.2Z" fill="#b4b5e5" stroke="#9c9dd8" stroke-width="1" stroke-linejoin="round"/>
<ellipse cx="476.5" cy="1045.9" rx="9.5" ry="11.5" transform="rotate(40 476.5 1045.9)" fill="#9595ca"/>
<path d="M443.2,1116.7 L447.8,1118.0 L443.2,1119.3 L442.0,1122.1 L440.1,1125.7 L437.8,1128.8 L436.2,1131.0 L438.0,1135.3 L434.2,1132.6 L433.3,1133.9 L434.1,1138.6 L431.0,1135.1 L428.5,1136.7 L424.2,1137.7 L421.2,1137.5 L418.8,1141.7 L418.5,1136.9 L415.8,1135.4 L412.6,1132.5 L411.1,1130.1 L406.7,1131.9 L409.5,1128.1 L408.5,1125.6 L407.1,1121.9 L406.1,1119.3 L401.6,1118.0 L406.1,1116.7 L405.8,1113.8 L406.6,1109.5 L408.7,1105.7 L412.0,1102.7 L414.9,1101.6 L414.1,1097.0 L417.2,1100.5 L420.2,1100.4 L423.0,1100.5 L424.2,1096.0 L425.4,1100.5 L428.1,1101.0 L432.0,1101.9 L435.8,1103.4 L439.3,1105.9 L442.0,1109.4 L443.4,1113.6Z" fill="#b4b5e5" stroke="#9c9dd8" stroke-width="1" stroke-linejoin="round"/>
<ellipse cx="420.7" cy="1113.5" rx="9.5" ry="11.5" transform="rotate(40 420.7 1113.5)" fill="#9595ca"/>
<path d="M474.9,1004.2 L431.8,1082.1" fill="none" stroke="#222" stroke-width="3.5"/>
<path d="M426.0,1092.6 L426.7,1075.8 L439.8,1083.1 Z" fill="#222"/>
<text x="451.2" y="1102.7" font-size="20.7" fill="#111" text-anchor="start" font-weight="normal" textLength="91" lengthAdjust="spacingAndGlyphs" stroke="#111" stroke-width="0.35" >immature</text>
<text x="451.2" y="1128.7" font-size="20.7" fill="#111" text-anchor="start" font-weight="normal" textLength="98" lengthAdjust="spacingAndGlyphs" stroke="#111" stroke-width="0.35" >CCR6+ DC</text>
<circle cx="796.4" cy="969.7" r="7.4" fill="url(#ydot)" stroke="#f6dca0" stroke-width="1"/>
<circle cx="824.5" cy="964.3" r="7.4" fill="url(#ydot)" stroke="#f6dca0" stroke-width="1"/>
<circle cx="811.2" cy="983.7" r="7.4" fill="url(#ydot)" stroke="#f6dca0" stroke-width="1"/>
<circle cx="840" cy="982" r="7.4" fill="url(#ydot)" stroke="#f6dca0" stroke-width="1"/>
<circle cx="824.9" cy="1000.5" r="7.4" fill="url(#ydot)" stroke="#f6dca0" stroke-width="1"/>
<circle cx="953.7" cy="955.3" r="9.2" fill="url(#rdot)" stroke="#f8a0a0" stroke-width="1"/>
<circle cx="931" cy="967.7" r="9.2" fill="url(#rdot)" stroke="#f8a0a0" stroke-width="1"/>
<circle cx="975.5" cy="965.3" r="9.2" fill="url(#rdot)" stroke="#f8a0a0" stroke-width="1"/>
<circle cx="909.2" cy="979.7" r="9.2" fill="url(#rdot)" stroke="#f8a0a0" stroke-width="1"/>
<circle cx="931" cy="990.4" r="9.2" fill="url(#rdot)" stroke="#f8a0a0" stroke-width="1"/>
<text x="706" y="998.8" font-size="20.7" fill="#111" text-anchor="start" font-weight="normal" textLength="61.4" lengthAdjust="spacingAndGlyphs" stroke="#111" stroke-width="0.35" >CCL20</text>
<text x="956" y="998.8" font-size="20.7" fill="#111" text-anchor="start" font-weight="normal" textLength="33.8" lengthAdjust="spacingAndGlyphs" stroke="#111" stroke-width="0.35" >IL-6</text>
<path d="M740.9,1060.7 L740.7,1064.6 L740.0,1068.7 L738.5,1072.6 L735.8,1076.1 L732.1,1078.5 L729.1,1079.2 L728.8,1083.9 L726.5,1079.8 L723.5,1079.3 L719.5,1078.1 L715.9,1076.4 L712.6,1074.4 L709.4,1072.0 L706.5,1068.9 L704.4,1065.0 L703.7,1062.1 L699.2,1060.7 L703.7,1059.3 L704.5,1056.4 L706.0,1053.7 L702.5,1050.6 L707.1,1051.3 L708.6,1050.4 L705.9,1046.6 L710.2,1048.5 L711.6,1047.8 L709.8,1043.5 L713.6,1046.3 L715.9,1045.0 L719.5,1043.3 L723.5,1042.1 L727.8,1041.8 L732.1,1042.9 L734.7,1044.5 L738.6,1041.8 L736.8,1046.2 L737.6,1047.8 L742.0,1046.0 L739.2,1049.9 L740.0,1052.7 L740.4,1055.6 L745.1,1055.8 L740.9,1058.0Z" fill="#b4b5e5" stroke="#9c9dd8" stroke-width="1" stroke-linejoin="round"/>
<ellipse cx="720.0" cy="1056.2" rx="9.5" ry="11.5" transform="rotate(40 720.0 1056.2)" fill="#9595ca"/>
<path d="M787.7,1035.6 L788.0,1039.8 L787.2,1044.0 L785.2,1047.9 L783.0,1050.0 L784.7,1054.5 L780.8,1051.8 L777.9,1052.7 L773.8,1053.4 L769.7,1053.2 L767.0,1052.8 L764.8,1057.0 L764.6,1052.3 L762.0,1051.6 L758.2,1050.0 L755.5,1048.6 L751.1,1050.4 L753.9,1046.5 L752.6,1045.4 L747.9,1046.1 L751.4,1042.9 L750.5,1040.0 L750.5,1035.6 L751.4,1032.8 L747.3,1030.5 L752.0,1030.2 L753.2,1029.0 L749.6,1025.9 L754.3,1026.8 L756.1,1024.7 L758.7,1021.9 L761.8,1019.2 L765.5,1017.1 L768.3,1016.0 L769.7,1011.5 L771.1,1016.0 L774.1,1016.3 L778.1,1018.1 L781.4,1020.9 L782.9,1023.4 L787.3,1021.6 L784.5,1025.4 L785.4,1028.0 L786.7,1031.7Z" fill="#b4b5e5" stroke="#9c9dd8" stroke-width="1" stroke-linejoin="round"/>
<ellipse cx="766.2" cy="1031.1" rx="9.5" ry="11.5" transform="rotate(40 766.2 1031.1)" fill="#9595ca"/>
<path d="M841.3,1055.7 L841.4,1060.1 L840.0,1064.3 L837.3,1067.8 L834.8,1069.4 L836.6,1073.8 L832.8,1071.0 L831.1,1071.2 L831.9,1075.9 L828.8,1072.3 L826.1,1072.7 L823.4,1073.2 L822.2,1077.7 L821.0,1073.2 L819.4,1073.5 L817.2,1077.7 L817.0,1073.0 L815.2,1073.2 L812.1,1076.7 L812.9,1072.1 L810.0,1071.0 L806.7,1068.0 L804.6,1064.2 L803.8,1059.9 L804.1,1055.7 L805.1,1051.8 L806.5,1048.1 L808.3,1044.6 L810.6,1041.2 L813.8,1038.3 L816.5,1036.8 L816.8,1032.0 L819.2,1036.2 L820.8,1036.1 L822.2,1031.5 L823.6,1036.1 L826.5,1037.0 L830.2,1039.2 L833.2,1041.9 L835.0,1043.9 L839.3,1042.0 L836.5,1045.8 L838.1,1048.0 L840.1,1051.6Z" fill="#b4b5e5" stroke="#9c9dd8" stroke-width="1" stroke-linejoin="round"/>
<ellipse cx="818.7" cy="1051.2" rx="9.5" ry="11.5" transform="rotate(40 818.7 1051.2)" fill="#9595ca"/>
<path d="M743.3,1116.0 L742.6,1120.4 L740.6,1124.3 L738.5,1126.3 L741.3,1130.2 L736.9,1128.3 L734.5,1129.8 L731.1,1131.7 L727.4,1133.3 L724.8,1134.4 L723.5,1138.9 L722.2,1134.4 L720.5,1135.0 L718.2,1139.1 L717.9,1134.4 L714.9,1133.8 L711.2,1131.4 L708.4,1128.0 L706.8,1124.0 L706.2,1120.0 L706.1,1116.0 L706.4,1112.1 L706.6,1109.3 L703.1,1106.2 L707.7,1107.0 L708.7,1104.2 L711.3,1100.7 L713.7,1098.8 L713.0,1094.1 L716.2,1097.6 L717.9,1097.4 L718.2,1092.6 L720.5,1096.8 L723.5,1097.2 L726.3,1098.2 L728.5,1094.1 L728.7,1098.8 L731.1,1100.3 L733.4,1101.6 L737.2,1098.8 L735.3,1103.1 L737.5,1104.8 L740.4,1107.9 L742.4,1111.7Z" fill="#b4b5e5" stroke="#9c9dd8" stroke-width="1" stroke-linejoin="round"/>
<ellipse cx="720.0" cy="1111.5" rx="9.5" ry="11.5" transform="rotate(40 720.0 1111.5)" fill="#9595ca"/>
<path d="M789.6,1114.6 L794.2,1116.0 L789.6,1117.4 L788.7,1118.9 L792.9,1121.1 L788.1,1121.4 L786.4,1123.8 L783.9,1126.9 L781.2,1129.7 L779.2,1131.7 L780.1,1136.3 L777.0,1132.8 L775.8,1134.0 L775.5,1138.7 L773.2,1134.6 L771.7,1135.5 L770.3,1140.0 L768.9,1135.5 L765.9,1135.3 L761.8,1133.6 L758.5,1130.8 L756.1,1127.3 L754.5,1123.6 L753.3,1119.9 L752.5,1116.0 L752.2,1111.9 L752.4,1108.9 L748.8,1105.7 L753.5,1106.4 L754.9,1103.7 L758.0,1100.6 L762.0,1098.7 L766.2,1098.1 L770.3,1098.3 L774.2,1099.0 L776.8,1099.6 L779.9,1096.1 L779.0,1100.7 L781.7,1101.7 L785.2,1104.1 L787.4,1106.3 L792.1,1105.5 L788.6,1108.7 L789.6,1111.6Z" fill="#b4b5e5" stroke="#9c9dd8" stroke-width="1" stroke-linejoin="round"/>
<ellipse cx="766.8" cy="1111.5" rx="9.5" ry="11.5" transform="rotate(40 766.8 1111.5)" fill="#9595ca"/>
<path d="M806.5,998.8 L776.3,1077.8" fill="none" stroke="#222" stroke-width="3.5"/>
<path d="M772.0,1089.0 L770.4,1072.3 L784.4,1077.7 Z" fill="#222"/>
<text x="800.4" y="1101.5" font-size="20.7" fill="#111" text-anchor="start" font-weight="normal" textLength="91" lengthAdjust="spacingAndGlyphs" stroke="#111" stroke-width="0.35" >immature</text>
<text x="800.4" y="1127.7" font-size="20.7" fill="#111" text-anchor="start" font-weight="normal" textLength="98" lengthAdjust="spacingAndGlyphs" stroke="#111" stroke-width="0.35" >CCR6+ DC</text>
<path d="M176.4,1185.0 L176.2,1186.0 L175.9,1187.0 L175.7,1188.0 L175.6,1189.0 L175.4,1190.0 L175.4,1191.0 L175.3,1192.0 L175.3,1193.0 L175.4,1194.0 L175.4,1195.0 L175.6,1196.0 L175.7,1197.0 L175.9,1198.0 L176.1,1199.0 L176.4,1200.0 L176.7,1201.0 L177.0,1202.0 L177.3,1203.0 L177.6,1204.0 L177.9,1205.0 L178.2,1206.0 L178.5,1207.0 L178.7,1208.0 L179.0,1209.0 L179.2,1210.0 L179.4,1211.0 L179.5,1212.0 L179.6,1213.0 L179.7,1214.0 L179.7,1215.0 L179.7,1216.0 L179.6,1217.0 L179.5,1218.0 L179.4,1219.0 L179.2,1220.0 L179.0,1221.0 L178.7,1222.0 L178.5,1223.0 L178.2,1224.0 L177.9,1225.0 L177.6,1226.0 L177.3,1227.0 L177.0,1228.0 L176.7,1229.0 L176.4,1230.0 L176.2,1231.0 L175.9,1232.0 L175.7,1233.0 L175.6,1234.0 L175.4,1235.0 L175.4,1236.0 L175.3,1237.0 L175.3,1238.0 L175.4,1239.0 L175.4,1240.0 L175.6,1241.0 L175.7,1242.0 L175.9,1243.0 L176.1,1244.0 L176.4,1245.0 L176.7,1246.0 L177.0,1247.0 L177.3,1248.0 L177.6,1249.0 L177.9,1250.0 L178.2,1251.0 L178.5,1252.0 L178.7,1253.0 L179.0,1254.0 L179.2,1255.0 L179.4,1256.0 L179.5,1257.0 L179.6,1258.0 L179.7,1259.0 L179.7,1260.0 L179.7,1261.0 L179.6,1262.0 L179.5,1263.0 L179.4,1264.0 L179.2,1265.0 L179.0,1266.0 L178.7,1267.0 L178.5,1268.0 L178.2,1269.0 L177.9,1270.0 L177.6,1271.0 L177.3,1272.0 L177.0,1273.0 L176.7,1274.0 L176.4,1275.0 L176.2,1276.0 L175.9,1277.0 L175.7,1278.0 L175.6,1279.0 L175.4,1280.0 L175.4,1281.0 L175.3,1282.0 L175.3,1283.0 L175.4,1284.0 L175.4,1285.0 L175.6,1286.0 L175.7,1287.0 L175.9,1288.0 L176.1,1289.0 L176.4,1290.0 L176.7,1291.0 L177.0,1292.0 L189.4,1292.0 L189.4,1291.0 L189.5,1290.0 L189.6,1289.0 L189.8,1288.0 L189.9,1287.0 L190.0,1286.0 L190.2,1285.0 L190.4,1284.0 L190.5,1283.0 L190.7,1282.0 L190.9,1281.0 L191.0,1280.0 L191.2,1279.0 L191.3,1278.0 L191.4,1277.0 L191.5,1276.0 L191.6,1275.0 L191.7,1274.0 L191.7,1273.0 L191.7,1272.0 L191.7,1271.0 L191.7,1270.0 L191.6,1269.0 L191.5,1268.0 L191.4,1267.0 L191.3,1266.0 L191.2,1265.0 L191.0,1264.0 L190.9,1263.0 L190.7,1262.0 L190.6,1261.0 L190.4,1260.0 L190.2,1259.0 L190.1,1258.0 L189.9,1257.0 L189.8,1256.0 L189.6,1255.0 L189.5,1254.0 L189.4,1253.0 L189.4,1252.0 L189.3,1251.0 L189.3,1250.0 L189.3,1249.0 L189.3,1248.0 L189.4,1247.0 L189.4,1246.0 L189.5,1245.0 L189.6,1244.0 L189.8,1243.0 L189.9,1242.0 L190.0,1241.0 L190.2,1240.0 L190.4,1239.0 L190.5,1238.0 L190.7,1237.0 L190.9,1236.0 L191.0,1235.0 L191.2,1234.0 L191.3,1233.0 L191.4,1232.0 L191.5,1231.0 L191.6,1230.0 L191.7,1229.0 L191.7,1228.0 L191.7,1227.0 L191.7,1226.0 L191.7,1225.0 L191.6,1224.0 L191.5,1223.0 L191.4,1222.0 L191.3,1221.0 L191.2,1220.0 L191.0,1219.0 L190.9,1218.0 L190.7,1217.0 L190.6,1216.0 L190.4,1215.0 L190.2,1214.0 L190.1,1213.0 L189.9,1212.0 L189.8,1211.0 L189.6,1210.0 L189.5,1209.0 L189.4,1208.0 L189.4,1207.0 L189.3,1206.0 L189.3,1205.0 L189.3,1204.0 L189.3,1203.0 L189.4,1202.0 L189.4,1201.0 L189.5,1200.0 L189.6,1199.0 L189.8,1198.0 L189.9,1197.0 L190.0,1196.0 L190.2,1195.0 L190.4,1194.0 L190.5,1193.0 L190.7,1192.0 L190.9,1191.0 L191.0,1190.0 L191.2,1189.0 L191.3,1188.0 L191.4,1187.0 L191.5,1186.0 L191.6,1185.0Z" fill="#d9d9d9"/>
<path d="M176.4,1185.0 L176.2,1186.0 L175.9,1187.0 L175.7,1188.0 L175.6,1189.0 L175.4,1190.0 L175.4,1191.0 L175.3,1192.0 L175.3,1193.0 L175.4,1194.0 L175.4,1195.0 L175.6,1196.0 L175.7,1197.0 L175.9,1198.0 L176.1,1199.0 L176.4,1200.0 L176.7,1201.0 L177.0,1202.0 L177.3,1203.0 L177.6,1204.0 L177.9,1205.0 L178.2,1206.0 L178.5,1207.0 L178.7,1208.0 L179.0,1209.0 L179.2,1210.0 L179.4,1211.0 L179.5,1212.0 L179.6,1213.0 L179.7,1214.0 L179.7,1215.0 L179.7,1216.0 L179.6,1217.0 L179.5,1218.0 L179.4,1219.0 L179.2,1220.0 L179.0,1221.0 L178.7,1222.0 L178.5,1223.0 L178.2,1224.0 L177.9,1225.0 L177.6,1226.0 L177.3,1227.0 L177.0,1228.0 L176.7,1229.0 L176.4,1230.0 L176.2,1231.0 L175.9,1232.0 L175.7,1233.0 L175.6,1234.0 L175.4,1235.0 L175.4,1236.0 L175.3,1237.0 L175.3,1238.0 L175.4,1239.0 L175.4,1240.0 L175.6,1241.0 L175.7,1242.0 L175.9,1243.0 L176.1,1244.0 L176.4,1245.0 L176.7,1246.0 L177.0,1247.0 L177.3,1248.0 L177.6,1249.0 L177.9,1250.0 L178.2,1251.0 L178.5,1252.0 L178.7,1253.0 L179.0,1254.0 L179.2,1255.0 L179.4,1256.0 L179.5,1257.0 L179.6,1258.0 L179.7,1259.0 L179.7,1260.0 L179.7,1261.0 L179.6,1262.0 L179.5,1263.0 L179.4,1264.0 L179.2,1265.0 L179.0,1266.0 L178.7,1267.0 L178.5,1268.0 L178.2,1269.0 L177.9,1270.0 L177.6,1271.0 L177.3,1272.0 L177.0,1273.0 L176.7,1274.0 L176.4,1275.0 L176.2,1276.0 L175.9,1277.0 L175.7,1278.0 L175.6,1279.0 L175.4,1280.0 L175.4,1281.0 L175.3,1282.0 L175.3,1283.0 L175.4,1284.0 L175.4,1285.0 L175.6,1286.0 L175.7,1287.0 L175.9,1288.0 L176.1,1289.0 L176.4,1290.0 L176.7,1291.0 L177.0,1292.0 M191.6,1185.0 L191.5,1186.0 L191.4,1187.0 L191.3,1188.0 L191.2,1189.0 L191.0,1190.0 L190.9,1191.0 L190.7,1192.0 L190.5,1193.0 L190.4,1194.0 L190.2,1195.0 L190.0,1196.0 L189.9,1197.0 L189.8,1198.0 L189.6,1199.0 L189.5,1200.0 L189.4,1201.0 L189.4,1202.0 L189.3,1203.0 L189.3,1204.0 L189.3,1205.0 L189.3,1206.0 L189.4,1207.0 L189.4,1208.0 L189.5,1209.0 L189.6,1210.0 L189.8,1211.0 L189.9,1212.0 L190.1,1213.0 L190.2,1214.0 L190.4,1215.0 L190.6,1216.0 L190.7,1217.0 L190.9,1218.0 L191.0,1219.0 L191.2,1220.0 L191.3,1221.0 L191.4,1222.0 L191.5,1223.0 L191.6,1224.0 L191.7,1225.0 L191.7,1226.0 L191.7,1227.0 L191.7,1228.0 L191.7,1229.0 L191.6,1230.0 L191.5,1231.0 L191.4,1232.0 L191.3,1233.0 L191.2,1234.0 L191.0,1235.0 L190.9,1236.0 L190.7,1237.0 L190.5,1238.0 L190.4,1239.0 L190.2,1240.0 L190.0,1241.0 L189.9,1242.0 L189.8,1243.0 L189.6,1244.0 L189.5,1245.0 L189.4,1246.0 L189.4,1247.0 L189.3,1248.0 L189.3,1249.0 L189.3,1250.0 L189.3,1251.0 L189.4,1252.0 L189.4,1253.0 L189.5,1254.0 L189.6,1255.0 L189.8,1256.0 L189.9,1257.0 L190.1,1258.0 L190.2,1259.0 L190.4,1260.0 L190.6,1261.0 L190.7,1262.0 L190.9,1263.0 L191.0,1264.0 L191.2,1265.0 L191.3,1266.0 L191.4,1267.0 L191.5,1268.0 L191.6,1269.0 L191.7,1270.0 L191.7,1271.0 L191.7,1272.0 L191.7,1273.0 L191.7,1274.0 L191.6,1275.0 L191.5,1276.0 L191.4,1277.0 L191.3,1278.0 L191.2,1279.0 L191.0,1280.0 L190.9,1281.0 L190.7,1282.0 L190.5,1283.0 L190.4,1284.0 L190.2,1285.0 L190.0,1286.0 L189.9,1287.0 L189.8,1288.0 L189.6,1289.0 L189.5,1290.0 L189.4,1291.0 L189.4,1292.0" fill="none" stroke="#8c8c8c" stroke-width="1.8"/>
<path d="M23.2,1325.4 L24.3,1325.9 L25.3,1326.2 L26.3,1326.5 L27.3,1326.6 L28.3,1326.5 L29.3,1326.3 L30.3,1325.9 L31.3,1325.4 L32.2,1324.8 L33.2,1324.1 L34.2,1323.5 L35.1,1322.9 L36.1,1322.4 L37.1,1322.0 L38.1,1321.8 L39.1,1321.8 L40.1,1321.9 L41.1,1322.2 L42.1,1322.6 L43.2,1323.1 L44.2,1323.7 L45.2,1324.2 L46.3,1324.7 L47.3,1325.1 L48.3,1325.3 L49.3,1325.4 L50.3,1325.3 L51.3,1325.1 L52.3,1324.7 L53.3,1324.2 L54.2,1323.6 L55.2,1322.9 L56.2,1322.3 L57.1,1321.7 L58.1,1321.2 L59.1,1320.8 L60.1,1320.6 L61.1,1320.6 L62.1,1320.7 L63.1,1321.0 L64.1,1321.4 L65.2,1321.9 L66.2,1322.5 L67.2,1323.0 L68.3,1323.5 L69.3,1323.9 L70.3,1324.1 L71.3,1324.2 L72.3,1324.1 L73.3,1323.9 L74.3,1323.5 L75.3,1323.0 L76.2,1322.4 L77.2,1321.7 L78.2,1321.1 L77.8,1314.9 L76.8,1315.2 L75.9,1315.5 L74.9,1315.7 L73.9,1315.8 L72.9,1315.8 L71.9,1315.7 L70.8,1315.5 L69.8,1315.2 L68.8,1314.9 L67.8,1314.6 L66.8,1314.2 L65.7,1314.0 L64.7,1313.8 L63.7,1313.7 L62.7,1313.7 L61.7,1313.9 L60.7,1314.1 L59.7,1314.4 L58.8,1314.8 L57.8,1315.2 L56.8,1315.7 L55.8,1316.1 L54.8,1316.4 L53.9,1316.7 L52.9,1316.9 L51.9,1317.0 L50.9,1317.0 L49.9,1316.9 L48.8,1316.7 L47.8,1316.4 L46.8,1316.1 L45.8,1315.7 L44.8,1315.4 L43.7,1315.2 L42.7,1315.0 L41.7,1314.9 L40.7,1314.9 L39.7,1315.1 L38.7,1315.3 L37.8,1315.6 L36.8,1316.0 L35.8,1316.4 L34.8,1316.9 L33.8,1317.3 L32.8,1317.6 L31.9,1317.9 L30.9,1318.1 L29.9,1318.2 L28.9,1318.2 L27.9,1318.1 L26.8,1317.9 L25.8,1317.6 L24.8,1317.3 L23.8,1316.9 L22.8,1316.6Z" fill="#d9d9d9"/>
<path d="M23.2,1325.4 L24.3,1325.9 L25.3,1326.2 L26.3,1326.5 L27.3,1326.6 L28.3,1326.5 L29.3,1326.3 L30.3,1325.9 L31.3,1325.4 L32.2,1324.8 L33.2,1324.1 L34.2,1323.5 L35.1,1322.9 L36.1,1322.4 L37.1,1322.0 L38.1,1321.8 L39.1,1321.8 L40.1,1321.9 L41.1,1322.2 L42.1,1322.6 L43.2,1323.1 L44.2,1323.7 L45.2,1324.2 L46.3,1324.7 L47.3,1325.1 L48.3,1325.3 L49.3,1325.4 L50.3,1325.3 L51.3,1325.1 L52.3,1324.7 L53.3,1324.2 L54.2,1323.6 L55.2,1322.9 L56.2,1322.3 L57.1,1321.7 L58.1,1321.2 L59.1,1320.8 L60.1,1320.6 L61.1,1320.6 L62.1,1320.7 L63.1,1321.0 L64.1,1321.4 L65.2,1321.9 L66.2,1322.5 L67.2,1323.0 L68.3,1323.5 L69.3,1323.9 L70.3,1324.1 L71.3,1324.2 L72.3,1324.1 L73.3,1323.9 L74.3,1323.5 L75.3,1323.0 L76.2,1322.4 L77.2,1321.7 L78.2,1321.1 M22.8,1316.6 L23.8,1316.9 L24.8,1317.3 L25.8,1317.6 L26.8,1317.9 L27.9,1318.1 L28.9,1318.2 L29.9,1318.2 L30.9,1318.1 L31.9,1317.9 L32.8,1317.6 L33.8,1317.3 L34.8,1316.9 L35.8,1316.4 L36.8,1316.0 L37.8,1315.6 L38.7,1315.3 L39.7,1315.1 L40.7,1314.9 L41.7,1314.9 L42.7,1315.0 L43.7,1315.2 L44.8,1315.4 L45.8,1315.7 L46.8,1316.1 L47.8,1316.4 L48.8,1316.7 L49.9,1316.9 L50.9,1317.0 L51.9,1317.0 L52.9,1316.9 L53.9,1316.7 L54.8,1316.4 L55.8,1316.1 L56.8,1315.7 L57.8,1315.2 L58.8,1314.8 L59.7,1314.4 L60.7,1314.1 L61.7,1313.9 L62.7,1313.7 L63.7,1313.7 L64.7,1313.8 L65.7,1314.0 L66.8,1314.2 L67.8,1314.6 L68.8,1314.9 L69.8,1315.2 L70.8,1315.5 L71.9,1315.7 L72.9,1315.8 L73.9,1315.8 L74.9,1315.7 L75.9,1315.5 L76.8,1315.2 L77.8,1314.9" fill="none" stroke="#8c8c8c" stroke-width="1.5"/>
<path d="M338.8,1288.8 L337.6,1288.6 L336.5,1288.4 L335.5,1288.4 L334.4,1288.6 L333.5,1288.9 L332.5,1289.3 L331.7,1290.0 L330.8,1290.7 L330.0,1291.6 L329.2,1292.4 L328.4,1293.3 L327.6,1294.1 L326.7,1294.8 L325.8,1295.4 L324.9,1295.8 L323.9,1296.0 L322.8,1296.0 L321.7,1296.0 L320.6,1295.8 L319.5,1295.5 L318.3,1295.2 L317.2,1294.9 L316.1,1294.7 L315.0,1294.6 L313.9,1294.7 L312.9,1294.9 L312.0,1295.3 L311.1,1295.8 L310.2,1296.5 L309.4,1297.3 L308.6,1298.2 L307.8,1299.0 L307.0,1299.9 L306.1,1300.6 L305.2,1301.3 L304.3,1301.8 L303.4,1302.1 L302.3,1302.3 L301.3,1302.3 L300.2,1302.1 L299.0,1301.9 L297.9,1301.6 L296.7,1301.3 L295.6,1301.1 L294.5,1300.9 L297.0,1309.5 L298.1,1309.6 L299.2,1309.7 L300.3,1309.7 L301.3,1309.6 L302.3,1309.4 L303.3,1309.1 L304.3,1308.8 L305.2,1308.3 L306.1,1307.7 L306.9,1307.1 L307.8,1306.4 L308.7,1305.7 L309.6,1305.1 L310.5,1304.5 L311.4,1304.1 L312.3,1303.7 L313.3,1303.4 L314.3,1303.2 L315.4,1303.2 L316.4,1303.2 L317.5,1303.2 L318.6,1303.3 L319.7,1303.4 L320.8,1303.5 L321.8,1303.4 L322.8,1303.3 L323.8,1303.1 L324.8,1302.8 L325.7,1302.3 L326.7,1301.8 L327.5,1301.2 L328.4,1300.6 L329.3,1299.9 L330.1,1299.2 L331.0,1298.6 L331.9,1298.1 L332.9,1297.7 L333.8,1297.3 L334.8,1297.1 L335.9,1297.0 L336.9,1296.9 L338.0,1297.0 L339.1,1297.0 L340.2,1297.1 L341.2,1297.2Z" fill="#d9d9d9"/>
<path d="M338.8,1288.8 L337.6,1288.6 L336.5,1288.4 L335.5,1288.4 L334.4,1288.6 L333.5,1288.9 L332.5,1289.3 L331.7,1290.0 L330.8,1290.7 L330.0,1291.6 L329.2,1292.4 L328.4,1293.3 L327.6,1294.1 L326.7,1294.8 L325.8,1295.4 L324.9,1295.8 L323.9,1296.0 L322.8,1296.0 L321.7,1296.0 L320.6,1295.8 L319.5,1295.5 L318.3,1295.2 L317.2,1294.9 L316.1,1294.7 L315.0,1294.6 L313.9,1294.7 L312.9,1294.9 L312.0,1295.3 L311.1,1295.8 L310.2,1296.5 L309.4,1297.3 L308.6,1298.2 L307.8,1299.0 L307.0,1299.9 L306.1,1300.6 L305.2,1301.3 L304.3,1301.8 L303.4,1302.1 L302.3,1302.3 L301.3,1302.3 L300.2,1302.1 L299.0,1301.9 L297.9,1301.6 L296.7,1301.3 L295.6,1301.1 L294.5,1300.9 M341.2,1297.2 L340.2,1297.1 L339.1,1297.0 L338.0,1297.0 L336.9,1296.9 L335.9,1297.0 L334.8,1297.1 L333.8,1297.3 L332.9,1297.7 L331.9,1298.1 L331.0,1298.6 L330.1,1299.2 L329.3,1299.9 L328.4,1300.6 L327.5,1301.2 L326.7,1301.8 L325.7,1302.3 L324.8,1302.8 L323.8,1303.1 L322.8,1303.3 L321.8,1303.4 L320.8,1303.5 L319.7,1303.4 L318.6,1303.3 L317.5,1303.2 L316.4,1303.2 L315.4,1303.2 L314.3,1303.2 L313.3,1303.4 L312.3,1303.7 L311.4,1304.1 L310.5,1304.5 L309.6,1305.1 L308.7,1305.7 L307.8,1306.4 L306.9,1307.1 L306.1,1307.7 L305.2,1308.3 L304.3,1308.8 L303.3,1309.1 L302.3,1309.4 L301.3,1309.6 L300.3,1309.7 L299.2,1309.7 L298.1,1309.6 L297.0,1309.5" fill="none" stroke="#8c8c8c" stroke-width="1.5"/>
<path d="M92.8,1432.2 L93.8,1431.6 L94.7,1430.9 L95.4,1430.2 L96.1,1429.4 L96.5,1428.6 L96.9,1427.6 L97.1,1426.6 L97.2,1425.5 L97.2,1424.3 L97.2,1423.1 L97.2,1422.0 L97.2,1420.8 L97.3,1419.8 L97.6,1418.7 L97.9,1417.8 L98.5,1416.9 L99.1,1416.1 L99.9,1415.4 L100.8,1414.8 L101.8,1414.2 L102.8,1413.6 L103.8,1413.1 L104.8,1412.5 L105.7,1411.8 L106.4,1411.1 L107.1,1410.3 L107.5,1409.4 L107.9,1408.5 L108.1,1407.4 L108.2,1406.3 L108.2,1405.2 L108.2,1404.0 L108.2,1402.8 L108.2,1401.7 L108.3,1400.6 L108.6,1399.6 L108.9,1398.7 L109.5,1397.8 L110.1,1397.0 L110.9,1396.3 L111.9,1395.7 L112.8,1395.1 L113.9,1394.5 L114.9,1394.0 L115.8,1393.4 L116.7,1392.7 L108.9,1388.2 L108.1,1388.9 L107.2,1389.6 L106.5,1390.3 L105.8,1391.0 L105.1,1391.8 L104.6,1392.7 L104.1,1393.6 L103.8,1394.5 L103.5,1395.5 L103.3,1396.6 L103.1,1397.6 L102.9,1398.7 L102.8,1399.7 L102.5,1400.8 L102.3,1401.8 L101.9,1402.7 L101.4,1403.6 L100.9,1404.4 L100.2,1405.2 L99.5,1405.9 L98.7,1406.6 L97.9,1407.3 L97.0,1408.0 L96.2,1408.7 L95.4,1409.4 L94.7,1410.2 L94.1,1411.0 L93.6,1411.8 L93.1,1412.7 L92.8,1413.7 L92.5,1414.7 L92.3,1415.7 L92.1,1416.8 L92.0,1417.8 L91.8,1418.9 L91.6,1419.9 L91.3,1420.9 L90.9,1421.8 L90.4,1422.7 L89.9,1423.5 L89.2,1424.3 L88.5,1425.1 L87.7,1425.8 L86.9,1426.5 L86.0,1427.1 L85.2,1427.8Z" fill="#d9d9d9"/>
<path d="M92.8,1432.2 L93.8,1431.6 L94.7,1430.9 L95.4,1430.2 L96.1,1429.4 L96.5,1428.6 L96.9,1427.6 L97.1,1426.6 L97.2,1425.5 L97.2,1424.3 L97.2,1423.1 L97.2,1422.0 L97.2,1420.8 L97.3,1419.8 L97.6,1418.7 L97.9,1417.8 L98.5,1416.9 L99.1,1416.1 L99.9,1415.4 L100.8,1414.8 L101.8,1414.2 L102.8,1413.6 L103.8,1413.1 L104.8,1412.5 L105.7,1411.8 L106.4,1411.1 L107.1,1410.3 L107.5,1409.4 L107.9,1408.5 L108.1,1407.4 L108.2,1406.3 L108.2,1405.2 L108.2,1404.0 L108.2,1402.8 L108.2,1401.7 L108.3,1400.6 L108.6,1399.6 L108.9,1398.7 L109.5,1397.8 L110.1,1397.0 L110.9,1396.3 L111.9,1395.7 L112.8,1395.1 L113.9,1394.5 L114.9,1394.0 L115.8,1393.4 L116.7,1392.7 M85.2,1427.8 L86.0,1427.1 L86.9,1426.5 L87.7,1425.8 L88.5,1425.1 L89.2,1424.3 L89.9,1423.5 L90.4,1422.7 L90.9,1421.8 L91.3,1420.9 L91.6,1419.9 L91.8,1418.9 L92.0,1417.8 L92.1,1416.8 L92.3,1415.7 L92.5,1414.7 L92.8,1413.7 L93.1,1412.7 L93.6,1411.8 L94.1,1411.0 L94.7,1410.2 L95.4,1409.4 L96.2,1408.7 L97.0,1408.0 L97.9,1407.3 L98.7,1406.6 L99.5,1405.9 L100.2,1405.2 L100.9,1404.4 L101.4,1403.6 L101.9,1402.7 L102.3,1401.8 L102.5,1400.8 L102.8,1399.7 L102.9,1398.7 L103.1,1397.6 L103.3,1396.6 L103.5,1395.5 L103.8,1394.5 L104.1,1393.6 L104.6,1392.7 L105.1,1391.8 L105.8,1391.0 L106.5,1390.3 L107.2,1389.6 L108.1,1388.9 L108.9,1388.2" fill="none" stroke="#8c8c8c" stroke-width="1.5"/>
<path d="M250.1,1441.5 L250.3,1440.4 L250.4,1439.3 L250.3,1438.2 L250.1,1437.2 L249.8,1436.3 L249.3,1435.4 L248.6,1434.5 L247.8,1433.7 L246.9,1433.0 L246.0,1432.2 L245.1,1431.5 L244.3,1430.7 L243.5,1429.9 L242.9,1429.0 L242.4,1428.1 L242.2,1427.1 L242.0,1426.1 L242.0,1425.0 L242.2,1423.9 L242.4,1422.7 L242.6,1421.6 L242.8,1420.4 L243.0,1419.3 L243.0,1418.2 L242.9,1417.1 L242.7,1416.1 L242.2,1415.2 L241.7,1414.3 L240.9,1413.5 L240.1,1412.7 L239.2,1412.0 L238.3,1411.2 L237.4,1410.5 L236.6,1409.7 L235.9,1408.8 L235.4,1408.0 L235.0,1407.0 L234.7,1406.0 L234.7,1405.0 L234.7,1403.9 L234.9,1402.7 L235.1,1401.6 L235.3,1400.4 L235.5,1399.3 L235.6,1398.2 L235.6,1397.1 L235.5,1396.1 L227.2,1399.0 L227.2,1400.1 L227.2,1401.2 L227.1,1402.3 L227.1,1403.3 L227.2,1404.4 L227.3,1405.4 L227.6,1406.4 L227.9,1407.4 L228.4,1408.3 L228.9,1409.2 L229.6,1410.0 L230.2,1410.9 L230.9,1411.7 L231.6,1412.5 L232.3,1413.4 L232.9,1414.2 L233.4,1415.1 L233.9,1416.0 L234.2,1417.0 L234.4,1418.0 L234.5,1419.0 L234.6,1420.1 L234.5,1421.2 L234.5,1422.3 L234.5,1423.4 L234.5,1424.4 L234.6,1425.5 L234.8,1426.5 L235.1,1427.5 L235.5,1428.4 L235.9,1429.3 L236.5,1430.2 L237.2,1431.0 L237.9,1431.9 L238.6,1432.7 L239.3,1433.5 L239.9,1434.4 L240.5,1435.3 L241.0,1436.2 L241.4,1437.1 L241.6,1438.1 L241.8,1439.1 L241.9,1440.1 L241.9,1441.2 L241.9,1442.3 L241.9,1443.4 L241.9,1444.5Z" fill="#d9d9d9"/>
<path d="M250.1,1441.5 L250.3,1440.4 L250.4,1439.3 L250.3,1438.2 L250.1,1437.2 L249.8,1436.3 L249.3,1435.4 L248.6,1434.5 L247.8,1433.7 L246.9,1433.0 L246.0,1432.2 L245.1,1431.5 L244.3,1430.7 L243.5,1429.9 L242.9,1429.0 L242.4,1428.1 L242.2,1427.1 L242.0,1426.1 L242.0,1425.0 L242.2,1423.9 L242.4,1422.7 L242.6,1421.6 L242.8,1420.4 L243.0,1419.3 L243.0,1418.2 L242.9,1417.1 L242.7,1416.1 L242.2,1415.2 L241.7,1414.3 L240.9,1413.5 L240.1,1412.7 L239.2,1412.0 L238.3,1411.2 L237.4,1410.5 L236.6,1409.7 L235.9,1408.8 L235.4,1408.0 L235.0,1407.0 L234.7,1406.0 L234.7,1405.0 L234.7,1403.9 L234.9,1402.7 L235.1,1401.6 L235.3,1400.4 L235.5,1399.3 L235.6,1398.2 L235.6,1397.1 L235.5,1396.1 M241.9,1444.5 L241.9,1443.4 L241.9,1442.3 L241.9,1441.2 L241.9,1440.1 L241.8,1439.1 L241.6,1438.1 L241.4,1437.1 L241.0,1436.2 L240.5,1435.3 L239.9,1434.4 L239.3,1433.5 L238.6,1432.7 L237.9,1431.9 L237.2,1431.0 L236.5,1430.2 L235.9,1429.3 L235.5,1428.4 L235.1,1427.5 L234.8,1426.5 L234.6,1425.5 L234.5,1424.4 L234.5,1423.4 L234.5,1422.3 L234.5,1421.2 L234.6,1420.1 L234.5,1419.0 L234.4,1418.0 L234.2,1417.0 L233.9,1416.0 L233.4,1415.1 L232.9,1414.2 L232.3,1413.4 L231.6,1412.5 L230.9,1411.7 L230.2,1410.9 L229.6,1410.0 L228.9,1409.2 L228.4,1408.3 L227.9,1407.4 L227.6,1406.4 L227.3,1405.4 L227.2,1404.4 L227.1,1403.3 L227.1,1402.3 L227.2,1401.2 L227.2,1400.1 L227.2,1399.0" fill="none" stroke="#8c8c8c" stroke-width="1.5"/>
<path d="M184.0,1284.6 C180.0,1283.3 175.7,1273.5 170.0,1270.0 C164.3,1266.5 157.0,1264.5 150.0,1263.5 C143.0,1262.5 135.7,1262.7 128.2,1263.8 C120.7,1264.9 112.1,1266.8 105.0,1270.0 C97.9,1273.2 90.8,1277.2 85.6,1283.0 C80.4,1288.8 76.5,1297.1 74.0,1305.0 C71.5,1312.9 71.0,1322.7 70.8,1330.5 C70.6,1338.3 71.6,1345.5 73.0,1352.0 C74.4,1358.5 75.8,1364.3 79.0,1369.8 C82.2,1375.3 87.1,1380.6 92.0,1385.0 C96.9,1389.4 100.5,1392.3 108.5,1396.0 C116.5,1399.7 129.6,1404.5 140.0,1407.0 C150.4,1409.5 160.0,1410.5 170.8,1410.8 C181.6,1411.0 194.6,1409.9 205.0,1408.5 C215.4,1407.1 223.5,1405.7 233.0,1402.6 C242.5,1399.5 253.8,1394.9 262.0,1390.0 C270.2,1385.1 276.3,1379.3 282.3,1373.0 C288.3,1366.7 294.4,1359.1 298.0,1352.0 C301.6,1344.9 303.3,1338.3 303.6,1330.5 C303.9,1322.7 301.9,1312.1 300.0,1305.0 C298.1,1297.9 296.2,1293.4 292.0,1287.9 C287.8,1282.4 282.1,1275.7 275.0,1272.0 C267.9,1268.3 258.3,1266.6 249.5,1265.6 C240.7,1264.6 229.7,1265.0 222.0,1266.0 C214.3,1267.0 208.3,1269.5 203.6,1271.5 C198.9,1273.5 197.3,1275.8 194.0,1278.0 C190.7,1280.2 188.0,1285.9 184.0,1284.6Z" fill="#7d7d7d"/>
<path d="M180.5,1284.8 C176.7,1283.6 172.7,1275.0 167.4,1271.8 C162.1,1268.7 155.2,1267.0 148.7,1266.1 C142.3,1265.2 135.4,1265.4 128.4,1266.3 C121.4,1267.3 113.4,1269.0 106.8,1271.8 C100.2,1274.7 93.5,1278.2 88.7,1283.4 C83.9,1288.6 80.2,1295.9 77.9,1302.9 C75.6,1309.9 75.0,1318.6 74.9,1325.5 C74.7,1332.5 75.7,1338.8 76.9,1344.6 C78.2,1350.4 79.6,1355.5 82.5,1360.4 C85.5,1365.3 90.1,1370.0 94.7,1373.9 C99.2,1377.8 102.6,1380.4 110.0,1383.7 C117.5,1386.9 129.7,1391.2 139.4,1393.4 C149.1,1395.6 158.0,1396.6 168.1,1396.8 C178.2,1397.0 190.4,1396.0 200.0,1394.8 C209.7,1393.5 217.3,1392.3 226.1,1389.5 C235.0,1386.8 245.5,1382.7 253.2,1378.3 C260.8,1374.0 266.5,1368.9 272.1,1363.2 C277.7,1357.6 283.4,1350.9 286.8,1344.6 C290.1,1338.3 291.7,1332.5 292.0,1325.5 C292.3,1318.6 290.4,1309.2 288.6,1302.9 C286.8,1296.6 285.0,1292.6 281.2,1287.7 C277.3,1282.8 271.9,1276.9 265.3,1273.6 C258.7,1270.3 249.8,1268.8 241.5,1267.9 C233.3,1267.0 223.0,1267.4 215.9,1268.3 C208.8,1269.2 203.1,1271.4 198.7,1273.2 C194.4,1274.9 192.8,1277.0 189.8,1278.9 C186.7,1280.9 184.2,1286.0 180.5,1284.8Z" fill="#e2e2e4" stroke="#a5a5a5" stroke-width="3.3000000000000003"/>
<path d="M76.4,1325.0 L110.0,1318.0 L75.6,1319.0Z" fill="#a5a5a5" opacity="0.75"/>
<path d="M93.6,1377.5 L120.0,1357.0 L90.4,1372.5Z" fill="#a5a5a5" opacity="0.75"/>
<path d="M130.5,1399.6 L141.0,1378.0 L125.5,1396.4Z" fill="#a5a5a5" opacity="0.75"/>
<path d="M203.0,1402.6 L197.0,1381.0 L197.0,1403.4Z" fill="#a5a5a5" opacity="0.75"/>
<path d="M254.4,1390.1 L237.0,1373.0 L249.6,1393.9Z" fill="#a5a5a5" opacity="0.75"/>
<path d="M293.1,1345.2 L263.0,1337.0 L290.9,1350.8Z" fill="#a5a5a5" opacity="0.75"/>
<path d="M281.1,1287.1 L253.0,1299.0 L282.9,1292.9Z" fill="#a5a5a5" opacity="0.75"/>
<path d="M98.9,1292.8 L127.0,1301.0 L101.1,1287.2Z" fill="#a5a5a5" opacity="0.75"/>
<path d="M176,1280 L192,1280 L191,1289 L177,1289Z" fill="#d9d9d9"/>
<path d="M177.5,1275 Q177,1285 172,1288 M190.5,1275 Q191,1285 196,1288" fill="none" stroke="#8c8c8c" stroke-width="1.8"/>
<path d="M526.6,1275.5 C522.2,1273.9 517.3,1262.2 511.0,1258.0 C504.6,1253.8 496.4,1251.4 488.6,1250.2 C480.8,1249.0 472.5,1249.3 464.1,1250.6 C455.7,1251.9 446.1,1254.2 438.2,1258.0 C430.2,1261.8 422.2,1266.6 416.4,1273.6 C410.6,1280.6 406.2,1290.5 403.4,1300.0 C400.7,1309.5 400.0,1321.2 399.9,1330.6 C399.7,1340.0 400.8,1348.5 402.3,1356.4 C403.9,1364.3 405.5,1371.2 409.0,1377.8 C412.6,1384.4 418.1,1390.8 423.6,1396.0 C429.1,1401.2 433.1,1404.8 442.1,1409.2 C451.0,1413.6 465.7,1419.4 477.4,1422.4 C489.0,1425.4 499.7,1426.7 511.9,1427.0 C524.0,1427.3 538.5,1425.8 550.2,1424.2 C561.8,1422.6 570.9,1420.8 581.5,1417.1 C592.2,1413.4 604.8,1407.9 614.0,1402.0 C623.2,1396.1 630.0,1389.2 636.7,1381.6 C643.5,1374.0 650.3,1364.9 654.3,1356.4 C658.3,1347.9 660.2,1340.0 660.6,1330.6 C661.0,1321.2 658.7,1308.5 656.6,1300.0 C654.4,1291.5 652.3,1286.1 647.6,1279.5 C642.9,1272.9 636.5,1264.9 628.6,1260.4 C620.6,1255.9 609.9,1253.9 600.0,1252.7 C590.1,1251.5 577.8,1252.0 569.2,1253.2 C560.6,1254.4 553.8,1257.4 548.6,1259.8 C543.4,1262.2 541.5,1265.0 537.8,1267.6 C534.2,1270.2 531.1,1277.1 526.6,1275.5Z" fill="#a0a0a0" opacity="0.5" filter="url(#blur20)"/>
<path d="M519.4,1188.0 L519.2,1189.0 L518.9,1190.0 L518.7,1191.0 L518.6,1192.0 L518.4,1193.0 L518.4,1194.0 L518.3,1195.0 L518.3,1196.0 L518.4,1197.0 L518.4,1198.0 L518.6,1199.0 L518.7,1200.0 L518.9,1201.0 L519.1,1202.0 L519.4,1203.0 L519.7,1204.0 L520.0,1205.0 L520.3,1206.0 L520.6,1207.0 L520.9,1208.0 L521.2,1209.0 L521.5,1210.0 L521.7,1211.0 L522.0,1212.0 L522.2,1213.0 L522.4,1214.0 L522.5,1215.0 L522.6,1216.0 L522.7,1217.0 L522.7,1218.0 L522.7,1219.0 L522.6,1220.0 L522.5,1221.0 L522.4,1222.0 L522.2,1223.0 L522.0,1224.0 L521.7,1225.0 L521.5,1226.0 L521.2,1227.0 L520.9,1228.0 L520.6,1229.0 L520.3,1230.0 L520.0,1231.0 L519.7,1232.0 L519.4,1233.0 L519.2,1234.0 L518.9,1235.0 L518.7,1236.0 L518.6,1237.0 L518.4,1238.0 L518.4,1239.0 L518.3,1240.0 L518.3,1241.0 L518.4,1242.0 L518.4,1243.0 L518.6,1244.0 L518.7,1245.0 L518.9,1246.0 L519.1,1247.0 L519.4,1248.0 L519.7,1249.0 L520.0,1250.0 L520.3,1251.0 L520.6,1252.0 L520.9,1253.0 L521.2,1254.0 L521.5,1255.0 L521.7,1256.0 L522.0,1257.0 L522.2,1258.0 L522.4,1259.0 L522.5,1260.0 L522.6,1261.0 L522.7,1262.0 L522.7,1263.0 L522.7,1264.0 L522.6,1265.0 L522.5,1266.0 L522.4,1267.0 L522.2,1268.0 L522.0,1269.0 L521.7,1270.0 L521.5,1271.0 L521.2,1272.0 L520.9,1273.0 L520.6,1274.0 L520.3,1275.0 L520.0,1276.0 L519.7,1277.0 L519.4,1278.0 L519.2,1279.0 L518.9,1280.0 L518.7,1281.0 L518.6,1282.0 L518.4,1283.0 L518.4,1284.0 L518.3,1285.0 L518.3,1286.0 L518.4,1287.0 L518.4,1288.0 L518.6,1289.0 L518.7,1290.0 L518.9,1291.0 L519.1,1292.0 L519.4,1293.0 L519.7,1294.0 L520.0,1295.0 L532.4,1295.0 L532.4,1294.0 L532.5,1293.0 L532.6,1292.0 L532.8,1291.0 L532.9,1290.0 L533.0,1289.0 L533.2,1288.0 L533.4,1287.0 L533.5,1286.0 L533.7,1285.0 L533.9,1284.0 L534.0,1283.0 L534.2,1282.0 L534.3,1281.0 L534.4,1280.0 L534.5,1279.0 L534.6,1278.0 L534.7,1277.0 L534.7,1276.0 L534.7,1275.0 L534.7,1274.0 L534.7,1273.0 L534.6,1272.0 L534.5,1271.0 L534.4,1270.0 L534.3,1269.0 L534.2,1268.0 L534.0,1267.0 L533.9,1266.0 L533.7,1265.0 L533.6,1264.0 L533.4,1263.0 L533.2,1262.0 L533.1,1261.0 L532.9,1260.0 L532.8,1259.0 L532.6,1258.0 L532.5,1257.0 L532.4,1256.0 L532.4,1255.0 L532.3,1254.0 L532.3,1253.0 L532.3,1252.0 L532.3,1251.0 L532.4,1250.0 L532.4,1249.0 L532.5,1248.0 L532.6,1247.0 L532.8,1246.0 L532.9,1245.0 L533.0,1244.0 L533.2,1243.0 L533.4,1242.0 L533.5,1241.0 L533.7,1240.0 L533.9,1239.0 L534.0,1238.0 L534.2,1237.0 L534.3,1236.0 L534.4,1235.0 L534.5,1234.0 L534.6,1233.0 L534.7,1232.0 L534.7,1231.0 L534.7,1230.0 L534.7,1229.0 L534.7,1228.0 L534.6,1227.0 L534.5,1226.0 L534.4,1225.0 L534.3,1224.0 L534.2,1223.0 L534.0,1222.0 L533.9,1221.0 L533.7,1220.0 L533.6,1219.0 L533.4,1218.0 L533.2,1217.0 L533.1,1216.0 L532.9,1215.0 L532.8,1214.0 L532.6,1213.0 L532.5,1212.0 L532.4,1211.0 L532.4,1210.0 L532.3,1209.0 L532.3,1208.0 L532.3,1207.0 L532.3,1206.0 L532.4,1205.0 L532.4,1204.0 L532.5,1203.0 L532.6,1202.0 L532.8,1201.0 L532.9,1200.0 L533.0,1199.0 L533.2,1198.0 L533.4,1197.0 L533.5,1196.0 L533.7,1195.0 L533.9,1194.0 L534.0,1193.0 L534.2,1192.0 L534.3,1191.0 L534.4,1190.0 L534.5,1189.0 L534.6,1188.0Z" fill="#d6d6d6"/>
<path d="M519.4,1188.0 L519.2,1189.0 L518.9,1190.0 L518.7,1191.0 L518.6,1192.0 L518.4,1193.0 L518.4,1194.0 L518.3,1195.0 L518.3,1196.0 L518.4,1197.0 L518.4,1198.0 L518.6,1199.0 L518.7,1200.0 L518.9,1201.0 L519.1,1202.0 L519.4,1203.0 L519.7,1204.0 L520.0,1205.0 L520.3,1206.0 L520.6,1207.0 L520.9,1208.0 L521.2,1209.0 L521.5,1210.0 L521.7,1211.0 L522.0,1212.0 L522.2,1213.0 L522.4,1214.0 L522.5,1215.0 L522.6,1216.0 L522.7,1217.0 L522.7,1218.0 L522.7,1219.0 L522.6,1220.0 L522.5,1221.0 L522.4,1222.0 L522.2,1223.0 L522.0,1224.0 L521.7,1225.0 L521.5,1226.0 L521.2,1227.0 L520.9,1228.0 L520.6,1229.0 L520.3,1230.0 L520.0,1231.0 L519.7,1232.0 L519.4,1233.0 L519.2,1234.0 L518.9,1235.0 L518.7,1236.0 L518.6,1237.0 L518.4,1238.0 L518.4,1239.0 L518.3,1240.0 L518.3,1241.0 L518.4,1242.0 L518.4,1243.0 L518.6,1244.0 L518.7,1245.0 L518.9,1246.0 L519.1,1247.0 L519.4,1248.0 L519.7,1249.0 L520.0,1250.0 L520.3,1251.0 L520.6,1252.0 L520.9,1253.0 L521.2,1254.0 L521.5,1255.0 L521.7,1256.0 L522.0,1257.0 L522.2,1258.0 L522.4,1259.0 L522.5,1260.0 L522.6,1261.0 L522.7,1262.0 L522.7,1263.0 L522.7,1264.0 L522.6,1265.0 L522.5,1266.0 L522.4,1267.0 L522.2,1268.0 L522.0,1269.0 L521.7,1270.0 L521.5,1271.0 L521.2,1272.0 L520.9,1273.0 L520.6,1274.0 L520.3,1275.0 L520.0,1276.0 L519.7,1277.0 L519.4,1278.0 L519.2,1279.0 L518.9,1280.0 L518.7,1281.0 L518.6,1282.0 L518.4,1283.0 L518.4,1284.0 L518.3,1285.0 L518.3,1286.0 L518.4,1287.0 L518.4,1288.0 L518.6,1289.0 L518.7,1290.0 L518.9,1291.0 L519.1,1292.0 L519.4,1293.0 L519.7,1294.0 L520.0,1295.0 M534.6,1188.0 L534.5,1189.0 L534.4,1190.0 L534.3,1191.0 L534.2,1192.0 L534.0,1193.0 L533.9,1194.0 L533.7,1195.0 L533.5,1196.0 L533.4,1197.0 L533.2,1198.0 L533.0,1199.0 L532.9,1200.0 L532.8,1201.0 L532.6,1202.0 L532.5,1203.0 L532.4,1204.0 L532.4,1205.0 L532.3,1206.0 L532.3,1207.0 L532.3,1208.0 L532.3,1209.0 L532.4,1210.0 L532.4,1211.0 L532.5,1212.0 L532.6,1213.0 L532.8,1214.0 L532.9,1215.0 L533.1,1216.0 L533.2,1217.0 L533.4,1218.0 L533.6,1219.0 L533.7,1220.0 L533.9,1221.0 L534.0,1222.0 L534.2,1223.0 L534.3,1224.0 L534.4,1225.0 L534.5,1226.0 L534.6,1227.0 L534.7,1228.0 L534.7,1229.0 L534.7,1230.0 L534.7,1231.0 L534.7,1232.0 L534.6,1233.0 L534.5,1234.0 L534.4,1235.0 L534.3,1236.0 L534.2,1237.0 L534.0,1238.0 L533.9,1239.0 L533.7,1240.0 L533.5,1241.0 L533.4,1242.0 L533.2,1243.0 L533.0,1244.0 L532.9,1245.0 L532.8,1246.0 L532.6,1247.0 L532.5,1248.0 L532.4,1249.0 L532.4,1250.0 L532.3,1251.0 L532.3,1252.0 L532.3,1253.0 L532.3,1254.0 L532.4,1255.0 L532.4,1256.0 L532.5,1257.0 L532.6,1258.0 L532.8,1259.0 L532.9,1260.0 L533.1,1261.0 L533.2,1262.0 L533.4,1263.0 L533.6,1264.0 L533.7,1265.0 L533.9,1266.0 L534.0,1267.0 L534.2,1268.0 L534.3,1269.0 L534.4,1270.0 L534.5,1271.0 L534.6,1272.0 L534.7,1273.0 L534.7,1274.0 L534.7,1275.0 L534.7,1276.0 L534.7,1277.0 L534.6,1278.0 L534.5,1279.0 L534.4,1280.0 L534.3,1281.0 L534.2,1282.0 L534.0,1283.0 L533.9,1284.0 L533.7,1285.0 L533.5,1286.0 L533.4,1287.0 L533.2,1288.0 L533.0,1289.0 L532.9,1290.0 L532.8,1291.0 L532.6,1292.0 L532.5,1293.0 L532.4,1294.0 L532.4,1295.0" fill="none" stroke="#6f6f6f" stroke-width="1.8"/>
<path d="M366.2,1328.4 L367.3,1328.9 L368.3,1329.2 L369.3,1329.5 L370.3,1329.6 L371.3,1329.5 L372.3,1329.3 L373.3,1328.9 L374.3,1328.4 L375.2,1327.8 L376.2,1327.1 L377.2,1326.5 L378.1,1325.9 L379.1,1325.4 L380.1,1325.0 L381.1,1324.8 L382.1,1324.8 L383.1,1324.9 L384.1,1325.2 L385.1,1325.6 L386.2,1326.1 L387.2,1326.7 L388.2,1327.2 L389.3,1327.7 L390.3,1328.1 L391.3,1328.3 L392.3,1328.4 L393.3,1328.3 L394.3,1328.1 L395.3,1327.7 L396.3,1327.2 L397.2,1326.6 L398.2,1325.9 L399.2,1325.3 L400.1,1324.7 L401.1,1324.2 L402.1,1323.8 L403.1,1323.6 L404.1,1323.6 L405.1,1323.7 L406.1,1324.0 L407.1,1324.4 L408.2,1324.9 L409.2,1325.5 L410.2,1326.0 L411.3,1326.5 L412.3,1326.9 L413.3,1327.1 L414.3,1327.2 L415.3,1327.1 L416.3,1326.9 L417.3,1326.5 L418.3,1326.0 L419.2,1325.4 L420.2,1324.7 L421.2,1324.1 L420.8,1317.9 L419.8,1318.2 L418.9,1318.5 L417.9,1318.7 L416.9,1318.8 L415.9,1318.8 L414.9,1318.7 L413.8,1318.5 L412.8,1318.2 L411.8,1317.9 L410.8,1317.6 L409.8,1317.2 L408.7,1317.0 L407.7,1316.8 L406.7,1316.7 L405.7,1316.7 L404.7,1316.9 L403.7,1317.1 L402.7,1317.4 L401.8,1317.8 L400.8,1318.2 L399.8,1318.7 L398.8,1319.1 L397.8,1319.4 L396.9,1319.7 L395.9,1319.9 L394.9,1320.0 L393.9,1320.0 L392.9,1319.9 L391.8,1319.7 L390.8,1319.4 L389.8,1319.1 L388.8,1318.7 L387.8,1318.4 L386.7,1318.2 L385.7,1318.0 L384.7,1317.9 L383.7,1317.9 L382.7,1318.1 L381.7,1318.3 L380.8,1318.6 L379.8,1319.0 L378.8,1319.4 L377.8,1319.9 L376.8,1320.3 L375.8,1320.6 L374.9,1320.9 L373.9,1321.1 L372.9,1321.2 L371.9,1321.2 L370.9,1321.1 L369.8,1320.9 L368.8,1320.6 L367.8,1320.3 L366.8,1319.9 L365.8,1319.6Z" fill="#d6d6d6"/>
<path d="M366.2,1328.4 L367.3,1328.9 L368.3,1329.2 L369.3,1329.5 L370.3,1329.6 L371.3,1329.5 L372.3,1329.3 L373.3,1328.9 L374.3,1328.4 L375.2,1327.8 L376.2,1327.1 L377.2,1326.5 L378.1,1325.9 L379.1,1325.4 L380.1,1325.0 L381.1,1324.8 L382.1,1324.8 L383.1,1324.9 L384.1,1325.2 L385.1,1325.6 L386.2,1326.1 L387.2,1326.7 L388.2,1327.2 L389.3,1327.7 L390.3,1328.1 L391.3,1328.3 L392.3,1328.4 L393.3,1328.3 L394.3,1328.1 L395.3,1327.7 L396.3,1327.2 L397.2,1326.6 L398.2,1325.9 L399.2,1325.3 L400.1,1324.7 L401.1,1324.2 L402.1,1323.8 L403.1,1323.6 L404.1,1323.6 L405.1,1323.7 L406.1,1324.0 L407.1,1324.4 L408.2,1324.9 L409.2,1325.5 L410.2,1326.0 L411.3,1326.5 L412.3,1326.9 L413.3,1327.1 L414.3,1327.2 L415.3,1327.1 L416.3,1326.9 L417.3,1326.5 L418.3,1326.0 L419.2,1325.4 L420.2,1324.7 L421.2,1324.1 M365.8,1319.6 L366.8,1319.9 L367.8,1320.3 L368.8,1320.6 L369.8,1320.9 L370.9,1321.1 L371.9,1321.2 L372.9,1321.2 L373.9,1321.1 L374.9,1320.9 L375.8,1320.6 L376.8,1320.3 L377.8,1319.9 L378.8,1319.4 L379.8,1319.0 L380.8,1318.6 L381.7,1318.3 L382.7,1318.1 L383.7,1317.9 L384.7,1317.9 L385.7,1318.0 L386.7,1318.2 L387.8,1318.4 L388.8,1318.7 L389.8,1319.1 L390.8,1319.4 L391.8,1319.7 L392.9,1319.9 L393.9,1320.0 L394.9,1320.0 L395.9,1319.9 L396.9,1319.7 L397.8,1319.4 L398.8,1319.1 L399.8,1318.7 L400.8,1318.2 L401.8,1317.8 L402.7,1317.4 L403.7,1317.1 L404.7,1316.9 L405.7,1316.7 L406.7,1316.7 L407.7,1316.8 L408.7,1317.0 L409.8,1317.2 L410.8,1317.6 L411.8,1317.9 L412.8,1318.2 L413.8,1318.5 L414.9,1318.7 L415.9,1318.8 L416.9,1318.8 L417.9,1318.7 L418.9,1318.5 L419.8,1318.2 L420.8,1317.9" fill="none" stroke="#6f6f6f" stroke-width="1.5"/>
<path d="M681.8,1291.8 L680.6,1291.6 L679.5,1291.4 L678.5,1291.4 L677.4,1291.6 L676.5,1291.9 L675.5,1292.3 L674.7,1293.0 L673.8,1293.7 L673.0,1294.6 L672.2,1295.4 L671.4,1296.3 L670.6,1297.1 L669.7,1297.8 L668.8,1298.4 L667.9,1298.8 L666.9,1299.0 L665.8,1299.0 L664.7,1299.0 L663.6,1298.8 L662.5,1298.5 L661.3,1298.2 L660.2,1297.9 L659.1,1297.7 L658.0,1297.6 L656.9,1297.7 L655.9,1297.9 L655.0,1298.3 L654.1,1298.8 L653.2,1299.5 L652.4,1300.3 L651.6,1301.2 L650.8,1302.0 L650.0,1302.9 L649.1,1303.6 L648.2,1304.3 L647.3,1304.8 L646.4,1305.1 L645.3,1305.3 L644.3,1305.3 L643.2,1305.1 L642.0,1304.9 L640.9,1304.6 L639.7,1304.3 L638.6,1304.1 L637.5,1303.9 L640.0,1312.5 L641.1,1312.6 L642.2,1312.7 L643.3,1312.7 L644.3,1312.6 L645.3,1312.4 L646.3,1312.1 L647.3,1311.8 L648.2,1311.3 L649.1,1310.7 L649.9,1310.1 L650.8,1309.4 L651.7,1308.7 L652.6,1308.1 L653.5,1307.5 L654.4,1307.1 L655.3,1306.7 L656.3,1306.4 L657.3,1306.2 L658.4,1306.2 L659.4,1306.2 L660.5,1306.2 L661.6,1306.3 L662.7,1306.4 L663.8,1306.5 L664.8,1306.4 L665.8,1306.3 L666.8,1306.1 L667.8,1305.8 L668.7,1305.3 L669.7,1304.8 L670.5,1304.2 L671.4,1303.6 L672.3,1302.9 L673.1,1302.2 L674.0,1301.6 L674.9,1301.1 L675.9,1300.7 L676.8,1300.3 L677.8,1300.1 L678.9,1300.0 L679.9,1299.9 L681.0,1300.0 L682.1,1300.0 L683.2,1300.1 L684.2,1300.2Z" fill="#d6d6d6"/>
<path d="M681.8,1291.8 L680.6,1291.6 L679.5,1291.4 L678.5,1291.4 L677.4,1291.6 L676.5,1291.9 L675.5,1292.3 L674.7,1293.0 L673.8,1293.7 L673.0,1294.6 L672.2,1295.4 L671.4,1296.3 L670.6,1297.1 L669.7,1297.8 L668.8,1298.4 L667.9,1298.8 L666.9,1299.0 L665.8,1299.0 L664.7,1299.0 L663.6,1298.8 L662.5,1298.5 L661.3,1298.2 L660.2,1297.9 L659.1,1297.7 L658.0,1297.6 L656.9,1297.7 L655.9,1297.9 L655.0,1298.3 L654.1,1298.8 L653.2,1299.5 L652.4,1300.3 L651.6,1301.2 L650.8,1302.0 L650.0,1302.9 L649.1,1303.6 L648.2,1304.3 L647.3,1304.8 L646.4,1305.1 L645.3,1305.3 L644.3,1305.3 L643.2,1305.1 L642.0,1304.9 L640.9,1304.6 L639.7,1304.3 L638.6,1304.1 L637.5,1303.9 M684.2,1300.2 L683.2,1300.1 L682.1,1300.0 L681.0,1300.0 L679.9,1299.9 L678.9,1300.0 L677.8,1300.1 L676.8,1300.3 L675.9,1300.7 L674.9,1301.1 L674.0,1301.6 L673.1,1302.2 L672.3,1302.9 L671.4,1303.6 L670.5,1304.2 L669.7,1304.8 L668.7,1305.3 L667.8,1305.8 L666.8,1306.1 L665.8,1306.3 L664.8,1306.4 L663.8,1306.5 L662.7,1306.4 L661.6,1306.3 L660.5,1306.2 L659.4,1306.2 L658.4,1306.2 L657.3,1306.2 L656.3,1306.4 L655.3,1306.7 L654.4,1307.1 L653.5,1307.5 L652.6,1308.1 L651.7,1308.7 L650.8,1309.4 L649.9,1310.1 L649.1,1310.7 L648.2,1311.3 L647.3,1311.8 L646.3,1312.1 L645.3,1312.4 L644.3,1312.6 L643.3,1312.7 L642.2,1312.7 L641.1,1312.6 L640.0,1312.5" fill="none" stroke="#6f6f6f" stroke-width="1.5"/>
<path d="M435.8,1435.2 L436.8,1434.6 L437.7,1433.9 L438.4,1433.2 L439.1,1432.4 L439.5,1431.6 L439.9,1430.6 L440.1,1429.6 L440.2,1428.5 L440.2,1427.3 L440.2,1426.1 L440.2,1425.0 L440.2,1423.8 L440.3,1422.8 L440.6,1421.7 L440.9,1420.8 L441.5,1419.9 L442.1,1419.1 L442.9,1418.4 L443.8,1417.8 L444.8,1417.2 L445.8,1416.6 L446.8,1416.1 L447.8,1415.5 L448.7,1414.8 L449.4,1414.1 L450.1,1413.3 L450.5,1412.4 L450.9,1411.5 L451.1,1410.4 L451.2,1409.3 L451.2,1408.2 L451.2,1407.0 L451.2,1405.8 L451.2,1404.7 L451.3,1403.6 L451.6,1402.6 L451.9,1401.7 L452.5,1400.8 L453.1,1400.0 L453.9,1399.3 L454.9,1398.7 L455.8,1398.1 L456.9,1397.5 L457.9,1397.0 L458.8,1396.4 L459.7,1395.7 L451.9,1391.2 L451.1,1391.9 L450.2,1392.6 L449.5,1393.3 L448.8,1394.0 L448.1,1394.8 L447.6,1395.7 L447.1,1396.6 L446.8,1397.5 L446.5,1398.5 L446.3,1399.6 L446.1,1400.6 L445.9,1401.7 L445.8,1402.7 L445.5,1403.8 L445.3,1404.8 L444.9,1405.7 L444.4,1406.6 L443.9,1407.4 L443.2,1408.2 L442.5,1408.9 L441.7,1409.6 L440.9,1410.3 L440.0,1411.0 L439.2,1411.7 L438.4,1412.4 L437.7,1413.2 L437.1,1414.0 L436.6,1414.8 L436.1,1415.7 L435.8,1416.7 L435.5,1417.7 L435.3,1418.7 L435.1,1419.8 L435.0,1420.8 L434.8,1421.9 L434.6,1422.9 L434.3,1423.9 L433.9,1424.8 L433.4,1425.7 L432.9,1426.5 L432.2,1427.3 L431.5,1428.1 L430.7,1428.8 L429.9,1429.5 L429.0,1430.1 L428.2,1430.8Z" fill="#d6d6d6"/>
<path d="M435.8,1435.2 L436.8,1434.6 L437.7,1433.9 L438.4,1433.2 L439.1,1432.4 L439.5,1431.6 L439.9,1430.6 L440.1,1429.6 L440.2,1428.5 L440.2,1427.3 L440.2,1426.1 L440.2,1425.0 L440.2,1423.8 L440.3,1422.8 L440.6,1421.7 L440.9,1420.8 L441.5,1419.9 L442.1,1419.1 L442.9,1418.4 L443.8,1417.8 L444.8,1417.2 L445.8,1416.6 L446.8,1416.1 L447.8,1415.5 L448.7,1414.8 L449.4,1414.1 L450.1,1413.3 L450.5,1412.4 L450.9,1411.5 L451.1,1410.4 L451.2,1409.3 L451.2,1408.2 L451.2,1407.0 L451.2,1405.8 L451.2,1404.7 L451.3,1403.6 L451.6,1402.6 L451.9,1401.7 L452.5,1400.8 L453.1,1400.0 L453.9,1399.3 L454.9,1398.7 L455.8,1398.1 L456.9,1397.5 L457.9,1397.0 L458.8,1396.4 L459.7,1395.7 M428.2,1430.8 L429.0,1430.1 L429.9,1429.5 L430.7,1428.8 L431.5,1428.1 L432.2,1427.3 L432.9,1426.5 L433.4,1425.7 L433.9,1424.8 L434.3,1423.9 L434.6,1422.9 L434.8,1421.9 L435.0,1420.8 L435.1,1419.8 L435.3,1418.7 L435.5,1417.7 L435.8,1416.7 L436.1,1415.7 L436.6,1414.8 L437.1,1414.0 L437.7,1413.2 L438.4,1412.4 L439.2,1411.7 L440.0,1411.0 L440.9,1410.3 L441.7,1409.6 L442.5,1408.9 L443.2,1408.2 L443.9,1407.4 L444.4,1406.6 L444.9,1405.7 L445.3,1404.8 L445.5,1403.8 L445.8,1402.7 L445.9,1401.7 L446.1,1400.6 L446.3,1399.6 L446.5,1398.5 L446.8,1397.5 L447.1,1396.6 L447.6,1395.7 L448.1,1394.8 L448.8,1394.0 L449.5,1393.3 L450.2,1392.6 L451.1,1391.9 L451.9,1391.2" fill="none" stroke="#6f6f6f" stroke-width="1.5"/>
<path d="M593.1,1444.5 L593.3,1443.4 L593.4,1442.3 L593.3,1441.2 L593.1,1440.2 L592.8,1439.3 L592.3,1438.4 L591.6,1437.5 L590.8,1436.7 L589.9,1436.0 L589.0,1435.2 L588.1,1434.5 L587.3,1433.7 L586.5,1432.9 L585.9,1432.0 L585.4,1431.1 L585.2,1430.1 L585.0,1429.1 L585.0,1428.0 L585.2,1426.9 L585.4,1425.7 L585.6,1424.6 L585.8,1423.4 L586.0,1422.3 L586.0,1421.2 L585.9,1420.1 L585.7,1419.1 L585.2,1418.2 L584.7,1417.3 L583.9,1416.5 L583.1,1415.7 L582.2,1415.0 L581.3,1414.2 L580.4,1413.5 L579.6,1412.7 L578.9,1411.8 L578.4,1411.0 L578.0,1410.0 L577.7,1409.0 L577.7,1408.0 L577.7,1406.9 L577.9,1405.7 L578.1,1404.6 L578.3,1403.4 L578.5,1402.3 L578.6,1401.2 L578.6,1400.1 L578.5,1399.1 L570.2,1402.0 L570.2,1403.1 L570.2,1404.2 L570.1,1405.3 L570.1,1406.3 L570.2,1407.4 L570.3,1408.4 L570.6,1409.4 L570.9,1410.4 L571.4,1411.3 L571.9,1412.2 L572.6,1413.0 L573.2,1413.9 L573.9,1414.7 L574.6,1415.5 L575.3,1416.4 L575.9,1417.2 L576.4,1418.1 L576.9,1419.0 L577.2,1420.0 L577.4,1421.0 L577.5,1422.0 L577.6,1423.1 L577.5,1424.2 L577.5,1425.3 L577.5,1426.4 L577.5,1427.4 L577.6,1428.5 L577.8,1429.5 L578.1,1430.5 L578.5,1431.4 L578.9,1432.3 L579.5,1433.2 L580.2,1434.0 L580.9,1434.9 L581.6,1435.7 L582.3,1436.5 L582.9,1437.4 L583.5,1438.3 L584.0,1439.2 L584.4,1440.1 L584.6,1441.1 L584.8,1442.1 L584.9,1443.1 L584.9,1444.2 L584.9,1445.3 L584.9,1446.4 L584.9,1447.5Z" fill="#d6d6d6"/>
<path d="M593.1,1444.5 L593.3,1443.4 L593.4,1442.3 L593.3,1441.2 L593.1,1440.2 L592.8,1439.3 L592.3,1438.4 L591.6,1437.5 L590.8,1436.7 L589.9,1436.0 L589.0,1435.2 L588.1,1434.5 L587.3,1433.7 L586.5,1432.9 L585.9,1432.0 L585.4,1431.1 L585.2,1430.1 L585.0,1429.1 L585.0,1428.0 L585.2,1426.9 L585.4,1425.7 L585.6,1424.6 L585.8,1423.4 L586.0,1422.3 L586.0,1421.2 L585.9,1420.1 L585.7,1419.1 L585.2,1418.2 L584.7,1417.3 L583.9,1416.5 L583.1,1415.7 L582.2,1415.0 L581.3,1414.2 L580.4,1413.5 L579.6,1412.7 L578.9,1411.8 L578.4,1411.0 L578.0,1410.0 L577.7,1409.0 L577.7,1408.0 L577.7,1406.9 L577.9,1405.7 L578.1,1404.6 L578.3,1403.4 L578.5,1402.3 L578.6,1401.2 L578.6,1400.1 L578.5,1399.1 M584.9,1447.5 L584.9,1446.4 L584.9,1445.3 L584.9,1444.2 L584.9,1443.1 L584.8,1442.1 L584.6,1441.1 L584.4,1440.1 L584.0,1439.2 L583.5,1438.3 L582.9,1437.4 L582.3,1436.5 L581.6,1435.7 L580.9,1434.9 L580.2,1434.0 L579.5,1433.2 L578.9,1432.3 L578.5,1431.4 L578.1,1430.5 L577.8,1429.5 L577.6,1428.5 L577.5,1427.4 L577.5,1426.4 L577.5,1425.3 L577.5,1424.2 L577.6,1423.1 L577.5,1422.0 L577.4,1421.0 L577.2,1420.0 L576.9,1419.0 L576.4,1418.1 L575.9,1417.2 L575.3,1416.4 L574.6,1415.5 L573.9,1414.7 L573.2,1413.9 L572.6,1413.0 L571.9,1412.2 L571.4,1411.3 L570.9,1410.4 L570.6,1409.4 L570.3,1408.4 L570.2,1407.4 L570.1,1406.3 L570.1,1405.3 L570.2,1404.2 L570.2,1403.1 L570.2,1402.0" fill="none" stroke="#6f6f6f" stroke-width="1.5"/>
<path d="M527.0,1287.6 C523.0,1286.3 518.7,1276.5 513.0,1273.0 C507.3,1269.5 500.0,1267.5 493.0,1266.5 C486.0,1265.5 478.7,1265.7 471.2,1266.8 C463.7,1267.9 455.1,1269.8 448.0,1273.0 C440.9,1276.2 433.8,1280.2 428.6,1286.0 C423.4,1291.8 419.5,1300.1 417.0,1308.0 C414.5,1315.9 414.0,1325.7 413.8,1333.5 C413.6,1341.3 414.6,1348.5 416.0,1355.0 C417.4,1361.5 418.8,1367.3 422.0,1372.8 C425.2,1378.3 430.1,1383.6 435.0,1388.0 C439.9,1392.4 443.5,1395.3 451.5,1399.0 C459.5,1402.7 472.6,1407.5 483.0,1410.0 C493.4,1412.5 503.0,1413.5 513.8,1413.8 C524.6,1414.0 537.6,1412.9 548.0,1411.5 C558.4,1410.1 566.5,1408.7 576.0,1405.6 C585.5,1402.5 596.8,1397.9 605.0,1393.0 C613.2,1388.1 619.3,1382.3 625.3,1376.0 C631.3,1369.7 637.5,1362.1 641.0,1355.0 C644.5,1347.9 646.3,1341.3 646.6,1333.5 C646.9,1325.7 644.9,1315.1 643.0,1308.0 C641.1,1300.9 639.2,1296.4 635.0,1290.9 C630.8,1285.4 625.1,1278.7 618.0,1275.0 C610.9,1271.3 601.3,1269.6 592.5,1268.6 C583.7,1267.6 572.6,1268.0 565.0,1269.0 C557.4,1270.0 551.3,1272.5 546.6,1274.5 C541.9,1276.5 540.3,1278.8 537.0,1281.0 C533.7,1283.2 531.0,1288.9 527.0,1287.6Z" fill="#4d4d4d"/>
<path d="M523.0,1287.8 C519.3,1286.7 515.3,1278.2 510.1,1275.1 C504.8,1272.0 498.0,1270.3 491.6,1269.4 C485.1,1268.5 478.4,1268.7 471.4,1269.7 C464.5,1270.6 456.6,1272.3 450.0,1275.1 C443.5,1277.9 436.9,1281.3 432.1,1286.4 C427.3,1291.5 423.7,1298.7 421.4,1305.6 C419.1,1312.5 418.6,1321.0 418.4,1327.9 C418.3,1334.7 419.2,1340.9 420.5,1346.6 C421.7,1352.3 423.1,1357.4 426.0,1362.2 C428.9,1367.0 433.5,1371.6 438.0,1375.4 C442.6,1379.2 445.9,1381.8 453.3,1385.0 C460.6,1388.2 472.8,1392.5 482.3,1394.6 C491.9,1396.8 500.8,1397.7 510.8,1397.9 C520.8,1398.1 532.8,1397.1 542.4,1395.9 C551.9,1394.7 559.5,1393.5 568.2,1390.8 C577.0,1388.1 587.4,1384.1 595.0,1379.8 C602.6,1375.5 608.2,1370.5 613.8,1365.0 C619.3,1359.4 625.0,1352.8 628.3,1346.6 C631.5,1340.4 633.1,1334.7 633.4,1327.9 C633.7,1321.0 631.9,1311.8 630.1,1305.6 C628.3,1299.4 626.6,1295.5 622.7,1290.7 C618.9,1285.9 613.6,1280.1 607.0,1276.8 C600.5,1273.6 591.6,1272.1 583.5,1271.2 C575.3,1270.4 565.1,1270.7 558.1,1271.6 C551.0,1272.5 545.4,1274.6 541.1,1276.4 C536.8,1278.1 535.2,1280.2 532.2,1282.1 C529.2,1284.0 526.7,1289.0 523.0,1287.8Z" fill="#d9d9d9" stroke="#8a8a8a" stroke-width="3.74"/>
<path d="M419.4,1328.0 L453.0,1321.0 L418.6,1322.0Z" fill="#8a8a8a" opacity="0.75"/>
<path d="M436.6,1380.5 L463.0,1360.0 L433.4,1375.5Z" fill="#8a8a8a" opacity="0.75"/>
<path d="M473.5,1402.6 L484.0,1381.0 L468.5,1399.4Z" fill="#8a8a8a" opacity="0.75"/>
<path d="M546.0,1405.6 L540.0,1384.0 L540.0,1406.4Z" fill="#8a8a8a" opacity="0.75"/>
<path d="M597.4,1393.1 L580.0,1376.0 L592.6,1396.9Z" fill="#8a8a8a" opacity="0.75"/>
<path d="M636.1,1348.2 L606.0,1340.0 L633.9,1353.8Z" fill="#8a8a8a" opacity="0.75"/>
<path d="M624.1,1290.1 L596.0,1302.0 L625.9,1295.9Z" fill="#8a8a8a" opacity="0.75"/>
<path d="M441.9,1295.8 L470.0,1304.0 L444.1,1290.2Z" fill="#8a8a8a" opacity="0.75"/>
<path d="M519,1283 L535,1283 L534,1292 L520,1292Z" fill="#d6d6d6"/>
<path d="M520.5,1278 Q520,1288 515,1291 M533.5,1278 Q534,1288 539,1291" fill="none" stroke="#6f6f6f" stroke-width="1.8"/>
<path d="M864.6,1274.5 C860.2,1272.9 855.3,1261.2 849.0,1257.0 C842.6,1252.8 834.4,1250.4 826.6,1249.2 C818.8,1248.0 810.5,1248.3 802.1,1249.6 C793.7,1250.9 784.1,1253.2 776.2,1257.0 C768.2,1260.8 760.2,1265.6 754.4,1272.6 C748.6,1279.6 744.2,1289.5 741.4,1299.0 C738.7,1308.5 738.0,1320.2 737.9,1329.6 C737.7,1339.0 738.8,1347.5 740.3,1355.4 C741.9,1363.3 743.5,1370.2 747.0,1376.8 C750.6,1383.4 756.1,1389.8 761.6,1395.0 C767.1,1400.2 771.1,1403.8 780.1,1408.2 C789.0,1412.6 803.7,1418.4 815.4,1421.4 C827.0,1424.4 837.7,1425.7 849.9,1426.0 C862.0,1426.3 876.5,1424.8 888.2,1423.2 C899.8,1421.6 908.9,1419.8 919.5,1416.1 C930.2,1412.4 942.8,1406.9 952.0,1401.0 C961.2,1395.1 968.0,1388.2 974.7,1380.6 C981.5,1373.0 988.3,1363.9 992.3,1355.4 C996.3,1346.9 998.2,1339.0 998.6,1329.6 C999.0,1320.2 996.7,1307.5 994.6,1299.0 C992.4,1290.5 990.3,1285.1 985.6,1278.5 C980.9,1271.9 974.5,1263.9 966.6,1259.4 C958.6,1254.9 947.9,1252.9 938.0,1251.7 C928.1,1250.5 915.8,1251.0 907.2,1252.2 C898.6,1253.4 891.8,1256.4 886.6,1258.8 C881.4,1261.2 879.5,1264.0 875.8,1266.6 C872.2,1269.2 869.1,1276.1 864.6,1274.5Z" fill="#f7c4c4" opacity="0.5" filter="url(#blur20)"/>
<path d="M857.4,1187.0 L857.2,1188.0 L856.9,1189.0 L856.7,1190.0 L856.6,1191.0 L856.4,1192.0 L856.4,1193.0 L856.3,1194.0 L856.3,1195.0 L856.4,1196.0 L856.4,1197.0 L856.6,1198.0 L856.7,1199.0 L856.9,1200.0 L857.1,1201.0 L857.4,1202.0 L857.7,1203.0 L858.0,1204.0 L858.3,1205.0 L858.6,1206.0 L858.9,1207.0 L859.2,1208.0 L859.5,1209.0 L859.7,1210.0 L860.0,1211.0 L860.2,1212.0 L860.4,1213.0 L860.5,1214.0 L860.6,1215.0 L860.7,1216.0 L860.7,1217.0 L860.7,1218.0 L860.6,1219.0 L860.5,1220.0 L860.4,1221.0 L860.2,1222.0 L860.0,1223.0 L859.7,1224.0 L859.5,1225.0 L859.2,1226.0 L858.9,1227.0 L858.6,1228.0 L858.3,1229.0 L858.0,1230.0 L857.7,1231.0 L857.4,1232.0 L857.2,1233.0 L856.9,1234.0 L856.7,1235.0 L856.6,1236.0 L856.4,1237.0 L856.4,1238.0 L856.3,1239.0 L856.3,1240.0 L856.4,1241.0 L856.4,1242.0 L856.6,1243.0 L856.7,1244.0 L856.9,1245.0 L857.1,1246.0 L857.4,1247.0 L857.7,1248.0 L858.0,1249.0 L858.3,1250.0 L858.6,1251.0 L858.9,1252.0 L859.2,1253.0 L859.5,1254.0 L859.7,1255.0 L860.0,1256.0 L860.2,1257.0 L860.4,1258.0 L860.5,1259.0 L860.6,1260.0 L860.7,1261.0 L860.7,1262.0 L860.7,1263.0 L860.6,1264.0 L860.5,1265.0 L860.4,1266.0 L860.2,1267.0 L860.0,1268.0 L859.7,1269.0 L859.5,1270.0 L859.2,1271.0 L858.9,1272.0 L858.6,1273.0 L858.3,1274.0 L858.0,1275.0 L857.7,1276.0 L857.4,1277.0 L857.2,1278.0 L856.9,1279.0 L856.7,1280.0 L856.6,1281.0 L856.4,1282.0 L856.4,1283.0 L856.3,1284.0 L856.3,1285.0 L856.4,1286.0 L856.4,1287.0 L856.6,1288.0 L856.7,1289.0 L856.9,1290.0 L857.1,1291.0 L857.4,1292.0 L857.7,1293.0 L858.0,1294.0 L870.4,1294.0 L870.4,1293.0 L870.5,1292.0 L870.6,1291.0 L870.8,1290.0 L870.9,1289.0 L871.0,1288.0 L871.2,1287.0 L871.4,1286.0 L871.5,1285.0 L871.7,1284.0 L871.9,1283.0 L872.0,1282.0 L872.2,1281.0 L872.3,1280.0 L872.4,1279.0 L872.5,1278.0 L872.6,1277.0 L872.7,1276.0 L872.7,1275.0 L872.7,1274.0 L872.7,1273.0 L872.7,1272.0 L872.6,1271.0 L872.5,1270.0 L872.4,1269.0 L872.3,1268.0 L872.2,1267.0 L872.0,1266.0 L871.9,1265.0 L871.7,1264.0 L871.6,1263.0 L871.4,1262.0 L871.2,1261.0 L871.1,1260.0 L870.9,1259.0 L870.8,1258.0 L870.6,1257.0 L870.5,1256.0 L870.4,1255.0 L870.4,1254.0 L870.3,1253.0 L870.3,1252.0 L870.3,1251.0 L870.3,1250.0 L870.4,1249.0 L870.4,1248.0 L870.5,1247.0 L870.6,1246.0 L870.8,1245.0 L870.9,1244.0 L871.0,1243.0 L871.2,1242.0 L871.4,1241.0 L871.5,1240.0 L871.7,1239.0 L871.9,1238.0 L872.0,1237.0 L872.2,1236.0 L872.3,1235.0 L872.4,1234.0 L872.5,1233.0 L872.6,1232.0 L872.7,1231.0 L872.7,1230.0 L872.7,1229.0 L872.7,1228.0 L872.7,1227.0 L872.6,1226.0 L872.5,1225.0 L872.4,1224.0 L872.3,1223.0 L872.2,1222.0 L872.0,1221.0 L871.9,1220.0 L871.7,1219.0 L871.6,1218.0 L871.4,1217.0 L871.2,1216.0 L871.1,1215.0 L870.9,1214.0 L870.8,1213.0 L870.6,1212.0 L870.5,1211.0 L870.4,1210.0 L870.4,1209.0 L870.3,1208.0 L870.3,1207.0 L870.3,1206.0 L870.3,1205.0 L870.4,1204.0 L870.4,1203.0 L870.5,1202.0 L870.6,1201.0 L870.8,1200.0 L870.9,1199.0 L871.0,1198.0 L871.2,1197.0 L871.4,1196.0 L871.5,1195.0 L871.7,1194.0 L871.9,1193.0 L872.0,1192.0 L872.2,1191.0 L872.3,1190.0 L872.4,1189.0 L872.5,1188.0 L872.6,1187.0Z" fill="#f8dcdf"/>
<path d="M857.4,1187.0 L857.2,1188.0 L856.9,1189.0 L856.7,1190.0 L856.6,1191.0 L856.4,1192.0 L856.4,1193.0 L856.3,1194.0 L856.3,1195.0 L856.4,1196.0 L856.4,1197.0 L856.6,1198.0 L856.7,1199.0 L856.9,1200.0 L857.1,1201.0 L857.4,1202.0 L857.7,1203.0 L858.0,1204.0 L858.3,1205.0 L858.6,1206.0 L858.9,1207.0 L859.2,1208.0 L859.5,1209.0 L859.7,1210.0 L860.0,1211.0 L860.2,1212.0 L860.4,1213.0 L860.5,1214.0 L860.6,1215.0 L860.7,1216.0 L860.7,1217.0 L860.7,1218.0 L860.6,1219.0 L860.5,1220.0 L860.4,1221.0 L860.2,1222.0 L860.0,1223.0 L859.7,1224.0 L859.5,1225.0 L859.2,1226.0 L858.9,1227.0 L858.6,1228.0 L858.3,1229.0 L858.0,1230.0 L857.7,1231.0 L857.4,1232.0 L857.2,1233.0 L856.9,1234.0 L856.7,1235.0 L856.6,1236.0 L856.4,1237.0 L856.4,1238.0 L856.3,1239.0 L856.3,1240.0 L856.4,1241.0 L856.4,1242.0 L856.6,1243.0 L856.7,1244.0 L856.9,1245.0 L857.1,1246.0 L857.4,1247.0 L857.7,1248.0 L858.0,1249.0 L858.3,1250.0 L858.6,1251.0 L858.9,1252.0 L859.2,1253.0 L859.5,1254.0 L859.7,1255.0 L860.0,1256.0 L860.2,1257.0 L860.4,1258.0 L860.5,1259.0 L860.6,1260.0 L860.7,1261.0 L860.7,1262.0 L860.7,1263.0 L860.6,1264.0 L860.5,1265.0 L860.4,1266.0 L860.2,1267.0 L860.0,1268.0 L859.7,1269.0 L859.5,1270.0 L859.2,1271.0 L858.9,1272.0 L858.6,1273.0 L858.3,1274.0 L858.0,1275.0 L857.7,1276.0 L857.4,1277.0 L857.2,1278.0 L856.9,1279.0 L856.7,1280.0 L856.6,1281.0 L856.4,1282.0 L856.4,1283.0 L856.3,1284.0 L856.3,1285.0 L856.4,1286.0 L856.4,1287.0 L856.6,1288.0 L856.7,1289.0 L856.9,1290.0 L857.1,1291.0 L857.4,1292.0 L857.7,1293.0 L858.0,1294.0 M872.6,1187.0 L872.5,1188.0 L872.4,1189.0 L872.3,1190.0 L872.2,1191.0 L872.0,1192.0 L871.9,1193.0 L871.7,1194.0 L871.5,1195.0 L871.4,1196.0 L871.2,1197.0 L871.0,1198.0 L870.9,1199.0 L870.8,1200.0 L870.6,1201.0 L870.5,1202.0 L870.4,1203.0 L870.4,1204.0 L870.3,1205.0 L870.3,1206.0 L870.3,1207.0 L870.3,1208.0 L870.4,1209.0 L870.4,1210.0 L870.5,1211.0 L870.6,1212.0 L870.8,1213.0 L870.9,1214.0 L871.1,1215.0 L871.2,1216.0 L871.4,1217.0 L871.6,1218.0 L871.7,1219.0 L871.9,1220.0 L872.0,1221.0 L872.2,1222.0 L872.3,1223.0 L872.4,1224.0 L872.5,1225.0 L872.6,1226.0 L872.7,1227.0 L872.7,1228.0 L872.7,1229.0 L872.7,1230.0 L872.7,1231.0 L872.6,1232.0 L872.5,1233.0 L872.4,1234.0 L872.3,1235.0 L872.2,1236.0 L872.0,1237.0 L871.9,1238.0 L871.7,1239.0 L871.5,1240.0 L871.4,1241.0 L871.2,1242.0 L871.0,1243.0 L870.9,1244.0 L870.8,1245.0 L870.6,1246.0 L870.5,1247.0 L870.4,1248.0 L870.4,1249.0 L870.3,1250.0 L870.3,1251.0 L870.3,1252.0 L870.3,1253.0 L870.4,1254.0 L870.4,1255.0 L870.5,1256.0 L870.6,1257.0 L870.8,1258.0 L870.9,1259.0 L871.1,1260.0 L871.2,1261.0 L871.4,1262.0 L871.6,1263.0 L871.7,1264.0 L871.9,1265.0 L872.0,1266.0 L872.2,1267.0 L872.3,1268.0 L872.4,1269.0 L872.5,1270.0 L872.6,1271.0 L872.7,1272.0 L872.7,1273.0 L872.7,1274.0 L872.7,1275.0 L872.7,1276.0 L872.6,1277.0 L872.5,1278.0 L872.4,1279.0 L872.3,1280.0 L872.2,1281.0 L872.0,1282.0 L871.9,1283.0 L871.7,1284.0 L871.5,1285.0 L871.4,1286.0 L871.2,1287.0 L871.0,1288.0 L870.9,1289.0 L870.8,1290.0 L870.6,1291.0 L870.5,1292.0 L870.4,1293.0 L870.4,1294.0" fill="none" stroke="#d4848b" stroke-width="1.8"/>
<path d="M704.2,1327.4 L705.3,1327.9 L706.3,1328.2 L707.3,1328.5 L708.3,1328.6 L709.3,1328.5 L710.3,1328.3 L711.3,1327.9 L712.3,1327.4 L713.2,1326.8 L714.2,1326.1 L715.2,1325.5 L716.1,1324.9 L717.1,1324.4 L718.1,1324.0 L719.1,1323.8 L720.1,1323.8 L721.1,1323.9 L722.1,1324.2 L723.1,1324.6 L724.2,1325.1 L725.2,1325.7 L726.2,1326.2 L727.3,1326.7 L728.3,1327.1 L729.3,1327.3 L730.3,1327.4 L731.3,1327.3 L732.3,1327.1 L733.3,1326.7 L734.3,1326.2 L735.2,1325.6 L736.2,1324.9 L737.2,1324.3 L738.1,1323.7 L739.1,1323.2 L740.1,1322.8 L741.1,1322.6 L742.1,1322.6 L743.1,1322.7 L744.1,1323.0 L745.1,1323.4 L746.2,1323.9 L747.2,1324.5 L748.2,1325.0 L749.3,1325.5 L750.3,1325.9 L751.3,1326.1 L752.3,1326.2 L753.3,1326.1 L754.3,1325.9 L755.3,1325.5 L756.3,1325.0 L757.2,1324.4 L758.2,1323.7 L759.2,1323.1 L758.8,1316.9 L757.8,1317.2 L756.9,1317.5 L755.9,1317.7 L754.9,1317.8 L753.9,1317.8 L752.9,1317.7 L751.8,1317.5 L750.8,1317.2 L749.8,1316.9 L748.8,1316.6 L747.8,1316.2 L746.7,1316.0 L745.7,1315.8 L744.7,1315.7 L743.7,1315.7 L742.7,1315.9 L741.7,1316.1 L740.7,1316.4 L739.8,1316.8 L738.8,1317.2 L737.8,1317.7 L736.8,1318.1 L735.8,1318.4 L734.9,1318.7 L733.9,1318.9 L732.9,1319.0 L731.9,1319.0 L730.9,1318.9 L729.8,1318.7 L728.8,1318.4 L727.8,1318.1 L726.8,1317.7 L725.8,1317.4 L724.7,1317.2 L723.7,1317.0 L722.7,1316.9 L721.7,1316.9 L720.7,1317.1 L719.7,1317.3 L718.8,1317.6 L717.8,1318.0 L716.8,1318.4 L715.8,1318.9 L714.8,1319.3 L713.8,1319.6 L712.9,1319.9 L711.9,1320.1 L710.9,1320.2 L709.9,1320.2 L708.9,1320.1 L707.8,1319.9 L706.8,1319.6 L705.8,1319.3 L704.8,1318.9 L703.8,1318.6Z" fill="#f8dcdf"/>
<path d="M704.2,1327.4 L705.3,1327.9 L706.3,1328.2 L707.3,1328.5 L708.3,1328.6 L709.3,1328.5 L710.3,1328.3 L711.3,1327.9 L712.3,1327.4 L713.2,1326.8 L714.2,1326.1 L715.2,1325.5 L716.1,1324.9 L717.1,1324.4 L718.1,1324.0 L719.1,1323.8 L720.1,1323.8 L721.1,1323.9 L722.1,1324.2 L723.1,1324.6 L724.2,1325.1 L725.2,1325.7 L726.2,1326.2 L727.3,1326.7 L728.3,1327.1 L729.3,1327.3 L730.3,1327.4 L731.3,1327.3 L732.3,1327.1 L733.3,1326.7 L734.3,1326.2 L735.2,1325.6 L736.2,1324.9 L737.2,1324.3 L738.1,1323.7 L739.1,1323.2 L740.1,1322.8 L741.1,1322.6 L742.1,1322.6 L743.1,1322.7 L744.1,1323.0 L745.1,1323.4 L746.2,1323.9 L747.2,1324.5 L748.2,1325.0 L749.3,1325.5 L750.3,1325.9 L751.3,1326.1 L752.3,1326.2 L753.3,1326.1 L754.3,1325.9 L755.3,1325.5 L756.3,1325.0 L757.2,1324.4 L758.2,1323.7 L759.2,1323.1 M703.8,1318.6 L704.8,1318.9 L705.8,1319.3 L706.8,1319.6 L707.8,1319.9 L708.9,1320.1 L709.9,1320.2 L710.9,1320.2 L711.9,1320.1 L712.9,1319.9 L713.8,1319.6 L714.8,1319.3 L715.8,1318.9 L716.8,1318.4 L717.8,1318.0 L718.8,1317.6 L719.7,1317.3 L720.7,1317.1 L721.7,1316.9 L722.7,1316.9 L723.7,1317.0 L724.7,1317.2 L725.8,1317.4 L726.8,1317.7 L727.8,1318.1 L728.8,1318.4 L729.8,1318.7 L730.9,1318.9 L731.9,1319.0 L732.9,1319.0 L733.9,1318.9 L734.9,1318.7 L735.8,1318.4 L736.8,1318.1 L737.8,1317.7 L738.8,1317.2 L739.8,1316.8 L740.7,1316.4 L741.7,1316.1 L742.7,1315.9 L743.7,1315.7 L744.7,1315.7 L745.7,1315.8 L746.7,1316.0 L747.8,1316.2 L748.8,1316.6 L749.8,1316.9 L750.8,1317.2 L751.8,1317.5 L752.9,1317.7 L753.9,1317.8 L754.9,1317.8 L755.9,1317.7 L756.9,1317.5 L757.8,1317.2 L758.8,1316.9" fill="none" stroke="#d4848b" stroke-width="1.5"/>
<path d="M1019.8,1290.8 L1018.6,1290.6 L1017.5,1290.4 L1016.5,1290.4 L1015.4,1290.6 L1014.5,1290.9 L1013.5,1291.3 L1012.7,1292.0 L1011.8,1292.7 L1011.0,1293.6 L1010.2,1294.4 L1009.4,1295.3 L1008.6,1296.1 L1007.7,1296.8 L1006.8,1297.4 L1005.9,1297.8 L1004.9,1298.0 L1003.8,1298.0 L1002.7,1298.0 L1001.6,1297.8 L1000.5,1297.5 L999.3,1297.2 L998.2,1296.9 L997.1,1296.7 L996.0,1296.6 L994.9,1296.7 L993.9,1296.9 L993.0,1297.3 L992.1,1297.8 L991.2,1298.5 L990.4,1299.3 L989.6,1300.2 L988.8,1301.0 L988.0,1301.9 L987.1,1302.6 L986.2,1303.3 L985.3,1303.8 L984.4,1304.1 L983.3,1304.3 L982.3,1304.3 L981.2,1304.1 L980.0,1303.9 L978.9,1303.6 L977.7,1303.3 L976.6,1303.1 L975.5,1302.9 L978.0,1311.5 L979.1,1311.6 L980.2,1311.7 L981.3,1311.7 L982.3,1311.6 L983.3,1311.4 L984.3,1311.1 L985.3,1310.8 L986.2,1310.3 L987.1,1309.7 L987.9,1309.1 L988.8,1308.4 L989.7,1307.7 L990.6,1307.1 L991.5,1306.5 L992.4,1306.1 L993.3,1305.7 L994.3,1305.4 L995.3,1305.2 L996.4,1305.2 L997.4,1305.2 L998.5,1305.2 L999.6,1305.3 L1000.7,1305.4 L1001.8,1305.5 L1002.8,1305.4 L1003.8,1305.3 L1004.8,1305.1 L1005.8,1304.8 L1006.7,1304.3 L1007.7,1303.8 L1008.5,1303.2 L1009.4,1302.6 L1010.3,1301.9 L1011.1,1301.2 L1012.0,1300.6 L1012.9,1300.1 L1013.9,1299.7 L1014.8,1299.3 L1015.8,1299.1 L1016.9,1299.0 L1017.9,1298.9 L1019.0,1299.0 L1020.1,1299.0 L1021.2,1299.1 L1022.2,1299.2Z" fill="#f8dcdf"/>
<path d="M1019.8,1290.8 L1018.6,1290.6 L1017.5,1290.4 L1016.5,1290.4 L1015.4,1290.6 L1014.5,1290.9 L1013.5,1291.3 L1012.7,1292.0 L1011.8,1292.7 L1011.0,1293.6 L1010.2,1294.4 L1009.4,1295.3 L1008.6,1296.1 L1007.7,1296.8 L1006.8,1297.4 L1005.9,1297.8 L1004.9,1298.0 L1003.8,1298.0 L1002.7,1298.0 L1001.6,1297.8 L1000.5,1297.5 L999.3,1297.2 L998.2,1296.9 L997.1,1296.7 L996.0,1296.6 L994.9,1296.7 L993.9,1296.9 L993.0,1297.3 L992.1,1297.8 L991.2,1298.5 L990.4,1299.3 L989.6,1300.2 L988.8,1301.0 L988.0,1301.9 L987.1,1302.6 L986.2,1303.3 L985.3,1303.8 L984.4,1304.1 L983.3,1304.3 L982.3,1304.3 L981.2,1304.1 L980.0,1303.9 L978.9,1303.6 L977.7,1303.3 L976.6,1303.1 L975.5,1302.9 M1022.2,1299.2 L1021.2,1299.1 L1020.1,1299.0 L1019.0,1299.0 L1017.9,1298.9 L1016.9,1299.0 L1015.8,1299.1 L1014.8,1299.3 L1013.9,1299.7 L1012.9,1300.1 L1012.0,1300.6 L1011.1,1301.2 L1010.3,1301.9 L1009.4,1302.6 L1008.5,1303.2 L1007.7,1303.8 L1006.7,1304.3 L1005.8,1304.8 L1004.8,1305.1 L1003.8,1305.3 L1002.8,1305.4 L1001.8,1305.5 L1000.7,1305.4 L999.6,1305.3 L998.5,1305.2 L997.4,1305.2 L996.4,1305.2 L995.3,1305.2 L994.3,1305.4 L993.3,1305.7 L992.4,1306.1 L991.5,1306.5 L990.6,1307.1 L989.7,1307.7 L988.8,1308.4 L987.9,1309.1 L987.1,1309.7 L986.2,1310.3 L985.3,1310.8 L984.3,1311.1 L983.3,1311.4 L982.3,1311.6 L981.3,1311.7 L980.2,1311.7 L979.1,1311.6 L978.0,1311.5" fill="none" stroke="#d4848b" stroke-width="1.5"/>
<path d="M773.8,1434.2 L774.8,1433.6 L775.7,1432.9 L776.4,1432.2 L777.1,1431.4 L777.5,1430.6 L777.9,1429.6 L778.1,1428.6 L778.2,1427.5 L778.2,1426.3 L778.2,1425.1 L778.2,1424.0 L778.2,1422.8 L778.3,1421.8 L778.6,1420.7 L778.9,1419.8 L779.5,1418.9 L780.1,1418.1 L780.9,1417.4 L781.8,1416.8 L782.8,1416.2 L783.8,1415.6 L784.8,1415.1 L785.8,1414.5 L786.7,1413.8 L787.4,1413.1 L788.1,1412.3 L788.5,1411.4 L788.9,1410.5 L789.1,1409.4 L789.2,1408.3 L789.2,1407.2 L789.2,1406.0 L789.2,1404.8 L789.2,1403.7 L789.3,1402.6 L789.6,1401.6 L789.9,1400.7 L790.5,1399.8 L791.1,1399.0 L791.9,1398.3 L792.9,1397.7 L793.8,1397.1 L794.9,1396.5 L795.9,1396.0 L796.8,1395.4 L797.7,1394.7 L789.9,1390.2 L789.1,1390.9 L788.2,1391.6 L787.5,1392.3 L786.8,1393.0 L786.1,1393.8 L785.6,1394.7 L785.1,1395.6 L784.8,1396.5 L784.5,1397.5 L784.3,1398.6 L784.1,1399.6 L783.9,1400.7 L783.8,1401.7 L783.5,1402.8 L783.3,1403.8 L782.9,1404.7 L782.4,1405.6 L781.9,1406.4 L781.2,1407.2 L780.5,1407.9 L779.7,1408.6 L778.9,1409.3 L778.0,1410.0 L777.2,1410.7 L776.4,1411.4 L775.7,1412.2 L775.1,1413.0 L774.6,1413.8 L774.1,1414.7 L773.8,1415.7 L773.5,1416.7 L773.3,1417.7 L773.1,1418.8 L773.0,1419.8 L772.8,1420.9 L772.6,1421.9 L772.3,1422.9 L771.9,1423.8 L771.4,1424.7 L770.9,1425.5 L770.2,1426.3 L769.5,1427.1 L768.7,1427.8 L767.9,1428.5 L767.0,1429.1 L766.2,1429.8Z" fill="#f8dcdf"/>
<path d="M773.8,1434.2 L774.8,1433.6 L775.7,1432.9 L776.4,1432.2 L777.1,1431.4 L777.5,1430.6 L777.9,1429.6 L778.1,1428.6 L778.2,1427.5 L778.2,1426.3 L778.2,1425.1 L778.2,1424.0 L778.2,1422.8 L778.3,1421.8 L778.6,1420.7 L778.9,1419.8 L779.5,1418.9 L780.1,1418.1 L780.9,1417.4 L781.8,1416.8 L782.8,1416.2 L783.8,1415.6 L784.8,1415.1 L785.8,1414.5 L786.7,1413.8 L787.4,1413.1 L788.1,1412.3 L788.5,1411.4 L788.9,1410.5 L789.1,1409.4 L789.2,1408.3 L789.2,1407.2 L789.2,1406.0 L789.2,1404.8 L789.2,1403.7 L789.3,1402.6 L789.6,1401.6 L789.9,1400.7 L790.5,1399.8 L791.1,1399.0 L791.9,1398.3 L792.9,1397.7 L793.8,1397.1 L794.9,1396.5 L795.9,1396.0 L796.8,1395.4 L797.7,1394.7 M766.2,1429.8 L767.0,1429.1 L767.9,1428.5 L768.7,1427.8 L769.5,1427.1 L770.2,1426.3 L770.9,1425.5 L771.4,1424.7 L771.9,1423.8 L772.3,1422.9 L772.6,1421.9 L772.8,1420.9 L773.0,1419.8 L773.1,1418.8 L773.3,1417.7 L773.5,1416.7 L773.8,1415.7 L774.1,1414.7 L774.6,1413.8 L775.1,1413.0 L775.7,1412.2 L776.4,1411.4 L777.2,1410.7 L778.0,1410.0 L778.9,1409.3 L779.7,1408.6 L780.5,1407.9 L781.2,1407.2 L781.9,1406.4 L782.4,1405.6 L782.9,1404.7 L783.3,1403.8 L783.5,1402.8 L783.8,1401.7 L783.9,1400.7 L784.1,1399.6 L784.3,1398.6 L784.5,1397.5 L784.8,1396.5 L785.1,1395.6 L785.6,1394.7 L786.1,1393.8 L786.8,1393.0 L787.5,1392.3 L788.2,1391.6 L789.1,1390.9 L789.9,1390.2" fill="none" stroke="#d4848b" stroke-width="1.5"/>
<path d="M931.1,1443.5 L931.3,1442.4 L931.4,1441.3 L931.3,1440.2 L931.1,1439.2 L930.8,1438.3 L930.3,1437.4 L929.6,1436.5 L928.8,1435.7 L927.9,1435.0 L927.0,1434.2 L926.1,1433.5 L925.3,1432.7 L924.5,1431.9 L923.9,1431.0 L923.4,1430.1 L923.2,1429.1 L923.0,1428.1 L923.0,1427.0 L923.2,1425.9 L923.4,1424.7 L923.6,1423.6 L923.8,1422.4 L924.0,1421.3 L924.0,1420.2 L923.9,1419.1 L923.7,1418.1 L923.2,1417.2 L922.7,1416.3 L921.9,1415.5 L921.1,1414.7 L920.2,1414.0 L919.3,1413.2 L918.4,1412.5 L917.6,1411.7 L916.9,1410.8 L916.4,1410.0 L916.0,1409.0 L915.7,1408.0 L915.7,1407.0 L915.7,1405.9 L915.9,1404.7 L916.1,1403.6 L916.3,1402.4 L916.5,1401.3 L916.6,1400.2 L916.6,1399.1 L916.5,1398.1 L908.2,1401.0 L908.2,1402.1 L908.2,1403.2 L908.1,1404.3 L908.1,1405.3 L908.2,1406.4 L908.3,1407.4 L908.6,1408.4 L908.9,1409.4 L909.4,1410.3 L909.9,1411.2 L910.6,1412.0 L911.2,1412.9 L911.9,1413.7 L912.6,1414.5 L913.3,1415.4 L913.9,1416.2 L914.4,1417.1 L914.9,1418.0 L915.2,1419.0 L915.4,1420.0 L915.5,1421.0 L915.6,1422.1 L915.5,1423.2 L915.5,1424.3 L915.5,1425.4 L915.5,1426.4 L915.6,1427.5 L915.8,1428.5 L916.1,1429.5 L916.5,1430.4 L916.9,1431.3 L917.5,1432.2 L918.2,1433.0 L918.9,1433.9 L919.6,1434.7 L920.3,1435.5 L920.9,1436.4 L921.5,1437.3 L922.0,1438.2 L922.4,1439.1 L922.6,1440.1 L922.8,1441.1 L922.9,1442.1 L922.9,1443.2 L922.9,1444.3 L922.9,1445.4 L922.9,1446.5Z" fill="#f8dcdf"/>
<path d="M931.1,1443.5 L931.3,1442.4 L931.4,1441.3 L931.3,1440.2 L931.1,1439.2 L930.8,1438.3 L930.3,1437.4 L929.6,1436.5 L928.8,1435.7 L927.9,1435.0 L927.0,1434.2 L926.1,1433.5 L925.3,1432.7 L924.5,1431.9 L923.9,1431.0 L923.4,1430.1 L923.2,1429.1 L923.0,1428.1 L923.0,1427.0 L923.2,1425.9 L923.4,1424.7 L923.6,1423.6 L923.8,1422.4 L924.0,1421.3 L924.0,1420.2 L923.9,1419.1 L923.7,1418.1 L923.2,1417.2 L922.7,1416.3 L921.9,1415.5 L921.1,1414.7 L920.2,1414.0 L919.3,1413.2 L918.4,1412.5 L917.6,1411.7 L916.9,1410.8 L916.4,1410.0 L916.0,1409.0 L915.7,1408.0 L915.7,1407.0 L915.7,1405.9 L915.9,1404.7 L916.1,1403.6 L916.3,1402.4 L916.5,1401.3 L916.6,1400.2 L916.6,1399.1 L916.5,1398.1 M922.9,1446.5 L922.9,1445.4 L922.9,1444.3 L922.9,1443.2 L922.9,1442.1 L922.8,1441.1 L922.6,1440.1 L922.4,1439.1 L922.0,1438.2 L921.5,1437.3 L920.9,1436.4 L920.3,1435.5 L919.6,1434.7 L918.9,1433.9 L918.2,1433.0 L917.5,1432.2 L916.9,1431.3 L916.5,1430.4 L916.1,1429.5 L915.8,1428.5 L915.6,1427.5 L915.5,1426.4 L915.5,1425.4 L915.5,1424.3 L915.5,1423.2 L915.6,1422.1 L915.5,1421.0 L915.4,1420.0 L915.2,1419.0 L914.9,1418.0 L914.4,1417.1 L913.9,1416.2 L913.3,1415.4 L912.6,1414.5 L911.9,1413.7 L911.2,1412.9 L910.6,1412.0 L909.9,1411.2 L909.4,1410.3 L908.9,1409.4 L908.6,1408.4 L908.3,1407.4 L908.2,1406.4 L908.1,1405.3 L908.1,1404.3 L908.2,1403.2 L908.2,1402.1 L908.2,1401.0" fill="none" stroke="#d4848b" stroke-width="1.5"/>
<path d="M865.0,1286.6 C861.0,1285.3 856.7,1275.5 851.0,1272.0 C845.3,1268.5 838.0,1266.5 831.0,1265.5 C824.0,1264.5 816.7,1264.7 809.2,1265.8 C801.7,1266.9 793.1,1268.8 786.0,1272.0 C778.9,1275.2 771.8,1279.2 766.6,1285.0 C761.4,1290.8 757.5,1299.1 755.0,1307.0 C752.5,1314.9 752.0,1324.7 751.8,1332.5 C751.6,1340.3 752.6,1347.5 754.0,1354.0 C755.4,1360.5 756.8,1366.3 760.0,1371.8 C763.2,1377.3 768.1,1382.6 773.0,1387.0 C777.9,1391.4 781.5,1394.3 789.5,1398.0 C797.5,1401.7 810.6,1406.5 821.0,1409.0 C831.4,1411.5 841.0,1412.5 851.8,1412.8 C862.6,1413.0 875.6,1411.9 886.0,1410.5 C896.4,1409.1 904.5,1407.7 914.0,1404.6 C923.5,1401.5 934.8,1396.9 943.0,1392.0 C951.2,1387.1 957.3,1381.3 963.3,1375.0 C969.3,1368.7 975.5,1361.1 979.0,1354.0 C982.5,1346.9 984.3,1340.3 984.6,1332.5 C984.9,1324.7 982.9,1314.1 981.0,1307.0 C979.1,1299.9 977.2,1295.4 973.0,1289.9 C968.8,1284.4 963.1,1277.7 956.0,1274.0 C948.9,1270.3 939.3,1268.6 930.5,1267.6 C921.7,1266.6 910.6,1267.0 903.0,1268.0 C895.4,1269.0 889.3,1271.5 884.6,1273.5 C879.9,1275.5 878.3,1277.8 875.0,1280.0 C871.7,1282.2 869.0,1287.9 865.0,1286.6Z" fill="#d26e76"/>
<path d="M861.2,1286.8 C857.5,1285.6 853.5,1277.1 848.2,1274.0 C843.0,1270.9 836.1,1269.1 829.7,1268.2 C823.2,1267.3 816.4,1267.6 809.4,1268.5 C802.5,1269.5 794.5,1271.1 787.9,1274.0 C781.3,1276.8 774.7,1280.3 769.9,1285.4 C765.1,1290.5 761.4,1297.8 759.1,1304.8 C756.8,1311.7 756.3,1320.3 756.2,1327.2 C756.0,1334.1 756.9,1340.4 758.2,1346.1 C759.5,1351.9 760.8,1356.9 763.8,1361.8 C766.7,1366.6 771.3,1371.3 775.8,1375.2 C780.4,1379.0 783.7,1381.6 791.2,1384.8 C798.6,1388.1 810.7,1392.3 820.4,1394.5 C830.0,1396.7 838.9,1397.6 849.0,1397.9 C859.0,1398.1 871.1,1397.0 880.7,1395.8 C890.3,1394.6 897.9,1393.4 906.7,1390.6 C915.5,1387.9 926.0,1383.9 933.6,1379.6 C941.2,1375.2 946.9,1370.2 952.4,1364.6 C958.0,1359.0 963.7,1352.4 967.0,1346.1 C970.3,1339.9 971.9,1334.1 972.2,1327.2 C972.5,1320.3 970.7,1311.0 968.9,1304.8 C967.1,1298.5 965.3,1294.6 961.4,1289.7 C957.6,1284.9 952.2,1279.0 945.7,1275.7 C939.1,1272.4 930.2,1271.0 922.0,1270.1 C913.8,1269.2 903.6,1269.6 896.5,1270.4 C889.4,1271.3 883.7,1273.5 879.4,1275.3 C875.1,1277.0 873.5,1279.1 870.5,1281.0 C867.5,1282.9 864.9,1288.0 861.2,1286.8Z" fill="#fdeded" stroke="#e7a3a8" stroke-width="3.5200000000000005"/>
<path d="M757.4,1327.0 L791.0,1320.0 L756.6,1321.0Z" fill="#e7a3a8" opacity="0.75"/>
<path d="M774.6,1379.5 L801.0,1359.0 L771.4,1374.5Z" fill="#e7a3a8" opacity="0.75"/>
<path d="M811.5,1401.6 L822.0,1380.0 L806.5,1398.4Z" fill="#e7a3a8" opacity="0.75"/>
<path d="M884.0,1404.6 L878.0,1383.0 L878.0,1405.4Z" fill="#e7a3a8" opacity="0.75"/>
<path d="M935.4,1392.1 L918.0,1375.0 L930.6,1395.9Z" fill="#e7a3a8" opacity="0.75"/>
<path d="M974.1,1347.2 L944.0,1339.0 L971.9,1352.8Z" fill="#e7a3a8" opacity="0.75"/>
<path d="M962.1,1289.1 L934.0,1301.0 L963.9,1294.9Z" fill="#e7a3a8" opacity="0.75"/>
<path d="M779.9,1294.8 L808.0,1303.0 L782.1,1289.2Z" fill="#e7a3a8" opacity="0.75"/>
<path d="M857,1282 L873,1282 L872,1291 L858,1291Z" fill="#f8dcdf"/>
<path d="M858.5,1277 Q858,1287 853,1290 M871.5,1277 Q872,1287 877,1290" fill="none" stroke="#d4848b" stroke-width="1.8"/>
<text x="100.3" y="1307.5" font-size="20.1" fill="#111" text-anchor="start" font-weight="normal" textLength="51" lengthAdjust="spacingAndGlyphs" stroke="#111" stroke-width="0.35" >miDC</text>
<text x="213.4" y="1316.7" font-size="20.1" fill="#111" text-anchor="start" font-weight="normal" textLength="31.8" lengthAdjust="spacingAndGlyphs" stroke="#111" stroke-width="0.35" >Tfh</text>
<text x="51" y="1394.4" font-size="20.1" fill="#111" text-anchor="start" font-weight="normal" textLength="52" lengthAdjust="spacingAndGlyphs" stroke="#111" stroke-width="0.35" >B cell</text>
<path d="M160.9,1325.7 Q152.9,1320.4 146.4,1318.9 M160.9,1325.7 Q159.1,1316.9 155.8,1311.6 M160.9,1325.7 Q165.5,1318.7 166.8,1313.0 M160.9,1325.7 Q164.2,1334.1 168.4,1338.7 M160.9,1325.7 Q157.1,1334.5 156.8,1341.2 M160.9,1325.7 Q153.1,1328.8 148.8,1332.7 M160.9,1325.7 Q168.2,1322.9 172.2,1319.2" stroke="#8581c0" stroke-width="2.6" stroke-linecap="round" fill="none"/>
<circle cx="160.9" cy="1325.7" r="10.5" fill="#8985c2"/><ellipse cx="159.4" cy="1325.7" rx="5" ry="5.8" fill="#5f5b96"/>
<circle cx="193.2" cy="1324.7" r="19" fill="url(#thalo)"/>
<circle cx="193.2" cy="1324.7" r="11.5" fill="#a9c6ee" stroke="#8fb0e0" stroke-width="1.2"/><circle cx="193.2" cy="1324.7" r="7.5" fill="#94b7ea"/>
<circle cx="200.9" cy="1311.3" r="1.4" fill="#2a9a90"/>
<circle cx="207.8" cy="1319.4" r="1.4" fill="#2a9a90"/>
<circle cx="207.8" cy="1330.0" r="1.4" fill="#2a9a90"/>
<circle cx="200.9" cy="1338.1" r="1.4" fill="#2a9a90"/>
<circle cx="190.5" cy="1340.0" r="1.4" fill="#2a9a90"/>
<circle cx="181.3" cy="1334.7" r="1.4" fill="#2a9a90"/>
<circle cx="178.6" cy="1319.4" r="1.4" fill="#2a9a90"/>
<circle cx="185.4" cy="1311.3" r="1.4" fill="#2a9a90"/>
<rect x="169.9" y="1321.7" width="8" height="2.6" fill="#7a3b8a"/><rect x="169.9" y="1324.7" width="8" height="2.6" fill="#3aa0a0"/><rect x="169.9" y="1327.9" width="8" height="2.6" fill="#e9a23a"/>
<path d="M164.9,1310.7 Q176.9,1300.7 188.9,1308.7" fill="none" stroke="#8a8a8a" stroke-width="1.4"/>
<circle cx="157.9" cy="1308.7" r="1" fill="#8a5ab0"/>
<circle cx="161.9" cy="1305.7" r="1" fill="#8a5ab0"/>
<circle cx="165.9" cy="1302.7" r="1" fill="#8a5ab0"/>
<circle cx="169.9" cy="1308.7" r="1" fill="#8a5ab0"/>
<circle cx="173.9" cy="1305.7" r="1" fill="#8a5ab0"/>
<circle cx="177.9" cy="1302.7" r="1" fill="#8a5ab0"/>
<circle cx="181.9" cy="1308.7" r="1" fill="#8a5ab0"/>
<circle cx="185.9" cy="1305.7" r="1" fill="#8a5ab0"/>
<circle cx="189.9" cy="1302.7" r="1" fill="#8a5ab0"/>
<path d="M165.7,1357.0 L165.7,1350.0 M165.7,1350.0 L162.8,1345.9 M165.7,1350.0 L168.6,1345.9 M177.8,1364.0 L183.9,1360.5 M183.9,1360.5 L186.0,1356.0 M183.9,1360.5 L188.9,1360.9 M177.8,1378.0 L183.9,1381.5 M183.9,1381.5 L188.9,1381.1 M183.9,1381.5 L186.0,1386.0 M165.7,1385.0 L165.7,1392.0 M165.7,1392.0 L168.6,1396.1 M165.7,1392.0 L162.8,1396.1 M153.6,1378.0 L147.5,1381.5 M147.5,1381.5 L145.4,1386.0 M147.5,1381.5 L142.5,1381.1 M153.6,1364.0 L147.5,1360.5 M147.5,1360.5 L142.5,1360.9 M147.5,1360.5 L145.4,1356.0" stroke="#eea04a" stroke-width="2.2" stroke-linecap="round" fill="none"/>
<circle cx="165.7" cy="1371" r="14.5" fill="#f6cb8a" stroke="#f0b870" stroke-width="1"/><circle cx="165.7" cy="1371" r="9" fill="#f0ae58"/>
<text x="432.7" y="1290" font-size="20.1" fill="#111" text-anchor="start" font-weight="normal" textLength="51" lengthAdjust="spacingAndGlyphs" stroke="#111" stroke-width="0.35" >miDC</text>
<text x="554.2" y="1290" font-size="20.1" fill="#111" text-anchor="start" font-weight="normal" textLength="31.8" lengthAdjust="spacingAndGlyphs" stroke="#111" stroke-width="0.35" >Tfh</text>
<text x="388.8" y="1395.2" font-size="20.1" fill="#111" text-anchor="start" font-weight="normal" textLength="52" lengthAdjust="spacingAndGlyphs" stroke="#111" stroke-width="0.35" >B cell</text>
<path d="M501.2,1278.0 Q493.2,1272.7 486.7,1271.2 M501.2,1278.0 Q499.4,1269.2 496.1,1263.9 M501.2,1278.0 Q505.8,1271.0 507.1,1265.3 M501.2,1278.0 Q504.5,1286.4 508.7,1291.0 M501.2,1278.0 Q497.4,1286.8 497.1,1293.5 M501.2,1278.0 Q493.4,1281.1 489.1,1285.0 M501.2,1278.0 Q508.5,1275.2 512.5,1271.5" stroke="#8581c0" stroke-width="2.6" stroke-linecap="round" fill="none"/>
<circle cx="501.2" cy="1278" r="10.5" fill="#8985c2"/><ellipse cx="499.7" cy="1278" rx="5" ry="5.8" fill="#5f5b96"/>
<circle cx="534.2" cy="1277" r="19" fill="url(#thalo)"/>
<circle cx="534.2" cy="1277" r="11.5" fill="#a9c6ee" stroke="#8fb0e0" stroke-width="1.2"/><circle cx="534.2" cy="1277" r="7.5" fill="#94b7ea"/>
<circle cx="542.0" cy="1263.6" r="1.4" fill="#2a9a90"/>
<circle cx="548.8" cy="1271.7" r="1.4" fill="#2a9a90"/>
<circle cx="548.8" cy="1282.3" r="1.4" fill="#2a9a90"/>
<circle cx="542.0" cy="1290.4" r="1.4" fill="#2a9a90"/>
<circle cx="531.5" cy="1292.3" r="1.4" fill="#2a9a90"/>
<circle cx="522.3" cy="1287.0" r="1.4" fill="#2a9a90"/>
<circle cx="519.6" cy="1271.7" r="1.4" fill="#2a9a90"/>
<circle cx="526.5" cy="1263.6" r="1.4" fill="#2a9a90"/>
<rect x="510.2" y="1274" width="8" height="2.6" fill="#7a3b8a"/><rect x="510.2" y="1277" width="8" height="2.6" fill="#3aa0a0"/><rect x="510.2" y="1280.2" width="8" height="2.6" fill="#e9a23a"/>
<path d="M505.2,1263 Q517.2,1253 529.2,1261" fill="none" stroke="#8a8a8a" stroke-width="1.4"/>
<circle cx="498.2" cy="1261.0" r="1" fill="#8a5ab0"/>
<circle cx="502.2" cy="1258.0" r="1" fill="#8a5ab0"/>
<circle cx="506.2" cy="1255.0" r="1" fill="#8a5ab0"/>
<circle cx="510.2" cy="1261.0" r="1" fill="#8a5ab0"/>
<circle cx="514.2" cy="1258.0" r="1" fill="#8a5ab0"/>
<circle cx="518.2" cy="1255.0" r="1" fill="#8a5ab0"/>
<circle cx="522.2" cy="1261.0" r="1" fill="#8a5ab0"/>
<circle cx="526.2" cy="1258.0" r="1" fill="#8a5ab0"/>
<circle cx="530.2" cy="1255.0" r="1" fill="#8a5ab0"/>
<path d="M468.0,1325.4 Q460.0,1320.1 453.5,1318.6 M468.0,1325.4 Q466.2,1316.6 462.9,1311.3 M468.0,1325.4 Q472.6,1318.4 473.9,1312.7 M468.0,1325.4 Q471.3,1333.8 475.5,1338.4 M468.0,1325.4 Q464.2,1334.2 463.9,1340.9 M468.0,1325.4 Q460.2,1328.5 455.9,1332.4 M468.0,1325.4 Q475.3,1322.6 479.3,1318.9" stroke="#8581c0" stroke-width="2.6" stroke-linecap="round" fill="none"/>
<circle cx="468" cy="1325.4" r="10.5" fill="#8985c2"/><ellipse cx="466.5" cy="1325.4" rx="5" ry="5.8" fill="#5f5b96"/>
<circle cx="502" cy="1324.4" r="19" fill="url(#thalo)"/>
<circle cx="502" cy="1324.4" r="11.5" fill="#a9c6ee" stroke="#8fb0e0" stroke-width="1.2"/><circle cx="502" cy="1324.4" r="7.5" fill="#94b7ea"/>
<circle cx="509.8" cy="1311.0" r="1.4" fill="#2a9a90"/>
<circle cx="516.6" cy="1319.1" r="1.4" fill="#2a9a90"/>
<circle cx="516.6" cy="1329.7" r="1.4" fill="#2a9a90"/>
<circle cx="509.8" cy="1337.8" r="1.4" fill="#2a9a90"/>
<circle cx="499.3" cy="1339.7" r="1.4" fill="#2a9a90"/>
<circle cx="490.1" cy="1334.4" r="1.4" fill="#2a9a90"/>
<circle cx="487.4" cy="1319.1" r="1.4" fill="#2a9a90"/>
<circle cx="494.2" cy="1311.0" r="1.4" fill="#2a9a90"/>
<rect x="477" y="1321.4" width="8" height="2.6" fill="#7a3b8a"/><rect x="477" y="1324.4" width="8" height="2.6" fill="#3aa0a0"/><rect x="477" y="1327.6000000000001" width="8" height="2.6" fill="#e9a23a"/>
<path d="M472,1310.4 Q484,1300.4 496,1308.4" fill="none" stroke="#8a8a8a" stroke-width="1.4"/>
<circle cx="465.0" cy="1308.4" r="1" fill="#8a5ab0"/>
<circle cx="469.0" cy="1305.4" r="1" fill="#8a5ab0"/>
<circle cx="473.0" cy="1302.4" r="1" fill="#8a5ab0"/>
<circle cx="477.0" cy="1308.4" r="1" fill="#8a5ab0"/>
<circle cx="481.0" cy="1305.4" r="1" fill="#8a5ab0"/>
<circle cx="485.0" cy="1302.4" r="1" fill="#8a5ab0"/>
<circle cx="489.0" cy="1308.4" r="1" fill="#8a5ab0"/>
<circle cx="493.0" cy="1305.4" r="1" fill="#8a5ab0"/>
<circle cx="497.0" cy="1302.4" r="1" fill="#8a5ab0"/>
<path d="M539.0,1325.4 Q531.0,1320.1 524.5,1318.6 M539.0,1325.4 Q537.2,1316.6 533.9,1311.3 M539.0,1325.4 Q543.6,1318.4 544.9,1312.7 M539.0,1325.4 Q542.3,1333.8 546.5,1338.4 M539.0,1325.4 Q535.2,1334.2 534.9,1340.9 M539.0,1325.4 Q531.2,1328.5 526.9,1332.4 M539.0,1325.4 Q546.3,1322.6 550.3,1318.9" stroke="#8581c0" stroke-width="2.6" stroke-linecap="round" fill="none"/>
<circle cx="539" cy="1325.4" r="10.5" fill="#8985c2"/><ellipse cx="537.5" cy="1325.4" rx="5" ry="5.8" fill="#5f5b96"/>
<circle cx="573" cy="1324.4" r="19" fill="url(#thalo)"/>
<circle cx="573" cy="1324.4" r="11.5" fill="#a9c6ee" stroke="#8fb0e0" stroke-width="1.2"/><circle cx="573" cy="1324.4" r="7.5" fill="#94b7ea"/>
<circle cx="580.8" cy="1311.0" r="1.4" fill="#2a9a90"/>
<circle cx="587.6" cy="1319.1" r="1.4" fill="#2a9a90"/>
<circle cx="587.6" cy="1329.7" r="1.4" fill="#2a9a90"/>
<circle cx="580.8" cy="1337.8" r="1.4" fill="#2a9a90"/>
<circle cx="570.3" cy="1339.7" r="1.4" fill="#2a9a90"/>
<circle cx="561.1" cy="1334.4" r="1.4" fill="#2a9a90"/>
<circle cx="558.4" cy="1319.1" r="1.4" fill="#2a9a90"/>
<circle cx="565.2" cy="1311.0" r="1.4" fill="#2a9a90"/>
<rect x="548" y="1321.4" width="8" height="2.6" fill="#7a3b8a"/><rect x="548" y="1324.4" width="8" height="2.6" fill="#3aa0a0"/><rect x="548" y="1327.6000000000001" width="8" height="2.6" fill="#e9a23a"/>
<path d="M543,1310.4 Q555,1300.4 567,1308.4" fill="none" stroke="#8a8a8a" stroke-width="1.4"/>
<circle cx="536.0" cy="1308.4" r="1" fill="#8a5ab0"/>
<circle cx="540.0" cy="1305.4" r="1" fill="#8a5ab0"/>
<circle cx="544.0" cy="1302.4" r="1" fill="#8a5ab0"/>
<circle cx="548.0" cy="1308.4" r="1" fill="#8a5ab0"/>
<circle cx="552.0" cy="1305.4" r="1" fill="#8a5ab0"/>
<circle cx="556.0" cy="1302.4" r="1" fill="#8a5ab0"/>
<circle cx="560.0" cy="1308.4" r="1" fill="#8a5ab0"/>
<circle cx="564.0" cy="1305.4" r="1" fill="#8a5ab0"/>
<circle cx="568.0" cy="1302.4" r="1" fill="#8a5ab0"/>
<path d="M494.4,1357.0 L494.4,1350.0 M494.4,1350.0 L491.5,1345.9 M494.4,1350.0 L497.3,1345.9 M506.5,1364.0 L512.6,1360.5 M512.6,1360.5 L514.7,1356.0 M512.6,1360.5 L517.6,1360.9 M506.5,1378.0 L512.6,1381.5 M512.6,1381.5 L517.6,1381.1 M512.6,1381.5 L514.7,1386.0 M494.4,1385.0 L494.4,1392.0 M494.4,1392.0 L497.3,1396.1 M494.4,1392.0 L491.5,1396.1 M482.3,1378.0 L476.2,1381.5 M476.2,1381.5 L474.1,1386.0 M476.2,1381.5 L471.2,1381.1 M482.3,1364.0 L476.2,1360.5 M476.2,1360.5 L471.2,1360.9 M476.2,1360.5 L474.1,1356.0" stroke="#eea04a" stroke-width="2.2" stroke-linecap="round" fill="none"/>
<circle cx="494.4" cy="1371" r="14.5" fill="#f6cb8a" stroke="#f0b870" stroke-width="1"/><circle cx="494.4" cy="1371" r="9" fill="#f0ae58"/>
<path d="M541.7,1357.0 L541.7,1350.0 M541.7,1350.0 L538.8,1345.9 M541.7,1350.0 L544.6,1345.9 M553.8,1364.0 L559.9,1360.5 M559.9,1360.5 L562.0,1356.0 M559.9,1360.5 L564.9,1360.9 M553.8,1378.0 L559.9,1381.5 M559.9,1381.5 L564.9,1381.1 M559.9,1381.5 L562.0,1386.0 M541.7,1385.0 L541.7,1392.0 M541.7,1392.0 L544.6,1396.1 M541.7,1392.0 L538.8,1396.1 M529.6,1378.0 L523.5,1381.5 M523.5,1381.5 L521.4,1386.0 M523.5,1381.5 L518.5,1381.1 M529.6,1364.0 L523.5,1360.5 M523.5,1360.5 L518.5,1360.9 M523.5,1360.5 L521.4,1356.0" stroke="#eea04a" stroke-width="2.2" stroke-linecap="round" fill="none"/>
<circle cx="541.7" cy="1371" r="14.5" fill="#f6cb8a" stroke="#f0b870" stroke-width="1"/><circle cx="541.7" cy="1371" r="9" fill="#f0ae58"/>
<path d="M487.7,1400.8 L487.7,1393.8 M487.7,1393.8 L484.8,1389.7 M487.7,1393.8 L490.6,1389.7 M499.8,1407.8 L505.9,1404.3 M505.9,1404.3 L508.0,1399.8 M505.9,1404.3 L510.9,1404.7 M499.8,1421.8 L505.9,1425.3 M505.9,1425.3 L510.9,1424.9 M505.9,1425.3 L508.0,1429.8 M487.7,1428.8 L487.7,1435.8 M487.7,1435.8 L490.6,1439.9 M487.7,1435.8 L484.8,1439.9 M475.6,1421.8 L469.5,1425.3 M469.5,1425.3 L467.4,1429.8 M469.5,1425.3 L464.5,1424.9 M475.6,1407.8 L469.5,1404.3 M469.5,1404.3 L464.5,1404.7 M469.5,1404.3 L467.4,1399.8" stroke="#eea04a" stroke-width="2.2" stroke-linecap="round" fill="none"/>
<circle cx="487.7" cy="1414.8" r="14.5" fill="#f6cb8a" stroke="#f0b870" stroke-width="1"/><circle cx="487.7" cy="1414.8" r="9" fill="#f0ae58"/>
<text x="747.6" y="1284.5" font-size="20.1" fill="#111" text-anchor="start" font-weight="normal" textLength="51" lengthAdjust="spacingAndGlyphs" stroke="#111" stroke-width="0.35" >miDC</text>
<text x="937.7" y="1270.4" font-size="20.1" fill="#111" text-anchor="start" font-weight="normal" textLength="31.8" lengthAdjust="spacingAndGlyphs" stroke="#111" stroke-width="0.35" >Tfh</text>
<text x="727.5" y="1394.3" font-size="20.1" fill="#111" text-anchor="start" font-weight="normal" textLength="52" lengthAdjust="spacingAndGlyphs" stroke="#111" stroke-width="0.35" >B cell</text>
<path d="M817.2,1277.0 Q809.2,1271.7 802.7,1270.2 M817.2,1277.0 Q815.4,1268.2 812.1,1262.9 M817.2,1277.0 Q821.8,1270.0 823.1,1264.3 M817.2,1277.0 Q820.5,1285.4 824.7,1290.0 M817.2,1277.0 Q813.4,1285.8 813.1,1292.5 M817.2,1277.0 Q809.4,1280.1 805.1,1284.0 M817.2,1277.0 Q824.5,1274.2 828.5,1270.5" stroke="#8581c0" stroke-width="2.6" stroke-linecap="round" fill="none"/>
<circle cx="817.2" cy="1277" r="10.5" fill="#8985c2"/><ellipse cx="815.7" cy="1277" rx="5" ry="5.8" fill="#5f5b96"/>
<circle cx="852.2" cy="1276" r="19" fill="url(#thalo)"/>
<circle cx="852.2" cy="1276" r="11.5" fill="#a9c6ee" stroke="#8fb0e0" stroke-width="1.2"/><circle cx="852.2" cy="1276" r="7.5" fill="#94b7ea"/>
<circle cx="860.0" cy="1262.6" r="1.4" fill="#2a9a90"/>
<circle cx="866.8" cy="1270.7" r="1.4" fill="#2a9a90"/>
<circle cx="866.8" cy="1281.3" r="1.4" fill="#2a9a90"/>
<circle cx="860.0" cy="1289.4" r="1.4" fill="#2a9a90"/>
<circle cx="849.5" cy="1291.3" r="1.4" fill="#2a9a90"/>
<circle cx="840.3" cy="1286.0" r="1.4" fill="#2a9a90"/>
<circle cx="837.6" cy="1270.7" r="1.4" fill="#2a9a90"/>
<circle cx="844.5" cy="1262.6" r="1.4" fill="#2a9a90"/>
<rect x="826.2" y="1273" width="8" height="2.6" fill="#7a3b8a"/><rect x="826.2" y="1276" width="8" height="2.6" fill="#3aa0a0"/><rect x="826.2" y="1279.2" width="8" height="2.6" fill="#e9a23a"/>
<path d="M821.2,1262 Q833.2,1252 845.2,1260" fill="none" stroke="#8a8a8a" stroke-width="1.4"/>
<circle cx="814.2" cy="1260.0" r="1" fill="#8a5ab0"/>
<circle cx="818.2" cy="1257.0" r="1" fill="#8a5ab0"/>
<circle cx="822.2" cy="1254.0" r="1" fill="#8a5ab0"/>
<circle cx="826.2" cy="1260.0" r="1" fill="#8a5ab0"/>
<circle cx="830.2" cy="1257.0" r="1" fill="#8a5ab0"/>
<circle cx="834.2" cy="1254.0" r="1" fill="#8a5ab0"/>
<circle cx="838.2" cy="1260.0" r="1" fill="#8a5ab0"/>
<circle cx="842.2" cy="1257.0" r="1" fill="#8a5ab0"/>
<circle cx="846.2" cy="1254.0" r="1" fill="#8a5ab0"/>
<path d="M885.8,1277.0 Q877.8,1271.7 871.3,1270.2 M885.8,1277.0 Q884.0,1268.2 880.7,1262.9 M885.8,1277.0 Q890.4,1270.0 891.7,1264.3 M885.8,1277.0 Q889.1,1285.4 893.3,1290.0 M885.8,1277.0 Q882.0,1285.8 881.7,1292.5 M885.8,1277.0 Q878.0,1280.1 873.7,1284.0 M885.8,1277.0 Q893.1,1274.2 897.1,1270.5" stroke="#8581c0" stroke-width="2.6" stroke-linecap="round" fill="none"/>
<circle cx="885.8" cy="1277" r="10.5" fill="#8985c2"/><ellipse cx="884.3" cy="1277" rx="5" ry="5.8" fill="#5f5b96"/>
<circle cx="919.8" cy="1276" r="19" fill="url(#thalo)"/>
<circle cx="919.8" cy="1276" r="11.5" fill="#a9c6ee" stroke="#8fb0e0" stroke-width="1.2"/><circle cx="919.8" cy="1276" r="7.5" fill="#94b7ea"/>
<circle cx="927.5" cy="1262.6" r="1.4" fill="#2a9a90"/>
<circle cx="934.4" cy="1270.7" r="1.4" fill="#2a9a90"/>
<circle cx="934.4" cy="1281.3" r="1.4" fill="#2a9a90"/>
<circle cx="927.5" cy="1289.4" r="1.4" fill="#2a9a90"/>
<circle cx="917.1" cy="1291.3" r="1.4" fill="#2a9a90"/>
<circle cx="907.9" cy="1286.0" r="1.4" fill="#2a9a90"/>
<circle cx="905.2" cy="1270.7" r="1.4" fill="#2a9a90"/>
<circle cx="912.0" cy="1262.6" r="1.4" fill="#2a9a90"/>
<rect x="894.8" y="1273" width="8" height="2.6" fill="#7a3b8a"/><rect x="894.8" y="1276" width="8" height="2.6" fill="#3aa0a0"/><rect x="894.8" y="1279.2" width="8" height="2.6" fill="#e9a23a"/>
<path d="M889.8,1262 Q901.8,1252 913.8,1260" fill="none" stroke="#8a8a8a" stroke-width="1.4"/>
<circle cx="882.8" cy="1260.0" r="1" fill="#8a5ab0"/>
<circle cx="886.8" cy="1257.0" r="1" fill="#8a5ab0"/>
<circle cx="890.8" cy="1254.0" r="1" fill="#8a5ab0"/>
<circle cx="894.8" cy="1260.0" r="1" fill="#8a5ab0"/>
<circle cx="898.8" cy="1257.0" r="1" fill="#8a5ab0"/>
<circle cx="902.8" cy="1254.0" r="1" fill="#8a5ab0"/>
<circle cx="906.8" cy="1260.0" r="1" fill="#8a5ab0"/>
<circle cx="910.8" cy="1257.0" r="1" fill="#8a5ab0"/>
<circle cx="914.8" cy="1254.0" r="1" fill="#8a5ab0"/>
<path d="M765.3,1322.3 Q757.3,1317.0 750.8,1315.5 M765.3,1322.3 Q763.5,1313.5 760.2,1308.2 M765.3,1322.3 Q769.9,1315.3 771.2,1309.6 M765.3,1322.3 Q768.6,1330.7 772.8,1335.3 M765.3,1322.3 Q761.5,1331.1 761.2,1337.8 M765.3,1322.3 Q757.5,1325.4 753.2,1329.3 M765.3,1322.3 Q772.6,1319.5 776.6,1315.8" stroke="#8581c0" stroke-width="2.6" stroke-linecap="round" fill="none"/>
<circle cx="765.3" cy="1322.3" r="10.5" fill="#8985c2"/><ellipse cx="763.8" cy="1322.3" rx="5" ry="5.8" fill="#5f5b96"/>
<circle cx="802.3" cy="1321.3" r="19" fill="url(#thalo)"/>
<circle cx="802.3" cy="1321.3" r="11.5" fill="#a9c6ee" stroke="#8fb0e0" stroke-width="1.2"/><circle cx="802.3" cy="1321.3" r="7.5" fill="#94b7ea"/>
<circle cx="810.0" cy="1307.9" r="1.4" fill="#2a9a90"/>
<circle cx="816.9" cy="1316.0" r="1.4" fill="#2a9a90"/>
<circle cx="816.9" cy="1326.6" r="1.4" fill="#2a9a90"/>
<circle cx="810.0" cy="1334.7" r="1.4" fill="#2a9a90"/>
<circle cx="799.6" cy="1336.6" r="1.4" fill="#2a9a90"/>
<circle cx="790.4" cy="1331.3" r="1.4" fill="#2a9a90"/>
<circle cx="787.7" cy="1316.0" r="1.4" fill="#2a9a90"/>
<circle cx="794.5" cy="1307.9" r="1.4" fill="#2a9a90"/>
<rect x="774.3" y="1318.3" width="8" height="2.6" fill="#7a3b8a"/><rect x="774.3" y="1321.3" width="8" height="2.6" fill="#3aa0a0"/><rect x="774.3" y="1324.5" width="8" height="2.6" fill="#e9a23a"/>
<path d="M769.3,1307.3 Q781.3,1297.3 793.3,1305.3" fill="none" stroke="#8a8a8a" stroke-width="1.4"/>
<circle cx="762.3" cy="1305.3" r="1" fill="#8a5ab0"/>
<circle cx="766.3" cy="1302.3" r="1" fill="#8a5ab0"/>
<circle cx="770.3" cy="1299.3" r="1" fill="#8a5ab0"/>
<circle cx="774.3" cy="1305.3" r="1" fill="#8a5ab0"/>
<circle cx="778.3" cy="1302.3" r="1" fill="#8a5ab0"/>
<circle cx="782.3" cy="1299.3" r="1" fill="#8a5ab0"/>
<circle cx="786.3" cy="1305.3" r="1" fill="#8a5ab0"/>
<circle cx="790.3" cy="1302.3" r="1" fill="#8a5ab0"/>
<circle cx="794.3" cy="1299.3" r="1" fill="#8a5ab0"/>
<path d="M840.6,1322.3 Q832.6,1317.0 826.1,1315.5 M840.6,1322.3 Q838.8,1313.5 835.5,1308.2 M840.6,1322.3 Q845.2,1315.3 846.5,1309.6 M840.6,1322.3 Q843.9,1330.7 848.1,1335.3 M840.6,1322.3 Q836.8,1331.1 836.5,1337.8 M840.6,1322.3 Q832.8,1325.4 828.5,1329.3 M840.6,1322.3 Q847.9,1319.5 851.9,1315.8" stroke="#8581c0" stroke-width="2.6" stroke-linecap="round" fill="none"/>
<circle cx="840.6" cy="1322.3" r="10.5" fill="#8985c2"/><ellipse cx="839.1" cy="1322.3" rx="5" ry="5.8" fill="#5f5b96"/>
<circle cx="874.6" cy="1321.3" r="19" fill="url(#thalo)"/>
<circle cx="874.6" cy="1321.3" r="11.5" fill="#a9c6ee" stroke="#8fb0e0" stroke-width="1.2"/><circle cx="874.6" cy="1321.3" r="7.5" fill="#94b7ea"/>
<circle cx="882.4" cy="1307.9" r="1.4" fill="#2a9a90"/>
<circle cx="889.2" cy="1316.0" r="1.4" fill="#2a9a90"/>
<circle cx="889.2" cy="1326.6" r="1.4" fill="#2a9a90"/>
<circle cx="882.4" cy="1334.7" r="1.4" fill="#2a9a90"/>
<circle cx="871.9" cy="1336.6" r="1.4" fill="#2a9a90"/>
<circle cx="862.7" cy="1331.3" r="1.4" fill="#2a9a90"/>
<circle cx="860.0" cy="1316.0" r="1.4" fill="#2a9a90"/>
<circle cx="866.9" cy="1307.9" r="1.4" fill="#2a9a90"/>
<rect x="849.6" y="1318.3" width="8" height="2.6" fill="#7a3b8a"/><rect x="849.6" y="1321.3" width="8" height="2.6" fill="#3aa0a0"/><rect x="849.6" y="1324.5" width="8" height="2.6" fill="#e9a23a"/>
<path d="M844.6,1307.3 Q856.6,1297.3 868.6,1305.3" fill="none" stroke="#8a8a8a" stroke-width="1.4"/>
<circle cx="837.6" cy="1305.3" r="1" fill="#8a5ab0"/>
<circle cx="841.6" cy="1302.3" r="1" fill="#8a5ab0"/>
<circle cx="845.6" cy="1299.3" r="1" fill="#8a5ab0"/>
<circle cx="849.6" cy="1305.3" r="1" fill="#8a5ab0"/>
<circle cx="853.6" cy="1302.3" r="1" fill="#8a5ab0"/>
<circle cx="857.6" cy="1299.3" r="1" fill="#8a5ab0"/>
<circle cx="861.6" cy="1305.3" r="1" fill="#8a5ab0"/>
<circle cx="865.6" cy="1302.3" r="1" fill="#8a5ab0"/>
<circle cx="869.6" cy="1299.3" r="1" fill="#8a5ab0"/>
<path d="M914.2,1322.3 Q906.2,1317.0 899.7,1315.5 M914.2,1322.3 Q912.4,1313.5 909.1,1308.2 M914.2,1322.3 Q918.8,1315.3 920.1,1309.6 M914.2,1322.3 Q917.5,1330.7 921.7,1335.3 M914.2,1322.3 Q910.4,1331.1 910.1,1337.8 M914.2,1322.3 Q906.4,1325.4 902.1,1329.3 M914.2,1322.3 Q921.5,1319.5 925.5,1315.8" stroke="#8581c0" stroke-width="2.6" stroke-linecap="round" fill="none"/>
<circle cx="914.2" cy="1322.3" r="10.5" fill="#8985c2"/><ellipse cx="912.7" cy="1322.3" rx="5" ry="5.8" fill="#5f5b96"/>
<circle cx="948.2" cy="1321.3" r="19" fill="url(#thalo)"/>
<circle cx="948.2" cy="1321.3" r="11.5" fill="#a9c6ee" stroke="#8fb0e0" stroke-width="1.2"/><circle cx="948.2" cy="1321.3" r="7.5" fill="#94b7ea"/>
<circle cx="956.0" cy="1307.9" r="1.4" fill="#2a9a90"/>
<circle cx="962.8" cy="1316.0" r="1.4" fill="#2a9a90"/>
<circle cx="962.8" cy="1326.6" r="1.4" fill="#2a9a90"/>
<circle cx="956.0" cy="1334.7" r="1.4" fill="#2a9a90"/>
<circle cx="945.5" cy="1336.6" r="1.4" fill="#2a9a90"/>
<circle cx="936.3" cy="1331.3" r="1.4" fill="#2a9a90"/>
<circle cx="933.6" cy="1316.0" r="1.4" fill="#2a9a90"/>
<circle cx="940.5" cy="1307.9" r="1.4" fill="#2a9a90"/>
<rect x="923.2" y="1318.3" width="8" height="2.6" fill="#7a3b8a"/><rect x="923.2" y="1321.3" width="8" height="2.6" fill="#3aa0a0"/><rect x="923.2" y="1324.5" width="8" height="2.6" fill="#e9a23a"/>
<path d="M918.2,1307.3 Q930.2,1297.3 942.2,1305.3" fill="none" stroke="#8a8a8a" stroke-width="1.4"/>
<circle cx="911.2" cy="1305.3" r="1" fill="#8a5ab0"/>
<circle cx="915.2" cy="1302.3" r="1" fill="#8a5ab0"/>
<circle cx="919.2" cy="1299.3" r="1" fill="#8a5ab0"/>
<circle cx="923.2" cy="1305.3" r="1" fill="#8a5ab0"/>
<circle cx="927.2" cy="1302.3" r="1" fill="#8a5ab0"/>
<circle cx="931.2" cy="1299.3" r="1" fill="#8a5ab0"/>
<circle cx="935.2" cy="1305.3" r="1" fill="#8a5ab0"/>
<circle cx="939.2" cy="1302.3" r="1" fill="#8a5ab0"/>
<circle cx="943.2" cy="1299.3" r="1" fill="#8a5ab0"/>
<path d="M823.9,1355.2 L823.9,1348.2 M823.9,1348.2 L821.0,1344.1 M823.9,1348.2 L826.8,1344.1 M836.0,1362.2 L842.1,1358.7 M842.1,1358.7 L844.2,1354.2 M842.1,1358.7 L847.1,1359.1 M836.0,1376.2 L842.1,1379.7 M842.1,1379.7 L847.1,1379.3 M842.1,1379.7 L844.2,1384.2 M823.9,1383.2 L823.9,1390.2 M823.9,1390.2 L826.8,1394.3 M823.9,1390.2 L821.0,1394.3 M811.8,1376.2 L805.7,1379.7 M805.7,1379.7 L803.6,1384.2 M805.7,1379.7 L800.7,1379.3 M811.8,1362.2 L805.7,1358.7 M805.7,1358.7 L800.7,1359.1 M805.7,1358.7 L803.6,1354.2" stroke="#eea04a" stroke-width="2.2" stroke-linecap="round" fill="none"/>
<circle cx="823.9" cy="1369.2" r="14.5" fill="#f6cb8a" stroke="#f0b870" stroke-width="1"/><circle cx="823.9" cy="1369.2" r="9" fill="#f0ae58"/>
<path d="M873.0,1355.2 L873.0,1348.2 M873.0,1348.2 L870.1,1344.1 M873.0,1348.2 L875.9,1344.1 M885.1,1362.2 L891.2,1358.7 M891.2,1358.7 L893.3,1354.2 M891.2,1358.7 L896.2,1359.1 M885.1,1376.2 L891.2,1379.7 M891.2,1379.7 L896.2,1379.3 M891.2,1379.7 L893.3,1384.2 M873.0,1383.2 L873.0,1390.2 M873.0,1390.2 L875.9,1394.3 M873.0,1390.2 L870.1,1394.3 M860.9,1376.2 L854.8,1379.7 M854.8,1379.7 L852.7,1384.2 M854.8,1379.7 L849.8,1379.3 M860.9,1362.2 L854.8,1358.7 M854.8,1358.7 L849.8,1359.1 M854.8,1358.7 L852.7,1354.2" stroke="#eea04a" stroke-width="2.2" stroke-linecap="round" fill="none"/>
<circle cx="873" cy="1369.2" r="14.5" fill="#f6cb8a" stroke="#f0b870" stroke-width="1"/><circle cx="873" cy="1369.2" r="9" fill="#f0ae58"/>
<path d="M921.0,1355.2 L921.0,1348.2 M921.0,1348.2 L918.1,1344.1 M921.0,1348.2 L923.9,1344.1 M933.1,1362.2 L939.2,1358.7 M939.2,1358.7 L941.3,1354.2 M939.2,1358.7 L944.2,1359.1 M933.1,1376.2 L939.2,1379.7 M939.2,1379.7 L944.2,1379.3 M939.2,1379.7 L941.3,1384.2 M921.0,1383.2 L921.0,1390.2 M921.0,1390.2 L923.9,1394.3 M921.0,1390.2 L918.1,1394.3 M908.9,1376.2 L902.8,1379.7 M902.8,1379.7 L900.7,1384.2 M902.8,1379.7 L897.8,1379.3 M908.9,1362.2 L902.8,1358.7 M902.8,1358.7 L897.8,1359.1 M902.8,1358.7 L900.7,1354.2" stroke="#eea04a" stroke-width="2.2" stroke-linecap="round" fill="none"/>
<circle cx="921" cy="1369.2" r="14.5" fill="#f6cb8a" stroke="#f0b870" stroke-width="1"/><circle cx="921" cy="1369.2" r="9" fill="#f0ae58"/>
<path d="M802.1,1402.0 L802.1,1395.0 M802.1,1395.0 L799.2,1390.9 M802.1,1395.0 L805.0,1390.9 M814.2,1409.0 L820.3,1405.5 M820.3,1405.5 L822.4,1401.0 M820.3,1405.5 L825.3,1405.9 M814.2,1423.0 L820.3,1426.5 M820.3,1426.5 L825.3,1426.1 M820.3,1426.5 L822.4,1431.0 M802.1,1430.0 L802.1,1437.0 M802.1,1437.0 L805.0,1441.1 M802.1,1437.0 L799.2,1441.1 M790.0,1423.0 L783.9,1426.5 M783.9,1426.5 L781.8,1431.0 M783.9,1426.5 L778.9,1426.1 M790.0,1409.0 L783.9,1405.5 M783.9,1405.5 L778.9,1405.9 M783.9,1405.5 L781.8,1401.0" stroke="#eea04a" stroke-width="2.2" stroke-linecap="round" fill="none"/>
<circle cx="802.1" cy="1416" r="14.5" fill="#f6cb8a" stroke="#f0b870" stroke-width="1"/><circle cx="802.1" cy="1416" r="9" fill="#f0ae58"/>
<path d="M844.0,1425.5 L844.0,1418.5 M844.0,1418.5 L841.1,1414.4 M844.0,1418.5 L846.9,1414.4 M856.1,1432.5 L862.2,1429.0 M862.2,1429.0 L864.3,1424.5 M862.2,1429.0 L867.2,1429.4 M856.1,1446.5 L862.2,1450.0 M862.2,1450.0 L867.2,1449.6 M862.2,1450.0 L864.3,1454.5 M844.0,1453.5 L844.0,1460.5 M844.0,1460.5 L846.9,1464.6 M844.0,1460.5 L841.1,1464.6 M831.9,1446.5 L825.8,1450.0 M825.8,1450.0 L823.7,1454.5 M825.8,1450.0 L820.8,1449.6 M831.9,1432.5 L825.8,1429.0 M825.8,1429.0 L820.8,1429.4 M825.8,1429.0 L823.7,1424.5" stroke="#eea04a" stroke-width="2.2" stroke-linecap="round" fill="none"/>
<circle cx="844" cy="1439.5" r="14.5" fill="#f6cb8a" stroke="#f0b870" stroke-width="1"/><circle cx="844" cy="1439.5" r="9" fill="#f0ae58"/>
<path d="M88.0,1142.0 L123.3,1248.5" fill="none" stroke="#222" stroke-width="2.5" stroke-dasharray="6 5"/>
<path d="M126.6,1258.4 L116.3,1248.1 L128.7,1244.0 Z" fill="#222"/>
<path d="M254.3,1001 L245.4,1282" stroke="#555" stroke-width="1.6"/>
<path d="M244.6,1294.4 L239.0,1280.2 L251.0,1280.6 Z" fill="#222"/>
<path d="M432.0,1142.0 L458.8,1250.9" fill="none" stroke="#222" stroke-width="5" stroke-dasharray="12 8"/>
<path d="M463.0,1268.0 L447.1,1249.3 L468.4,1244.0 Z" fill="#222"/>
<linearGradient id="il6g2" gradientUnits="userSpaceOnUse" x1="0" y1="1010" x2="0" y2="1240"><stop offset="0" stop-color="#c8c8c8"/><stop offset="0.3" stop-color="#333"/><stop offset="1" stop-color="#111"/></linearGradient>
<path d="M598.7,1010 V1222" stroke="url(#il6g2)" stroke-width="4.5"/>
<path d="M598.7,1242.7 L588.7,1220.7 L608.7,1220.7 Z" fill="#222"/>
<path d="M772.0,1142.0 L793.5,1237.0" fill="none" stroke="#222" stroke-width="7" stroke-dasharray="16 9"/>
<path d="M798.8,1260.4 L777.5,1234.5 L806.8,1227.8 Z" fill="#222"/>
<path d="M937.7,1010 V1215" stroke="url(#il6g2)" stroke-width="7"/>
<path d="M937.7,1243.7 L922.7,1213.7 L952.7,1213.7 Z" fill="#222"/>
<path d="M171.5,1409 Q200,1448 275.6,1440.3" fill="none" stroke="#222" stroke-width="2.6" stroke-dasharray="6 5"/>
<path d="M285.6,1440.3 L272.9,1447.0 L272.3,1435.0 Z" fill="#222"/>
<path d="M513.7,1419.9 Q540,1452 613.4,1446.9" fill="none" stroke="#222" stroke-width="2.6" stroke-dasharray="6 5"/>
<path d="M623.4,1446.9 L610.7,1453.6 L610.1,1441.6 Z" fill="#222"/>
<path d="M849,1409 Q880,1452 952.8,1446" fill="none" stroke="#222" stroke-width="2.6" stroke-dasharray="6 5"/>
<path d="M962.8,1446.0 L950.1,1452.7 L949.5,1440.7 Z" fill="#222"/>
<g transform="translate(289.5,1439) rotate(0)" stroke="#f39c34" stroke-width="4.6" stroke-linecap="round" fill="none"><path d="M0,-4 L26.6,-6.7 L41.7,-20.2"/><path d="M0.7,4.2 L27,1.5 L44.7,11.2"/><path d="M24.7,-14.7 L37,-25.1"/><path d="M27,9.6 L41.7,17.7"/></g>
<g transform="translate(627,1446) rotate(0)" stroke="#f39c34" stroke-width="4.6" stroke-linecap="round" fill="none"><path d="M0,-4 L26.6,-6.7 L41.7,-20.2"/><path d="M0.7,4.2 L27,1.5 L44.7,11.2"/><path d="M24.7,-14.7 L37,-25.1"/><path d="M27,9.6 L41.7,17.7"/></g>
<g transform="translate(603,1486) rotate(-8)" stroke="#f39c34" stroke-width="4.6" stroke-linecap="round" fill="none"><path d="M0,-4 L26.6,-6.7 L41.7,-20.2"/><path d="M0.7,4.2 L27,1.5 L44.7,11.2"/><path d="M24.7,-14.7 L37,-25.1"/><path d="M27,9.6 L41.7,17.7"/></g>
<g transform="translate(666,1493) rotate(-12)" stroke="#f39c34" stroke-width="4.6" stroke-linecap="round" fill="none"><path d="M0,-4 L26.6,-6.7 L41.7,-20.2"/><path d="M0.7,4.2 L27,1.5 L44.7,11.2"/><path d="M24.7,-14.7 L37,-25.1"/><path d="M27,9.6 L41.7,17.7"/></g>
<g transform="translate(962,1422) rotate(0)" stroke="#f39c34" stroke-width="4.6" stroke-linecap="round" fill="none"><path d="M0,-4 L26.6,-6.7 L41.7,-20.2"/><path d="M0.7,4.2 L27,1.5 L44.7,11.2"/><path d="M24.7,-14.7 L37,-25.1"/><path d="M27,9.6 L41.7,17.7"/></g>
<g transform="translate(867.6,1486) rotate(-5)" stroke="#f39c34" stroke-width="4.6" stroke-linecap="round" fill="none"><path d="M0,-4 L26.6,-6.7 L41.7,-20.2"/><path d="M0.7,4.2 L27,1.5 L44.7,11.2"/><path d="M24.7,-14.7 L37,-25.1"/><path d="M27,9.6 L41.7,17.7"/></g>
<g transform="translate(938,1476) rotate(-8)" stroke="#f39c34" stroke-width="4.6" stroke-linecap="round" fill="none"><path d="M0,-4 L26.6,-6.7 L41.7,-20.2"/><path d="M0.7,4.2 L27,1.5 L44.7,11.2"/><path d="M24.7,-14.7 L37,-25.1"/><path d="M27,9.6 L41.7,17.7"/></g>
<g transform="translate(897,1530) rotate(-5)" stroke="#f39c34" stroke-width="4.6" stroke-linecap="round" fill="none"><path d="M0,-4 L26.6,-6.7 L41.7,-20.2"/><path d="M0.7,4.2 L27,1.5 L44.7,11.2"/><path d="M24.7,-14.7 L37,-25.1"/><path d="M27,9.6 L41.7,17.7"/></g>
<g transform="translate(958.8,1530) rotate(-8)" stroke="#f39c34" stroke-width="4.6" stroke-linecap="round" fill="none"><path d="M0,-4 L26.6,-6.7 L41.7,-20.2"/><path d="M0.7,4.2 L27,1.5 L44.7,11.2"/><path d="M24.7,-14.7 L37,-25.1"/><path d="M27,9.6 L41.7,17.7"/></g>
<path d="M888,709 C950,760 990,830 985,885 C980,930 935,960 870,967" fill="none" stroke="#222" stroke-width="3" stroke-dasharray="4 3.5"/>
<path d="M857.3,968.7 L869.8,961.8 L870.7,973.8 Z" fill="#222"/>
<path d="M893,707 C960,760 1003,830 1003,890 L1001,948" fill="none" stroke="#222" stroke-width="3" stroke-dasharray="4 3.5"/>
<path d="M999.6,960.3 L994.1,947.1 L1006.1,947.5 Z" fill="#222"/>
</svg>
</body></html>
